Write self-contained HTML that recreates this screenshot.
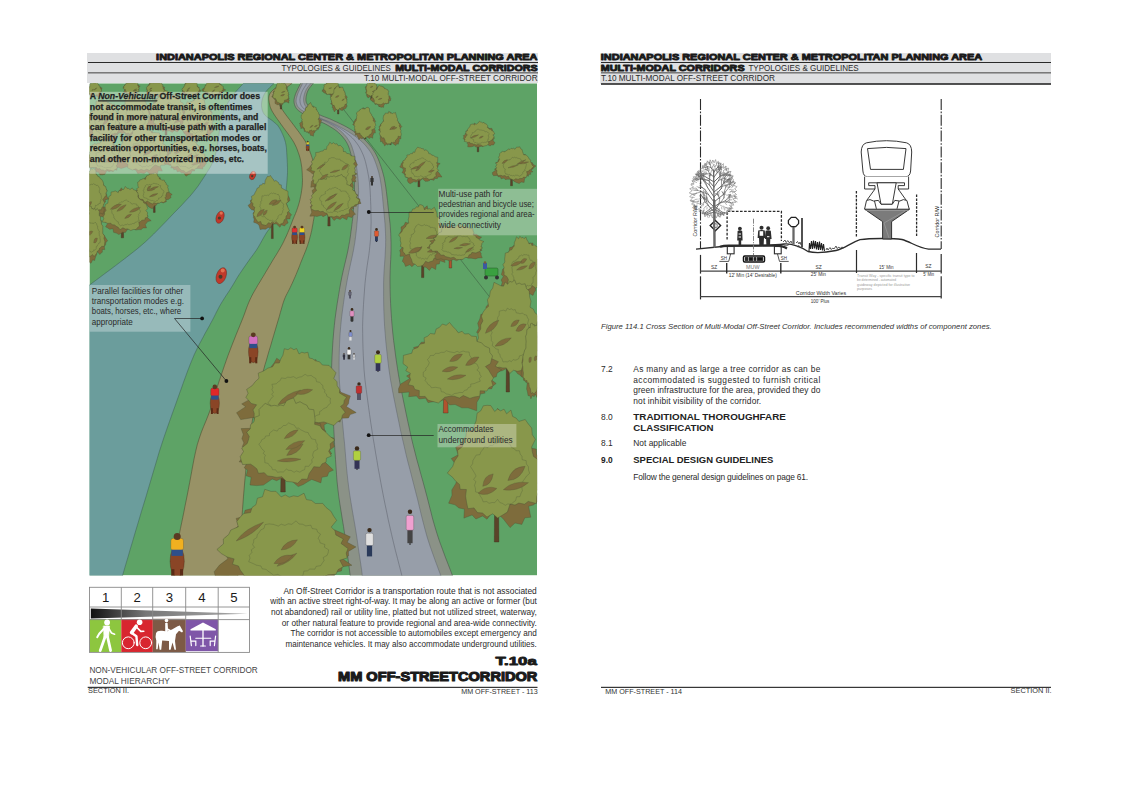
<!DOCTYPE html>
<html><head><meta charset="utf-8">
<style>
html,body{margin:0;padding:0;background:#fff;}
body{width:1123px;height:794px;overflow:hidden;}
svg{display:block;}
text{font-family:"Liberation Sans",sans-serif;}
.hv{font-weight:bold;fill:#1a1a1a;stroke:#1a1a1a;stroke-width:0.85;stroke-linejoin:round;}
.rg{fill:#2a2a2a;}
.bd{font-weight:bold;fill:#222;}
</style></head>
<body>
<svg width="1123" height="794" viewBox="0 0 1123 794">
<rect width="1123" height="794" fill="#fff"/>

<!-- LEFT PAGE HEADER -->
<rect x="87" y="53" width="451" height="30" fill="#dfe0e2"/>
<rect x="88" y="62" width="450" height="1" fill="#2a2a2a"/>
<rect x="88" y="72.1" width="450" height="1.4" fill="#6e6e6e"/>
<text class="hv" x="156.1" y="59.6" font-size="9.2" textLength="381.4" lengthAdjust="spacingAndGlyphs">INDIANAPOLIS REGIONAL CENTER &amp; METROPOLITAN PLANNING AREA</text>
<text class="rg" x="281.4" y="70.7" font-size="8.6" textLength="109.5" lengthAdjust="spacingAndGlyphs">TYPOLOGIES &amp; GUIDELINES</text>
<text class="hv" x="395.2" y="70.7" font-size="9.2" textLength="142.4" lengthAdjust="spacingAndGlyphs">MULTI-MODAL CORRIDORS</text>
<text class="rg" x="363.9" y="81.4" font-size="8.6" textLength="173.7" lengthAdjust="spacingAndGlyphs">T.10 MULTI-MODAL OFF-STREET CORRIDOR</text>

<!-- RIGHT PAGE HEADER -->
<rect x="600.3" y="53" width="450.7" height="31" fill="#dfe0e2"/>
<rect x="601" y="62" width="450" height="1" fill="#2a2a2a"/>
<rect x="601" y="72.1" width="450" height="1.4" fill="#6e6e6e"/>
<rect x="601" y="83.2" width="450" height="1.6" fill="#2a2a2a"/>
<text class="hv" x="600.8" y="59.6" font-size="9.2" textLength="381.4" lengthAdjust="spacingAndGlyphs">INDIANAPOLIS REGIONAL CENTER &amp; METROPOLITAN PLANNING AREA</text>
<text class="hv" x="600.8" y="70.7" font-size="9.2" textLength="143.8" lengthAdjust="spacingAndGlyphs">MULTI-MODAL CORRIDORS</text>
<text class="rg" x="748.4" y="70.7" font-size="8.6" textLength="110.3" lengthAdjust="spacingAndGlyphs">TYPOLOGIES &amp; GUIDELINES</text>
<text class="rg" x="601" y="81.4" font-size="8.6" textLength="174" lengthAdjust="spacingAndGlyphs">T.10 MULTI-MODAL OFF-STREET CORRIDOR</text>

<!-- ILLUSTRATION -->
<!--ILLUS_START-->
<g id="illus"><defs><clipPath id="ic"><rect x="89.5" y="83.3" width="447.6" height="492.1"/></clipPath></defs><g clip-path="url(#ic)">
<rect x="89.5" y="83.3" width="447.6" height="492.09999999999997" fill="#5ea366"/>
<path d="M243.5,83.3 L242.3,84.6 L240.6,86.4 L238.7,88.5 L236.6,90.8 L234.6,93.2 L232.8,95.4 L231.3,97.5 L229.8,99.7 L228.4,102.0 L227.1,104.2 L225.9,106.5 L224.8,108.7 L223.9,110.9 L223.1,113.1 L222.4,115.3 L221.8,117.6 L221.3,119.8 L220.8,122.0 L220.4,124.2 L220.0,126.5 L219.7,128.7 L219.4,130.9 L219.1,133.2 L218.8,135.4 L218.5,137.6 L218.2,139.9 L217.9,142.1 L217.6,144.3 L217.2,146.6 L216.8,148.8 L216.3,151.0 L215.7,153.3 L215.1,155.5 L214.4,157.7 L213.7,159.9 L212.8,162.0 L211.9,164.0 L211.0,165.8 L210.0,167.7 L208.8,169.5 L207.5,171.6 L206.0,174.0 L204.3,176.7 L202.4,179.6 L200.4,182.6 L198.2,185.9 L195.6,189.3 L192.8,192.8 L189.6,196.6 L185.9,200.5 L182.1,204.7 L178.0,208.9 L173.9,213.1 L169.9,217.3 L165.9,221.5 L161.8,225.7 L157.7,229.9 L153.6,234.1 L149.4,238.1 L145.3,241.9 L141.3,245.4 L137.4,248.7 L133.5,251.8 L129.5,254.9 L125.3,258.2 L120.8,261.6 L115.6,265.6 L109.7,270.0 L103.6,274.5 L97.9,278.8 L93.0,282.4 L89.5,285.0 L88.5,285.0 L88.5,576.4 L122.6,576.4 L122.6,575.4 L123.9,570.9 L125.7,564.7 L127.9,557.4 L130.2,549.4 L132.6,541.4 L134.8,533.8 L137.0,526.5 L139.2,519.2 L141.4,511.7 L143.7,504.2 L146.0,496.7 L148.2,489.2 L150.4,481.8 L152.6,474.3 L154.8,466.9 L157.0,459.5 L159.2,452.0 L161.6,444.6 L164.1,437.0 L166.8,429.2 L169.5,421.5 L172.2,413.9 L174.8,406.7 L177.2,400.0 L179.4,393.8 L181.5,388.0 L183.4,382.5 L185.3,377.4 L187.0,372.7 L188.6,368.5 L190.0,364.9 L191.2,361.9 L192.3,359.3 L193.3,356.9 L194.3,354.5 L195.5,352.0 L196.8,349.3 L198.1,346.7 L199.4,344.1 L200.8,341.5 L202.2,338.9 L203.6,336.3 L205.0,333.6 L206.5,330.9 L208.0,328.2 L209.6,325.4 L211.0,322.7 L212.5,320.0 L213.9,317.3 L215.2,314.7 L216.5,312.1 L217.8,309.5 L219.2,306.9 L220.7,304.2 L222.4,301.4 L224.2,298.6 L226.0,295.7 L227.9,292.9 L229.7,290.2 L231.3,287.6 L232.8,285.2 L234.1,283.0 L235.4,280.8 L236.6,278.7 L237.9,276.6 L239.3,274.4 L240.8,272.2 L242.3,270.0 L243.8,267.8 L245.4,265.5 L246.9,263.3 L248.5,261.1 L250.0,258.9 L251.6,256.8 L253.2,254.7 L254.7,252.5 L256.3,250.3 L257.8,247.9 L259.3,245.4 L260.8,242.7 L262.3,240.0 L263.8,237.3 L265.4,234.6 L267.0,232.0 L268.8,229.6 L270.7,227.3 L272.7,225.0 L274.6,222.7 L276.4,220.4 L278.0,218.0 L279.4,215.4 L280.7,212.7 L281.8,210.0 L282.8,207.3 L283.7,204.6 L284.5,202.0 L285.1,199.5 L285.5,197.2 L285.7,194.8 L285.9,192.5 L286.1,190.2 L286.3,187.8 L286.6,185.3 L286.8,182.8 L287.0,180.3 L287.2,177.8 L287.4,175.2 L287.5,172.7 L287.5,170.2 L287.5,167.7 L287.4,165.1 L287.3,162.6 L287.2,160.1 L287.0,157.6 L286.9,155.1 L286.7,152.5 L286.6,150.0 L286.4,147.5 L286.0,145.0 L285.5,142.5 L284.8,140.0 L283.9,137.3 L282.8,134.7 L281.7,132.3 L280.6,130.0 L279.5,128.0 L278.4,126.4 L277.4,125.1 L276.3,124.0 L275.1,123.1 L274.0,122.1 L272.7,121.0 L271.3,119.9 L269.7,118.8 L268.1,117.7 L266.5,116.6 L265.1,115.3 L264.0,114.0 L263.2,112.5 L262.5,110.9 L262.0,109.2 L261.7,107.5 L261.5,105.8 L261.5,104.0 L261.7,102.2 L262.0,100.4 L262.5,98.5 L263.2,96.6 L264.0,94.8 L265.0,93.0 L266.3,91.2 L267.9,89.3 L269.7,87.5 L271.5,85.8 L273.0,84.3 L274.0,83.3 Z" fill="#6b9d9c" stroke="#3f5f55" stroke-width="0.5"/>
<path d="M282.0,82.3 L282.0,83.3 L281.0,84.0 L279.5,85.1 L277.8,86.3 L276.0,87.6 L274.3,88.8 L273.0,90.0 L272.0,91.0 L271.1,92.0 L270.4,92.9 L269.8,93.9 L269.3,94.9 L269.0,96.0 L268.8,97.2 L268.7,98.5 L268.8,99.9 L269.0,101.2 L269.2,102.6 L269.5,104.0 L269.8,105.3 L270.1,106.5 L270.5,107.6 L271.0,108.9 L271.7,110.4 L272.7,112.2 L274.0,114.3 L275.7,116.8 L277.5,119.4 L279.5,122.1 L281.4,124.8 L283.3,127.4 L285.1,129.9 L287.0,132.4 L288.9,135.0 L290.7,137.5 L292.4,140.0 L293.9,142.5 L295.2,145.0 L296.4,147.5 L297.4,150.1 L298.3,152.6 L299.2,155.1 L299.9,157.6 L300.5,160.1 L301.0,162.6 L301.4,165.1 L301.8,167.7 L302.0,170.2 L302.2,172.7 L302.3,175.2 L302.4,177.7 L302.5,180.2 L302.4,182.8 L302.3,185.3 L302.0,188.0 L301.6,190.7 L301.2,193.6 L300.6,196.4 L300.0,199.3 L299.3,202.2 L298.5,205.0 L297.6,207.8 L296.6,210.7 L295.5,213.5 L294.3,216.3 L293.2,218.9 L292.2,221.5 L291.3,223.9 L290.4,226.1 L289.6,228.3 L288.7,230.4 L287.8,232.5 L286.9,234.7 L285.9,236.9 L284.8,239.1 L283.8,241.3 L282.7,243.5 L281.5,245.7 L280.3,247.9 L279.0,250.1 L277.7,252.3 L276.4,254.5 L275.0,256.7 L273.6,258.9 L272.3,261.1 L271.0,263.3 L269.7,265.5 L268.3,267.8 L267.0,270.0 L265.7,272.2 L264.4,274.4 L263.1,276.6 L261.7,278.8 L260.4,281.1 L259.0,283.3 L257.7,285.4 L256.5,287.6 L255.3,289.6 L254.2,291.5 L253.1,293.4 L252.1,295.3 L251.0,297.5 L249.8,300.0 L248.6,302.8 L247.4,305.8 L246.2,309.0 L245.0,312.4 L243.6,316.2 L242.0,320.2 L240.2,324.7 L238.2,329.6 L236.1,334.7 L234.0,340.0 L231.9,345.3 L229.9,350.5 L228.0,355.5 L226.2,360.6 L224.4,365.7 L222.7,370.7 L221.0,375.7 L219.3,380.7 L217.7,385.6 L216.3,390.3 L214.9,395.1 L213.5,399.9 L211.9,404.8 L210.2,410.0 L208.2,415.3 L206.0,420.8 L203.7,426.3 L201.4,432.1 L199.3,438.2 L197.3,444.6 L195.6,451.6 L194.0,459.1 L192.5,467.0 L191.1,474.8 L189.7,482.3 L188.4,489.2 L187.2,495.4 L186.0,501.2 L184.9,506.6 L183.9,511.9 L182.8,517.2 L181.7,522.6 L180.5,528.3 L179.3,534.3 L178.1,540.2 L177.0,545.9 L175.9,551.2 L175.0,556.0 L174.2,560.3 L173.5,564.2 L172.9,567.8 L172.4,570.9 L171.9,573.5 L171.6,575.4 L171.6,576.4 L238.0,576.4 L238.0,575.4 L238.3,570.4 L238.8,563.5 L239.3,555.2 L239.9,546.5 L240.5,537.8 L241.0,530.0 L241.5,523.0 L242.0,516.2 L242.5,509.5 L243.0,502.9 L243.5,496.2 L244.1,489.2 L244.7,482.0 L245.4,474.8 L246.0,467.5 L246.8,460.0 L247.6,452.4 L248.6,444.6 L249.8,436.3 L251.2,427.5 L252.7,418.5 L254.2,409.8 L255.7,401.8 L257.0,395.0 L258.1,389.6 L259.2,385.2 L260.2,381.5 L261.2,378.3 L262.1,375.1 L263.1,371.6 L264.1,368.1 L265.0,364.7 L266.0,361.5 L267.0,358.1 L268.0,354.5 L269.2,350.5 L270.6,345.9 L272.1,340.7 L273.7,335.3 L275.3,329.9 L276.8,324.8 L278.2,320.2 L279.4,316.2 L280.4,312.4 L281.4,309.0 L282.3,305.8 L283.2,302.8 L284.2,300.0 L285.2,297.5 L286.2,295.3 L287.2,293.4 L288.2,291.5 L289.2,289.6 L290.2,287.6 L291.2,285.4 L292.2,283.3 L293.2,281.1 L294.2,278.8 L295.2,276.6 L296.1,274.4 L297.0,272.2 L297.9,270.0 L298.8,267.8 L299.7,265.5 L300.5,263.3 L301.4,261.1 L302.3,258.9 L303.2,256.7 L304.1,254.5 L305.0,252.3 L305.9,250.1 L306.7,247.9 L307.5,245.7 L308.2,243.5 L308.9,241.3 L309.5,239.1 L310.1,236.9 L310.7,234.7 L311.2,232.5 L311.7,230.4 L312.1,228.3 L312.5,226.1 L312.9,223.9 L313.3,221.5 L313.8,218.9 L314.2,216.3 L314.7,213.5 L315.2,210.7 L315.6,207.8 L316.0,205.0 L316.4,202.2 L316.7,199.3 L317.0,196.4 L317.3,193.6 L317.4,190.7 L317.5,188.0 L317.5,185.3 L317.3,182.8 L317.1,180.2 L316.8,177.7 L316.4,175.2 L316.0,172.7 L315.5,170.2 L314.9,167.7 L314.3,165.1 L313.6,162.6 L312.8,160.1 L312.0,157.6 L311.2,155.1 L310.3,152.6 L309.4,150.1 L308.4,147.5 L307.3,145.0 L306.0,142.5 L304.5,140.0 L302.8,137.5 L301.0,135.0 L299.2,132.4 L297.3,129.9 L295.4,127.4 L293.5,124.8 L291.4,122.1 L289.4,119.4 L287.4,116.8 L285.5,114.3 L284.0,112.2 L282.8,110.4 L281.7,108.9 L280.9,107.6 L280.2,106.5 L279.6,105.3 L279.0,104.0 L278.5,102.6 L278.0,101.2 L277.6,99.8 L277.4,98.5 L277.3,97.2 L277.5,96.0 L278.0,95.0 L278.7,94.0 L279.6,93.2 L280.6,92.4 L281.8,91.5 L283.0,90.5 L284.4,89.3 L286.1,88.0 L287.8,86.6 L289.5,85.2 L291.0,84.1 L292.0,83.3 L292.0,82.3 Z" fill="#989266" stroke="#4d4a30" stroke-width="0.55"/>
<path d="M300.6,82.3 L300.6,83.3 L300.0,84.6 L299.1,86.4 L298.0,88.5 L297.0,90.7 L296.0,92.8 L295.3,94.7 L294.8,96.3 L294.4,97.8 L294.1,99.2 L294.0,100.6 L294.0,101.9 L294.2,103.2 L294.5,104.5 L294.9,105.7 L295.5,107.0 L296.2,108.2 L297.2,109.4 L298.5,110.6 L300.1,111.8 L302.0,113.1 L304.2,114.4 L306.5,115.6 L308.9,116.8 L311.2,118.0 L313.6,119.1 L316.1,120.1 L318.6,121.1 L321.1,122.1 L323.6,123.1 L326.0,124.3 L328.3,125.6 L330.5,126.9 L332.8,128.3 L334.9,129.7 L336.9,131.2 L338.7,132.8 L340.4,134.4 L342.0,136.1 L343.4,137.8 L344.8,139.6 L346.0,141.4 L347.1,143.3 L348.1,145.3 L348.9,147.3 L349.6,149.4 L350.2,151.5 L350.8,153.7 L351.3,156.0 L351.8,158.3 L352.2,160.7 L352.6,163.2 L352.9,165.7 L353.2,168.3 L353.5,170.9 L353.8,173.6 L354.0,176.2 L354.2,179.0 L354.4,181.8 L354.5,184.7 L354.5,187.8 L354.5,191.1 L354.4,194.6 L354.2,198.3 L354.0,201.9 L353.7,205.5 L353.5,209.0 L353.2,212.3 L353.0,215.4 L352.7,218.4 L352.3,221.5 L351.9,224.7 L351.5,228.0 L351.0,231.4 L350.6,234.7 L350.1,238.1 L349.5,241.7 L348.8,245.7 L348.0,250.0 L347.0,254.7 L345.8,259.8 L344.5,265.2 L343.2,270.8 L341.9,276.7 L340.7,282.9 L339.5,289.5 L338.4,296.4 L337.2,303.7 L336.1,311.1 L335.1,318.4 L334.3,325.7 L333.6,333.0 L333.0,340.4 L332.5,347.9 L332.1,355.1 L331.8,362.1 L331.6,368.6 L331.5,374.3 L331.6,379.4 L331.8,384.2 L332.0,389.0 L332.2,394.1 L332.5,400.0 L332.8,406.7 L333.1,413.9 L333.4,421.5 L333.8,429.2 L334.2,437.0 L334.6,444.6 L335.0,452.0 L335.5,459.5 L336.0,466.9 L336.5,474.3 L337.1,481.8 L337.9,489.2 L338.8,496.7 L339.9,504.1 L341.1,511.6 L342.3,519.1 L343.5,526.4 L344.6,533.7 L345.7,541.3 L346.8,549.4 L347.8,557.3 L348.8,564.7 L349.6,570.9 L350.2,575.4 L350.2,576.4 L452.4,576.4 L452.4,575.4 L450.7,570.9 L448.3,564.7 L445.4,557.3 L442.5,549.4 L439.5,541.3 L437.0,533.7 L434.8,526.4 L432.7,519.1 L430.8,511.6 L428.9,504.1 L427.0,496.7 L425.0,489.2 L423.0,481.8 L420.9,474.3 L418.9,466.9 L416.8,459.5 L414.9,452.0 L413.0,444.6 L411.2,437.0 L409.5,429.2 L407.8,421.5 L406.2,413.9 L404.7,406.7 L403.3,400.0 L402.1,394.1 L401.1,389.0 L400.1,384.2 L399.3,379.4 L398.4,374.3 L397.5,368.6 L396.5,362.1 L395.5,355.1 L394.6,347.9 L393.6,340.4 L392.8,333.0 L392.1,325.7 L391.5,318.4 L391.0,311.1 L390.6,303.7 L390.3,296.4 L390.1,289.5 L390.0,282.9 L390.0,276.7 L390.2,270.7 L390.4,265.0 L390.7,259.6 L390.9,254.6 L391.0,250.0 L391.0,245.9 L391.0,242.4 L390.9,239.3 L390.8,236.3 L390.7,233.3 L390.5,230.1 L390.3,226.7 L390.0,223.3 L389.6,219.9 L389.2,216.4 L388.8,212.8 L388.4,209.0 L387.9,204.9 L387.5,200.5 L386.9,196.0 L386.4,191.5 L385.8,187.3 L385.2,183.5 L384.6,180.2 L384.0,177.2 L383.3,174.4 L382.6,171.8 L381.8,169.2 L381.0,166.6 L380.1,164.0 L379.2,161.4 L378.2,158.9 L377.1,156.5 L375.9,154.1 L374.6,151.8 L373.1,149.5 L371.5,147.3 L369.8,145.2 L368.0,143.1 L366.1,141.1 L364.0,139.1 L361.8,137.2 L359.5,135.3 L357.0,133.5 L354.4,131.8 L351.8,130.1 L349.2,128.5 L346.5,126.9 L343.6,125.4 L340.8,124.0 L337.9,122.6 L335.0,121.3 L332.3,120.0 L329.7,118.8 L327.0,117.8 L324.4,116.8 L322.0,115.9 L319.6,114.8 L317.5,113.7 L315.5,112.4 L313.7,111.0 L312.0,109.5 L310.4,108.0 L309.1,106.6 L308.0,105.3 L307.2,104.2 L306.6,103.1 L306.2,102.2 L306.0,101.2 L305.9,100.2 L305.9,99.0 L306.0,97.7 L306.2,96.3 L306.5,94.8 L306.9,93.3 L307.4,91.9 L308.0,90.5 L308.8,89.1 L309.7,87.7 L310.8,86.4 L311.8,85.1 L312.7,84.1 L313.3,83.3 L313.3,82.3 Z" fill="#8b9287" stroke="#4a4f48" stroke-width="0.55"/>
<path d="M302.2,82.3 L302.2,84.1 L301.6,85.4 L300.7,87.2 L299.7,89.3 L298.7,91.5 L297.8,93.6 L297.2,95.4 L296.8,96.9 L296.4,98.2 L296.2,99.5 L296.1,100.7 L296.1,101.7 L296.3,102.8 L296.6,103.9 L297.0,104.9 L297.4,105.9 L298.0,106.9 L298.9,107.8 L300.0,108.9 L301.4,110.0 L303.2,111.1 L305.3,112.3 L307.6,113.5 L309.9,114.7 L312.2,115.8 L314.5,116.9 L317.0,117.8 L319.5,118.8 L322.1,119.8 L324.7,120.9 L327.2,122.1 L329.5,123.4 L331.9,124.7 L334.2,126.1 L336.4,127.6 L338.5,129.2 L340.5,130.8 L342.3,132.5 L344.0,134.2 L345.6,136.0 L347.1,137.9 L348.4,139.9 L349.7,141.9 L350.8,144.0 L351.7,146.2 L352.5,148.5 L353.2,150.7 L353.9,153.0 L354.5,155.3 L355.0,157.7 L355.5,160.2 L356.0,162.7 L356.4,165.3 L356.7,167.9 L357.1,170.5 L357.4,173.2 L357.7,175.9 L358.0,178.7 L358.2,181.6 L358.4,184.6 L358.5,187.8 L358.6,191.2 L358.5,194.8 L358.5,198.5 L358.3,202.2 L358.2,205.8 L358.0,209.3 L357.8,212.6 L357.6,215.8 L357.4,219.0 L357.1,222.1 L356.8,225.3 L356.5,228.7 L356.1,232.1 L355.7,235.4 L355.3,238.9 L354.8,242.6 L354.1,246.6 L353.3,251.1 L352.3,255.9 L351.2,261.1 L350.0,266.4 L348.8,272.1 L347.6,277.9 L346.5,284.0 L345.4,290.5 L344.3,297.4 L343.3,304.6 L342.3,311.9 L341.4,319.2 L340.7,326.4 L340.1,333.6 L339.7,340.9 L339.4,348.3 L339.2,355.5 L339.1,362.4 L339.1,368.8 L339.2,374.4 L339.3,379.3 L339.6,383.9 L340.0,388.6 L340.3,393.8 L340.7,399.7 L341.2,406.3 L341.7,413.5 L342.4,421.1 L343.1,428.8 L343.8,436.5 L344.6,444.0 L345.2,451.4 L345.8,458.8 L346.4,466.2 L347.1,473.5 L347.9,480.8 L348.8,488.0 L349.8,495.2 L351.0,502.5 L352.2,509.8 L353.5,517.3 L354.8,524.7 L356.0,532.0 L357.2,539.7 L358.3,547.8 L359.5,555.8 L360.6,563.1 L361.5,569.3 L362.1,573.8 L362.1,576.4 L442.1,576.4 L442.1,579.3 L440.5,574.8 L438.2,568.6 L435.4,561.1 L432.5,553.0 L429.6,544.7 L427.1,536.9 L425.0,529.3 L423.0,521.7 L421.1,514.1 L419.3,506.6 L417.5,499.1 L415.6,491.7 L413.7,484.3 L411.8,476.9 L409.9,469.4 L407.9,461.9 L406.0,454.3 L404.3,446.7 L402.5,439.0 L400.7,431.2 L399.1,423.3 L397.5,415.7 L396.0,408.4 L394.7,401.8 L393.5,395.9 L392.5,390.7 L391.6,385.8 L390.7,380.9 L389.9,375.7 L389.0,369.9 L388.2,363.3 L387.4,356.3 L386.6,348.9 L385.8,341.3 L385.2,333.8 L384.6,326.4 L384.2,319.0 L383.9,311.5 L383.7,304.0 L383.6,296.7 L383.6,289.6 L383.6,283.0 L383.8,276.6 L384.1,270.5 L384.5,264.7 L384.9,259.4 L385.2,254.4 L385.4,249.9 L385.6,245.9 L385.6,242.5 L385.7,239.5 L385.6,236.6 L385.5,233.6 L385.4,230.4 L385.2,227.1 L385.0,223.8 L384.7,220.4 L384.4,216.9 L384.1,213.3 L383.7,209.5 L383.3,205.4 L382.9,201.0 L382.5,196.5 L382.0,192.1 L381.6,187.9 L381.0,184.2 L380.5,181.0 L380.0,178.0 L379.4,175.4 L378.8,172.8 L378.1,170.4 L377.3,167.8 L376.5,165.3 L375.6,162.8 L374.7,160.4 L373.8,158.1 L372.7,155.9 L371.5,153.7 L370.2,151.6 L368.7,149.5 L367.1,147.4 L365.5,145.4 L363.6,143.5 L361.7,141.6 L359.7,139.8 L357.5,138.0 L355.1,136.2 L352.7,134.5 L350.1,132.8 L347.6,131.2 L345.0,129.7 L342.2,128.2 L339.4,126.7 L336.6,125.3 L333.8,123.9 L331.1,122.6 L328.6,121.5 L326.0,120.5 L323.4,119.5 L320.9,118.4 L318.4,117.3 L316.1,116.0 L314.0,114.6 L312.0,113.0 L310.2,111.4 L308.6,109.8 L307.2,108.3 L306.1,106.8 L305.1,105.5 L304.4,104.2 L304.0,102.8 L303.7,101.5 L303.6,100.3 L303.6,99.0 L303.7,97.5 L304.0,95.9 L304.4,94.3 L304.9,92.7 L305.5,91.1 L306.2,89.6 L307.1,88.1 L308.2,86.6 L309.3,85.2 L310.4,83.9 L311.3,82.9 L311.9,82.2 L311.9,82.3 Z" fill="#979ea9" stroke="#5a5f66" stroke-width="0.45"/>
<path d="M307.1,83.1 L306.4,84.1 L305.6,85.6 L304.5,87.2 L303.4,89.0 L302.4,90.8 L301.7,92.5 L301.1,94.0 L300.7,95.5 L300.3,96.9 L300.1,98.3 L299.9,99.6 L300.0,100.9 L300.1,102.1 L300.3,103.2 L300.7,104.4 L301.2,105.5 L302.0,106.7 L303.0,107.8 L304.3,109.1 L305.9,110.5 L307.8,111.9 L309.8,113.3 L312.0,114.6 L314.2,115.9 L316.5,117.1 L318.9,118.1 L321.5,119.1 L324.0,120.1 L326.6,121.2 L329.1,122.4 L331.7,123.7 L334.2,125.0 L336.8,126.4 L339.3,127.9 L341.7,129.4 L344.0,131.0 L346.2,132.7 L348.3,134.4 L350.4,136.1 L352.3,137.9 L354.1,139.8 L355.7,141.8 L357.2,143.8 L358.6,145.8 L359.8,147.9 L361.0,150.1 L362.0,152.3 L363.0,154.5 L363.9,156.8 L364.7,159.1 L365.4,161.5 L366.0,164.0 L366.6,166.6 L367.2,169.2 L367.7,171.8 L368.2,174.4 L368.7,177.0 L369.1,179.8 L369.5,182.8 L369.8,186.0 L370.1,189.6 L370.3,193.4 L370.5,197.5 L370.6,201.6 L370.8,205.6 L370.9,209.4 L371.0,213.0 L371.0,216.4 L371.1,219.7 L371.1,222.9 L371.0,226.2 L370.9,229.5 L370.8,232.8 L370.7,236.0 L370.5,239.2 L370.2,242.6 L369.8,246.3 L369.4,250.5 L368.8,255.2 L368.0,260.2 L367.2,265.6 L366.4,271.3 L365.7,277.2 L365.0,283.5 L364.5,290.0 L364.0,297.0 L363.5,304.3 L363.1,311.7 L362.8,319.1 L362.6,326.4 L362.7,333.7 L362.8,341.1 L363.0,348.6 L363.3,355.9 L363.7,362.9 L364.0,369.3 L364.5,375.0 L365.0,380.1 L365.6,384.8 L366.2,389.6 L366.9,394.8 L367.7,400.7 L368.6,407.4 L369.6,414.6 L370.7,422.2 L371.9,430.0 L373.1,437.8 L374.4,445.4 L375.6,452.9 L376.9,460.3 L378.1,467.8 L379.5,475.2 L380.8,482.5 L382.2,489.8 L383.6,497.1 L385.1,504.5 L386.7,512.0 L388.2,519.5 L389.9,527.0 L391.6,534.5 L393.4,542.2 L395.4,550.4 L397.5,558.5 L399.4,565.9 L401.0,572.1 L402.1,576.6" fill="none" stroke="#5a5f68" stroke-width="0.5"/>
<line x1="330" y1="92" x2="506" y2="318" stroke="#3c5a40" stroke-width="0.55"/>
<path d="M94.5,82.4 L95.0,83.0 L95.6,82.8 L95.8,84.2 L96.3,84.3 L96.7,84.7 L97.5,84.2 L97.5,85.4 L98.0,85.7 L98.1,86.3 L99.2,86.2 L99.2,87.0 L100.3,87.2 L101.4,87.7 L102.2,88.3 L101.2,89.2 L101.3,89.8 L100.5,90.4 L100.6,91.0 L100.1,91.4 L100.9,92.2 L100.8,92.8 L100.9,93.4 L99.7,93.4 L100.2,94.5 L99.7,94.9 L99.6,95.8 L98.6,95.9 L98.3,97.0 L97.0,96.3 L96.1,95.9 L95.2,94.9 L94.5,95.6 L93.8,95.4 L92.9,96.0 L92.1,96.0 L90.9,96.7 L90.6,95.5 L89.9,95.2 L89.5,94.8 L88.3,94.9 L88.2,94.1 L87.7,93.7 L87.8,92.9 L87.9,92.2 L89.0,91.3 L88.6,90.9 L88.7,90.4 L87.7,89.8 L87.9,89.2 L87.4,88.4 L87.9,87.7 L88.5,87.2 L89.9,87.1 L89.6,86.1 L90.1,85.6 L90.6,85.2 L91.6,85.5 L91.8,84.7 L92.4,84.9 L92.8,84.6 L93.3,84.7 L93.5,83.0 L94.0,82.9 Z" fill="#7e6c3c" stroke="#4a5235" stroke-width="0.35"/>
<path d="M94.5,82.5 L94.9,82.7 L95.4,82.4 L95.9,82.6 L96.6,82.0 L97.2,82.1 L97.7,82.6 L97.8,83.6 L98.3,84.0 L98.4,84.8 L99.0,85.1 L99.1,85.8 L99.9,86.1 L100.0,86.8 L100.1,87.5 L100.1,88.1 L101.1,88.7 L101.1,89.4 L101.4,90.1 L101.6,90.9 L101.6,91.6 L100.5,91.8 L100.1,92.3 L99.4,92.4 L99.4,93.2 L98.7,93.3 L98.5,94.1 L98.0,94.6 L97.5,95.1 L96.6,94.8 L96.0,95.3 L95.3,95.6 L94.5,96.3 L93.7,95.6 L92.9,95.8 L92.3,95.1 L91.8,94.5 L91.6,93.5 L90.6,93.9 L90.0,93.7 L89.2,93.5 L89.0,92.9 L88.0,92.8 L88.1,92.0 L88.1,91.3 L88.1,90.7 L87.4,90.2 L87.8,89.4 L88.1,88.7 L88.9,88.1 L88.9,87.5 L89.5,87.0 L89.7,86.4 L89.7,85.7 L89.5,84.7 L90.0,84.2 L90.4,83.6 L91.1,83.4 L91.5,82.9 L92.2,83.1 L92.6,82.7 L93.1,82.5 L93.5,82.0 L94.1,82.6 Z" fill="#88974b" stroke="#4a5235" stroke-width="0.4"/>
<path d="M93.5,89.3 Q95.0,88.4 97.3,88.7 Q95.6,89.7 93.5,89.3 Z" transform="rotate(-29 95.4 89.1)" fill="#7e6c3c" stroke="#4a5235" stroke-width="0.25"/>
<path d="M91.7,90.2 Q92.5,89.3 93.7,89.6 Q92.8,90.5 91.7,90.2 Z" transform="rotate(-17 92.7 89.9)" fill="#7e6c3c" stroke="#4a5235" stroke-width="0.25"/>
<path d="M130.4,90.0 L131.6,90.0 L131.7,95.0 L130.3,95.0 Z" fill="#5b4329" stroke="#3a2a1a" stroke-width="0.35"/>
<path d="M131.5,80.3 L132.0,81.6 L132.6,81.4 L133.1,82.0 L133.7,81.8 L134.0,82.7 L134.8,82.4 L135.1,83.2 L135.6,83.6 L135.4,84.6 L136.8,84.3 L137.4,84.8 L138.9,85.0 L138.8,85.8 L140.2,86.3 L139.0,87.2 L138.9,87.8 L138.0,88.4 L139.1,89.0 L138.7,89.6 L138.8,90.1 L138.4,90.6 L139.3,91.6 L137.8,91.6 L137.7,92.2 L137.7,93.1 L137.9,94.4 L136.3,93.9 L135.6,94.4 L134.2,93.8 L133.3,93.9 L132.2,92.8 L131.5,93.3 L130.6,93.8 L129.6,94.2 L128.9,93.6 L127.5,94.3 L127.0,93.6 L126.0,93.5 L125.7,92.7 L124.1,93.0 L123.9,92.3 L123.8,91.6 L124.6,90.6 L124.0,90.2 L124.9,89.4 L124.7,88.9 L124.7,88.4 L123.1,87.8 L123.4,87.2 L123.6,86.5 L124.8,86.0 L124.6,85.2 L125.8,84.9 L125.9,84.2 L126.5,83.7 L126.8,82.9 L128.2,83.6 L128.6,83.1 L129.3,83.2 L129.4,82.2 L130.0,82.3 L130.3,80.9 L130.9,80.6 Z" fill="#7e6c3c" stroke="#4a5235" stroke-width="0.35"/>
<path d="M131.5,80.1 L132.0,80.6 L132.6,80.5 L133.1,80.6 L133.7,80.6 L134.0,81.4 L134.6,81.5 L135.3,81.7 L136.2,81.7 L136.5,82.3 L137.5,82.5 L137.8,83.3 L137.9,84.1 L137.4,85.0 L137.8,85.5 L138.2,86.1 L138.6,86.7 L138.3,87.3 L139.3,88.1 L139.0,88.7 L138.7,89.2 L138.3,89.7 L139.1,90.8 L138.4,91.2 L137.9,91.8 L136.8,91.8 L136.3,92.3 L135.2,92.0 L134.5,92.3 L133.8,92.5 L133.3,93.4 L132.3,93.1 L131.5,93.6 L130.6,93.6 L129.6,93.8 L129.0,93.0 L128.0,93.1 L127.2,92.9 L126.3,92.8 L126.3,91.7 L125.8,91.2 L125.6,90.6 L125.2,90.2 L125.4,89.4 L124.2,89.3 L123.5,88.8 L123.3,88.2 L123.8,87.4 L123.7,86.7 L124.3,86.1 L124.5,85.4 L125.3,84.9 L125.1,84.1 L125.9,83.7 L126.4,83.2 L127.3,83.0 L127.4,82.3 L127.8,81.8 L128.1,81.1 L128.6,80.6 L128.9,79.6 L129.7,79.8 L130.4,80.0 L131.0,80.3 Z" fill="#88974b" stroke="#4a5235" stroke-width="0.4"/>
<path d="M133.3,90.9 Q134.9,89.9 137.3,90.3 Q135.5,91.3 133.3,90.9 Z" transform="rotate(-9 135.3 90.7)" fill="#7e6c3c" stroke="#4a5235" stroke-width="0.25"/>
<path d="M133.3,90.0 Q134.8,89.0 136.9,89.4 Q135.3,90.4 133.3,90.0 Z" transform="rotate(-17 135.1 89.7)" fill="#7e6c3c" stroke="#4a5235" stroke-width="0.25"/>
<path d="M155.5,80.8 L156.1,82.2 L156.8,81.5 L157.4,81.7 L158.3,81.4 L158.8,82.2 L159.6,82.2 L159.8,83.3 L159.9,84.3 L159.6,85.5 L161.0,85.3 L161.7,85.8 L162.9,86.1 L163.1,86.9 L164.8,87.3 L164.2,88.2 L164.7,89.0 L164.3,89.7 L165.6,90.6 L164.7,91.2 L164.6,91.9 L163.7,92.2 L163.6,92.9 L161.5,92.5 L161.9,93.5 L161.7,94.2 L162.3,96.0 L160.9,95.9 L160.3,96.8 L158.9,96.5 L157.8,96.7 L156.5,95.4 L155.5,96.0 L154.4,96.2 L153.3,96.4 L152.7,95.2 L151.6,95.4 L151.0,94.7 L149.9,94.8 L149.5,94.1 L147.0,95.0 L146.4,94.4 L145.9,93.7 L146.9,92.4 L146.2,91.9 L147.6,90.8 L147.5,90.2 L147.8,89.6 L146.6,89.0 L147.8,88.3 L147.8,87.6 L148.7,87.1 L148.1,86.1 L149.0,85.6 L148.7,84.5 L149.4,83.8 L149.5,82.6 L151.1,83.2 L152.0,83.3 L152.8,83.4 L153.2,82.6 L154.0,83.3 L154.3,82.0 L154.9,81.4 Z" fill="#7e6c3c" stroke="#4a5235" stroke-width="0.35"/>
<path d="M155.5,80.1 L156.1,80.5 L156.7,80.7 L157.1,81.5 L157.9,81.0 L158.7,80.8 L159.6,80.8 L160.0,81.6 L160.8,81.9 L161.3,82.6 L161.7,83.4 L161.8,84.2 L162.8,84.7 L162.9,85.5 L163.1,86.2 L162.6,87.0 L163.3,87.7 L163.2,88.4 L163.7,89.1 L164.0,89.9 L164.9,91.0 L164.3,91.6 L163.6,92.1 L162.6,92.4 L162.3,93.1 L161.2,93.1 L160.7,93.8 L160.0,94.1 L159.3,94.7 L158.1,94.3 L157.3,94.7 L156.4,94.8 L155.5,95.5 L154.5,95.5 L153.3,96.0 L152.3,95.7 L151.4,95.2 L151.2,93.9 L150.4,93.6 L149.9,93.0 L149.1,92.8 L148.7,92.2 L147.7,91.9 L147.6,91.2 L147.3,90.6 L147.4,89.8 L146.4,89.3 L146.6,88.5 L146.4,87.7 L147.2,86.9 L147.3,86.1 L148.6,85.6 L149.1,85.0 L149.8,84.6 L149.7,83.6 L150.2,83.0 L150.4,82.1 L151.1,81.7 L151.4,80.8 L152.4,81.1 L152.9,80.5 L153.6,80.2 L154.1,79.5 L154.9,80.2 Z" fill="#88974b" stroke="#4a5235" stroke-width="0.4"/>
<path d="M149.4,89.2 Q150.5,87.7 152.2,88.2 Q150.9,89.8 149.4,89.2 Z" transform="rotate(-9 150.8 88.8)" fill="#7e6c3c" stroke="#4a5235" stroke-width="0.25"/>
<path d="M148.9,91.4 Q150.1,90.1 152.0,90.6 Q150.6,91.9 148.9,91.4 Z" transform="rotate(-11 150.4 91.0)" fill="#7e6c3c" stroke="#4a5235" stroke-width="0.25"/>
<path d="M191.0,81.5 L191.5,82.9 L192.1,82.2 L192.8,81.8 L193.7,81.2 L194.1,82.0 L195.2,81.6 L195.4,82.8 L195.8,83.7 L195.1,85.3 L196.2,85.3 L196.7,85.8 L197.5,86.3 L197.5,87.0 L199.2,87.4 L198.8,88.3 L199.0,89.0 L199.1,89.7 L200.9,90.6 L200.2,91.3 L200.3,92.1 L198.9,92.3 L198.8,93.0 L196.7,92.6 L196.6,93.2 L196.5,94.0 L196.8,95.3 L195.8,95.5 L195.2,96.2 L194.1,96.3 L193.3,97.1 L192.0,96.1 L191.0,96.7 L189.9,96.8 L188.7,97.0 L188.3,95.2 L187.5,95.1 L186.9,94.5 L186.2,94.3 L185.9,93.6 L183.7,94.5 L183.0,94.0 L181.9,93.7 L182.7,92.5 L182.0,92.0 L182.5,91.1 L182.7,90.4 L183.3,89.6 L182.5,89.0 L183.5,88.3 L184.4,87.7 L185.2,87.2 L184.7,86.4 L185.2,85.8 L184.8,84.6 L185.2,83.8 L185.2,82.5 L186.7,83.0 L187.4,82.8 L188.3,82.9 L188.7,82.4 L189.5,82.8 L189.9,82.1 L190.4,81.9 Z" fill="#7e6c3c" stroke="#4a5235" stroke-width="0.35"/>
<path d="M191.0,80.8 L191.5,80.8 L192.2,80.3 L192.7,80.6 L193.5,80.2 L194.0,80.8 L194.7,81.1 L195.0,82.0 L196.1,81.8 L196.5,82.6 L197.1,83.2 L196.8,84.3 L197.5,84.8 L197.2,85.7 L197.4,86.4 L197.6,87.0 L198.9,87.7 L199.2,88.5 L199.7,89.3 L199.2,90.0 L199.4,90.8 L198.6,91.3 L198.3,91.9 L197.7,92.4 L197.7,93.3 L196.4,93.2 L195.7,93.5 L194.8,93.5 L194.5,94.5 L193.5,94.2 L192.9,95.3 L192.0,95.9 L191.0,96.6 L190.0,95.4 L189.1,95.5 L188.3,94.8 L187.4,94.7 L187.0,93.9 L185.8,94.1 L185.3,93.5 L184.8,92.9 L184.9,92.0 L184.0,91.8 L183.6,91.2 L182.6,90.8 L182.6,90.0 L181.7,89.4 L182.6,88.5 L183.0,87.7 L184.1,87.0 L184.0,86.3 L184.5,85.6 L184.7,84.9 L185.2,84.3 L185.2,83.3 L186.2,83.2 L186.5,82.5 L186.9,81.8 L187.1,80.7 L187.9,80.6 L188.4,80.0 L189.1,80.1 L189.8,80.1 L190.5,81.0 Z" fill="#88974b" stroke="#4a5235" stroke-width="0.4"/>
<path d="M187.0,88.9 Q188.3,87.9 190.4,88.3 Q188.8,89.2 187.0,88.9 Z" transform="rotate(-22 188.7 88.6)" fill="#7e6c3c" stroke="#4a5235" stroke-width="0.25"/>
<path d="M186.2,91.2 Q187.3,89.7 189.0,90.2 Q187.7,91.7 186.2,91.2 Z" transform="rotate(-22 187.6 90.8)" fill="#7e6c3c" stroke="#4a5235" stroke-width="0.25"/>
<path d="M212.8,90.0 L214.0,90.0 L214.1,97.0 L212.7,97.0 Z" fill="#5b4329" stroke="#3a2a1a" stroke-width="0.35"/>
<path d="M213.5,82.6 L214.1,82.9 L214.8,82.0 L215.7,81.5 L216.6,81.3 L217.1,82.2 L218.2,81.9 L218.4,83.0 L219.3,83.3 L219.7,84.0 L221.1,84.1 L220.8,85.2 L220.9,86.0 L220.5,86.8 L221.8,87.2 L221.6,87.8 L222.8,88.4 L224.1,89.1 L225.7,90.0 L224.1,90.5 L224.0,91.2 L223.0,91.6 L223.1,92.3 L221.6,92.5 L221.6,93.2 L220.7,93.6 L220.2,94.2 L218.1,93.3 L217.6,94.0 L216.8,94.6 L216.1,95.9 L214.8,95.6 L213.5,96.9 L212.2,96.0 L211.0,95.6 L210.4,94.1 L208.9,94.7 L208.3,94.0 L207.1,94.0 L207.0,93.1 L205.2,93.3 L205.2,92.5 L205.0,91.9 L204.9,91.3 L202.6,91.3 L202.4,90.6 L201.7,90.0 L202.9,89.1 L203.0,88.4 L205.3,87.8 L206.0,87.3 L206.1,86.7 L205.5,85.8 L206.7,85.4 L206.7,84.6 L207.2,84.0 L207.6,83.3 L208.8,83.2 L209.0,82.3 L209.6,81.7 L210.3,81.1 L211.4,81.7 L212.1,81.6 L212.9,82.5 Z" fill="#7e6c3c" stroke="#4a5235" stroke-width="0.35"/>
<path d="M213.5,79.7 L214.2,80.0 L214.9,80.1 L215.5,80.7 L216.5,80.3 L217.2,80.6 L218.1,80.7 L218.6,81.5 L219.5,81.7 L219.3,83.0 L219.7,83.6 L219.7,84.4 L220.9,84.6 L221.3,85.2 L222.4,85.8 L222.9,86.5 L223.7,87.2 L222.8,87.9 L223.3,88.6 L223.1,89.3 L223.3,90.1 L222.2,90.5 L222.3,91.2 L221.2,91.5 L220.4,91.8 L219.2,91.8 L219.3,92.9 L218.7,93.5 L218.1,94.3 L216.9,94.3 L216.0,95.1 L214.7,94.6 L213.5,94.5 L212.4,94.0 L211.3,94.4 L210.3,94.0 L209.4,93.6 L208.8,92.9 L207.6,92.9 L207.5,92.0 L206.4,92.0 L205.2,91.8 L203.7,91.7 L203.6,90.9 L203.4,90.2 L204.0,89.3 L204.0,88.6 L205.0,87.8 L204.6,87.2 L204.9,86.5 L204.9,85.8 L206.0,85.3 L205.8,84.5 L206.5,84.0 L206.7,83.2 L207.3,82.6 L207.3,81.5 L208.1,81.1 L208.9,80.6 L210.2,81.3 L210.8,80.9 L211.6,81.1 L212.2,80.6 L212.9,80.7 Z" fill="#88974b" stroke="#4a5235" stroke-width="0.4"/>
<path d="M211.3,91.5 Q212.9,90.0 215.3,90.6 Q213.5,92.0 211.3,91.5 Z" transform="rotate(-30 213.3 91.1)" fill="#7e6c3c" stroke="#4a5235" stroke-width="0.25"/>
<path d="M214.4,87.3 Q216.3,85.8 219.1,86.3 Q217.0,87.8 214.4,87.3 Z" transform="rotate(-7 216.7 86.9)" fill="#7e6c3c" stroke="#4a5235" stroke-width="0.25"/>
<path d="M103.3,135.0 L104.7,135.0 L104.9,145.0 L103.1,145.0 Z" fill="#5b4329" stroke="#3a2a1a" stroke-width="0.35"/>
<path d="M104.0,100.3 L105.3,102.0 L106.6,102.5 L107.4,105.5 L109.0,104.4 L109.3,107.8 L110.8,107.7 L111.7,109.1 L113.4,109.4 L113.0,112.4 L114.0,113.6 L115.4,114.6 L118.7,114.7 L118.6,117.0 L122.2,118.1 L122.5,120.3 L122.8,122.4 L118.7,124.0 L119.8,125.8 L119.2,127.2 L119.8,129.1 L117.9,129.8 L119.5,132.6 L117.9,133.4 L117.6,135.2 L115.0,134.9 L116.0,138.9 L114.6,140.5 L113.3,142.7 L110.3,140.9 L108.4,142.0 L105.9,139.7 L104.0,138.5 L102.4,137.2 L100.1,139.9 L98.5,138.6 L96.3,139.2 L94.7,138.2 L91.9,139.1 L92.2,135.8 L89.5,136.1 L88.0,135.0 L85.9,134.2 L87.1,131.4 L87.3,129.4 L88.7,127.2 L89.0,125.6 L91.0,123.8 L89.0,122.4 L88.0,120.6 L86.9,118.4 L89.8,117.1 L89.4,114.8 L91.1,113.5 L91.8,111.6 L94.1,111.3 L93.7,108.1 L95.5,107.7 L97.2,107.6 L99.3,109.5 L99.8,107.2 L100.9,107.0 L101.7,105.0 L102.8,104.1 Z" fill="#7e6c3c" stroke="#4a5235" stroke-width="0.35"/>
<path d="M104.0,101.1 L105.1,101.2 L106.4,100.5 L107.3,102.5 L108.6,102.2 L109.4,103.8 L111.2,103.2 L112.2,104.5 L114.4,104.1 L115.4,105.9 L116.7,107.4 L115.8,110.6 L116.8,112.1 L116.5,114.2 L117.7,115.7 L117.9,117.5 L119.6,119.2 L119.3,121.0 L119.6,122.9 L118.6,124.3 L120.4,126.9 L119.8,128.5 L119.8,130.7 L118.3,131.8 L117.9,133.9 L115.0,133.2 L113.5,133.9 L111.7,134.0 L110.8,136.0 L108.9,135.6 L107.7,137.8 L105.9,138.5 L104.0,139.5 L102.2,137.4 L100.2,138.3 L98.3,138.3 L96.2,138.3 L95.0,136.4 L93.2,135.9 L92.9,133.3 L92.3,131.6 L92.9,129.0 L90.3,129.2 L89.1,128.1 L87.3,127.0 L87.9,124.8 L86.4,123.3 L87.8,121.1 L88.2,119.2 L89.6,117.4 L88.8,115.3 L90.2,113.7 L90.7,111.8 L92.9,111.1 L93.1,109.1 L94.9,108.6 L95.4,106.7 L96.0,104.8 L96.0,101.4 L97.6,101.1 L98.9,100.3 L100.3,100.4 L101.5,99.6 L102.9,101.6 Z" fill="#88974b" stroke="#4a5235" stroke-width="0.4"/>
<path d="M104.8,111.5 L105.8,112.3 L106.9,111.7 L107.7,112.8 L108.7,113.2 L109.3,114.3 L110.6,114.0 L111.0,115.2 L111.7,115.9 L111.9,117.1 L112.9,117.6 L112.7,118.9 L113.8,119.5 L114.6,120.3 L115.8,121.2 L115.6,122.4 L115.3,123.6 L114.8,124.7 L114.6,125.8 L113.7,126.6 L113.8,127.7 L113.3,128.6 L113.2,129.9 L112.0,130.2 L111.7,131.3 L111.0,131.9 L110.6,133.2 L109.6,133.6 L109.1,135.2 L108.0,135.3 L106.9,135.3 L105.7,134.1 L104.8,134.3 L103.9,133.6 L102.9,133.9 L102.1,133.4 L100.8,134.3 L100.1,133.4 L99.2,133.0 L98.8,131.8 L97.4,131.8 L96.6,131.0 L95.8,130.3 L95.4,129.2 L94.8,128.2 L95.7,126.7 L96.0,125.5 L96.1,124.5 L95.0,123.6 L95.2,122.6 L94.8,121.4 L94.7,120.2 L94.9,119.1 L96.2,118.5 L96.2,117.3 L96.9,116.4 L97.3,115.3 L98.6,115.2 L99.3,114.4 L100.4,114.5 L101.2,114.0 L102.3,114.4 L102.9,112.9 L103.8,112.4 Z" fill="none" stroke="#4a5235" stroke-width="0.35" opacity="0.8"/>
<path d="M104.4,118.6 Q108.0,115.5 113.3,116.6 Q109.3,119.7 104.4,118.6 Z" transform="rotate(-26 108.9 117.7)" fill="#7e6c3c" stroke="#4a5235" stroke-width="0.25"/>
<path d="M97.6,119.7 Q100.9,116.7 105.9,117.8 Q102.2,120.8 97.6,119.7 Z" transform="rotate(-29 101.8 118.9)" fill="#7e6c3c" stroke="#4a5235" stroke-width="0.25"/>
<path d="M93.4,118.0 Q97.2,114.9 102.8,116.1 Q98.6,119.2 93.4,118.0 Z" transform="rotate(-3 98.1 117.2)" fill="#7e6c3c" stroke="#4a5235" stroke-width="0.25"/>
<path d="M101.6,123.1 Q105.0,119.7 110.0,120.9 Q106.2,124.4 101.6,123.1 Z" transform="rotate(-28 105.8 122.2)" fill="#7e6c3c" stroke="#4a5235" stroke-width="0.25"/>
<path d="M132.3,130.0 L133.7,130.0 L133.9,140.0 L132.1,140.0 Z" fill="#5b4329" stroke="#3a2a1a" stroke-width="0.35"/>
<path d="M134.0,97.9 L135.2,99.4 L136.5,98.1 L137.3,100.7 L138.5,101.0 L139.4,102.5 L141.0,102.1 L140.9,105.5 L142.0,106.3 L143.4,106.9 L146.4,106.5 L147.4,108.2 L150.3,108.9 L150.4,111.3 L151.4,113.3 L147.7,115.8 L149.7,117.4 L149.6,119.1 L150.1,120.8 L149.0,122.2 L150.7,124.4 L149.6,125.7 L148.7,127.0 L147.3,127.9 L149.6,132.1 L148.2,133.5 L146.9,135.2 L143.8,134.1 L142.8,136.4 L139.4,133.2 L137.6,133.3 L135.6,131.8 L134.0,136.0 L132.0,135.0 L129.8,136.0 L128.4,134.0 L125.6,135.6 L125.0,132.6 L122.1,133.8 L120.5,132.7 L117.2,133.3 L119.1,129.1 L118.4,127.6 L119.6,125.1 L119.5,123.5 L120.9,121.5 L117.6,120.9 L117.0,119.2 L115.8,117.4 L118.4,115.6 L117.2,113.4 L119.4,112.0 L119.5,109.9 L121.7,108.9 L121.2,106.0 L123.6,105.8 L125.0,104.8 L127.3,105.9 L127.8,103.9 L129.0,103.7 L129.3,100.5 L130.4,99.5 L131.2,95.8 L132.7,97.7 Z" fill="#7e6c3c" stroke="#4a5235" stroke-width="0.35"/>
<path d="M134.0,93.9 L135.2,95.4 L136.3,96.0 L137.2,98.0 L138.4,97.9 L139.3,99.2 L140.9,98.6 L142.3,99.3 L144.6,98.8 L145.0,101.3 L146.1,102.9 L146.5,105.1 L147.6,106.6 L146.8,109.1 L148.4,110.5 L148.7,112.4 L149.3,114.2 L147.8,115.8 L148.9,117.7 L148.8,119.4 L150.1,121.7 L149.4,123.3 L150.8,126.5 L149.4,127.7 L147.7,128.7 L144.6,127.7 L144.2,130.0 L141.9,129.3 L140.8,131.0 L139.2,131.4 L137.8,133.6 L135.8,132.3 L134.0,132.3 L132.3,132.0 L130.0,134.4 L128.3,133.1 L126.1,133.6 L124.7,132.0 L123.1,131.1 L123.5,127.5 L122.4,126.5 L121.9,124.9 L119.9,124.5 L119.9,122.6 L118.0,121.7 L117.8,119.9 L117.2,118.1 L118.5,116.0 L117.5,114.2 L118.1,112.2 L118.1,110.2 L120.3,108.8 L120.6,106.8 L122.8,106.0 L123.7,104.6 L125.3,104.0 L124.9,101.0 L125.6,99.2 L126.5,97.4 L127.9,96.9 L128.7,94.5 L130.4,95.7 L131.6,95.2 L132.8,95.7 Z" fill="#88974b" stroke="#4a5235" stroke-width="0.4"/>
<path d="M134.8,107.9 L135.7,108.5 L136.6,108.4 L137.5,108.7 L138.9,107.7 L139.9,108.0 L140.9,108.4 L141.4,109.7 L142.3,110.3 L142.2,111.8 L142.8,112.6 L143.2,113.6 L144.3,114.2 L143.7,115.6 L144.1,116.6 L144.2,117.6 L144.9,118.6 L144.5,119.7 L145.3,120.9 L145.2,122.1 L145.2,123.4 L143.7,123.9 L143.2,124.8 L141.9,125.1 L141.6,126.1 L140.6,126.4 L140.3,127.8 L139.6,128.5 L138.6,128.9 L137.6,128.7 L136.8,129.8 L135.8,129.7 L134.8,130.6 L133.8,130.2 L132.7,130.6 L131.8,129.5 L131.1,128.6 L130.6,127.2 L129.5,127.3 L129.0,126.4 L127.8,126.3 L127.2,125.5 L125.8,125.3 L126.0,123.8 L125.4,122.9 L125.2,121.8 L124.0,121.0 L124.4,119.7 L124.4,118.6 L125.2,117.5 L125.1,116.5 L126.6,115.8 L126.3,114.7 L126.4,113.6 L126.2,112.2 L126.9,111.4 L127.2,110.2 L128.1,109.6 L129.0,108.9 L130.3,109.2 L130.9,108.1 L131.8,107.8 L132.8,107.5 L133.9,108.5 Z" fill="none" stroke="#4a5235" stroke-width="0.35" opacity="0.8"/>
<path d="M126.1,121.9 Q128.6,119.3 132.3,120.3 Q129.5,122.9 126.1,121.9 Z" transform="rotate(-17 129.2 121.2)" fill="#7e6c3c" stroke="#4a5235" stroke-width="0.25"/>
<path d="M124.2,126.5 Q127.6,123.9 132.8,124.8 Q128.9,127.4 124.2,126.5 Z" transform="rotate(-20 128.5 125.8)" fill="#7e6c3c" stroke="#4a5235" stroke-width="0.25"/>
<path d="M129.4,119.8 Q132.1,116.5 136.1,117.7 Q133.1,121.1 129.4,119.8 Z" transform="rotate(-3 132.8 118.9)" fill="#7e6c3c" stroke="#4a5235" stroke-width="0.25"/>
<path d="M124.6,120.3 Q126.8,116.9 130.2,118.2 Q127.6,121.5 124.6,120.3 Z" transform="rotate(-19 127.4 119.4)" fill="#7e6c3c" stroke="#4a5235" stroke-width="0.25"/>
<path d="M165.2,125.0 L166.8,125.0 L166.9,135.0 L165.1,135.0 Z" fill="#5b4329" stroke="#3a2a1a" stroke-width="0.35"/>
<path d="M167.5,95.3 L168.7,96.4 L170.0,96.3 L171.2,97.3 L173.4,94.6 L174.6,96.3 L176.1,97.1 L176.6,99.6 L177.8,100.8 L177.0,104.1 L178.1,105.1 L179.3,106.2 L183.2,106.2 L182.7,108.4 L184.8,109.7 L185.5,111.5 L187.3,113.3 L184.9,114.9 L187.4,116.9 L187.7,118.8 L188.5,121.0 L183.7,120.8 L183.1,122.2 L180.5,122.2 L181.1,124.4 L178.4,124.0 L180.2,128.5 L178.9,130.1 L177.4,132.0 L174.2,130.4 L172.4,132.4 L169.8,130.9 L167.5,130.9 L165.5,129.2 L162.8,131.6 L161.1,129.6 L159.9,127.5 L159.1,125.7 L156.0,127.0 L155.3,125.3 L152.0,126.0 L149.7,125.5 L146.4,125.3 L148.5,122.1 L148.8,120.1 L150.8,117.9 L148.7,116.7 L151.3,114.8 L150.3,113.3 L151.4,111.7 L150.6,109.8 L154.0,108.9 L153.6,107.0 L154.3,105.4 L153.4,102.4 L155.4,101.6 L155.6,98.9 L157.6,98.3 L159.5,98.3 L162.3,100.9 L162.7,98.2 L164.0,98.3 L165.0,96.4 L166.3,97.2 Z" fill="#7e6c3c" stroke="#4a5235" stroke-width="0.35"/>
<path d="M167.5,91.1 L168.8,92.3 L170.1,92.3 L170.8,95.4 L172.2,95.2 L173.3,95.9 L175.5,94.7 L176.3,96.5 L178.2,96.8 L179.3,98.3 L180.6,99.7 L180.5,102.0 L182.8,102.9 L183.4,104.8 L184.3,106.5 L183.3,108.6 L183.7,110.2 L182.5,111.8 L183.5,113.5 L182.7,114.9 L185.2,117.4 L185.5,119.5 L185.1,121.4 L182.7,121.9 L182.4,123.9 L180.1,124.2 L178.7,125.2 L176.5,125.3 L175.8,127.9 L173.3,126.9 L171.2,126.6 L169.3,125.9 L167.5,127.9 L165.6,127.4 L163.3,128.8 L160.9,129.2 L158.3,129.9 L157.8,126.5 L156.4,125.2 L155.4,123.7 L153.5,123.2 L153.7,120.8 L152.1,120.0 L151.8,118.3 L150.3,117.2 L151.7,115.0 L150.3,113.7 L149.9,112.0 L148.5,110.2 L150.0,108.4 L149.2,106.2 L151.6,104.8 L153.5,103.5 L155.6,102.7 L155.7,100.7 L156.9,99.5 L157.7,97.9 L159.1,97.1 L159.4,94.4 L161.3,94.8 L162.3,93.6 L163.6,93.0 L164.5,90.1 L166.1,90.8 Z" fill="#88974b" stroke="#4a5235" stroke-width="0.4"/>
<path d="M168.4,102.4 L169.5,103.0 L170.6,103.5 L171.6,104.1 L172.7,104.4 L173.0,106.0 L174.2,106.1 L175.0,106.6 L176.2,106.9 L176.1,108.3 L177.1,108.8 L177.7,109.6 L178.7,110.3 L178.7,111.4 L180.4,112.1 L180.5,113.3 L180.1,114.4 L178.9,115.4 L178.9,116.4 L178.0,117.2 L177.8,118.2 L177.4,119.0 L177.9,120.5 L176.9,121.2 L176.3,122.0 L175.0,122.2 L174.9,123.9 L173.7,123.9 L172.9,124.9 L171.7,125.0 L170.7,125.6 L169.4,124.4 L168.4,124.2 L167.4,123.8 L166.3,124.6 L165.3,124.0 L164.1,124.4 L163.1,123.9 L161.8,124.0 L161.4,122.6 L160.5,122.0 L159.5,121.4 L158.7,120.6 L158.8,119.3 L158.0,118.6 L158.3,117.4 L158.3,116.3 L159.1,115.3 L157.9,114.4 L157.6,113.4 L156.8,112.2 L157.7,111.3 L157.4,110.0 L158.3,109.3 L159.2,108.5 L160.4,108.1 L160.3,106.7 L161.4,106.2 L162.4,105.8 L163.7,106.0 L164.4,105.1 L165.5,105.3 L166.3,104.5 L167.3,103.9 Z" fill="none" stroke="#4a5235" stroke-width="0.35" opacity="0.8"/>
<path d="M153.6,116.7 Q157.3,113.5 163.0,114.7 Q158.8,117.8 153.6,116.7 Z" transform="rotate(-9 158.3 115.8)" fill="#7e6c3c" stroke="#4a5235" stroke-width="0.25"/>
<path d="M159.8,122.4 Q162.5,118.4 166.5,119.9 Q163.5,123.9 159.8,122.4 Z" transform="rotate(-30 163.1 121.3)" fill="#7e6c3c" stroke="#4a5235" stroke-width="0.25"/>
<path d="M166.8,120.3 Q170.1,117.8 175.0,118.7 Q171.3,121.2 166.8,120.3 Z" transform="rotate(-24 170.9 119.6)" fill="#7e6c3c" stroke="#4a5235" stroke-width="0.25"/>
<path d="M174.5,122.2 Q177.1,119.2 181.0,120.3 Q178.1,123.2 174.5,122.2 Z" transform="rotate(-1 177.8 121.4)" fill="#7e6c3c" stroke="#4a5235" stroke-width="0.25"/>
<path d="M196.3,132.0 L197.7,132.0 L197.8,142.0 L196.2,142.0 Z" fill="#5b4329" stroke="#3a2a1a" stroke-width="0.35"/>
<path d="M197.0,100.1 L198.0,104.4 L199.0,104.1 L199.8,105.4 L201.3,103.7 L201.9,105.9 L203.4,105.6 L204.3,106.9 L205.9,107.2 L205.9,109.8 L208.7,109.4 L210.2,110.7 L212.2,112.0 L210.4,115.1 L211.1,116.9 L209.8,118.8 L210.3,120.4 L209.1,121.8 L212.7,124.0 L213.2,125.9 L213.5,127.8 L211.4,128.6 L213.2,131.7 L211.3,132.4 L210.6,134.1 L209.2,135.1 L209.0,138.0 L206.2,137.1 L204.0,136.6 L201.6,134.8 L200.5,137.1 L198.5,135.2 L197.0,138.1 L195.0,139.5 L192.4,142.1 L191.2,138.7 L189.4,138.1 L187.9,136.8 L186.0,136.5 L185.7,134.1 L184.1,133.4 L183.4,131.8 L182.8,130.3 L185.5,127.0 L183.4,126.5 L182.7,125.2 L180.5,124.1 L180.5,122.3 L178.3,120.4 L179.8,118.3 L181.8,116.6 L185.1,115.7 L184.4,113.4 L186.2,112.4 L186.3,110.3 L188.4,110.1 L188.4,107.7 L190.3,108.0 L191.1,106.7 L192.0,105.5 L192.0,101.3 L193.4,101.1 L194.4,99.2 L195.8,101.0 Z" fill="#7e6c3c" stroke="#4a5235" stroke-width="0.35"/>
<path d="M197.0,98.0 L198.0,99.7 L199.3,98.0 L200.5,98.4 L201.7,98.5 L202.8,99.8 L204.3,99.7 L204.6,102.5 L205.2,104.6 L205.1,107.1 L206.9,107.3 L207.4,109.1 L209.2,110.0 L210.3,111.6 L212.2,113.1 L211.1,115.3 L212.0,117.2 L211.9,119.1 L213.0,121.2 L212.0,122.8 L212.2,124.8 L211.1,126.1 L210.5,127.7 L207.8,127.4 L207.7,129.3 L207.4,131.3 L207.0,133.8 L205.4,134.4 L204.3,136.3 L202.5,136.8 L200.7,137.0 L198.6,134.9 L197.0,136.5 L195.2,136.3 L193.4,136.4 L192.4,133.6 L190.6,134.0 L189.6,132.3 L188.2,131.8 L186.8,131.1 L183.8,132.1 L182.7,130.6 L181.8,129.0 L182.3,126.5 L181.7,124.8 L183.0,122.4 L182.9,120.7 L183.2,118.9 L182.3,117.2 L183.4,115.4 L184.2,113.7 L184.9,112.1 L184.3,109.7 L185.8,108.5 L185.4,105.7 L186.4,104.0 L187.0,101.8 L189.3,102.5 L190.5,101.7 L191.9,101.8 L192.8,100.6 L194.0,100.9 L194.7,98.4 L195.9,98.6 Z" fill="#88974b" stroke="#4a5235" stroke-width="0.4"/>
<path d="M197.8,109.4 L198.7,110.5 L199.5,111.3 L200.1,112.3 L201.2,111.8 L201.8,112.7 L202.9,112.6 L203.7,113.0 L205.1,112.9 L205.0,114.6 L205.8,115.2 L206.0,116.4 L207.2,117.0 L206.9,118.3 L207.4,119.3 L207.0,120.5 L207.0,121.6 L205.8,122.5 L206.1,123.6 L206.4,124.7 L206.8,126.0 L206.1,126.9 L206.4,128.4 L205.5,129.1 L204.6,129.7 L203.4,129.7 L203.1,131.1 L202.2,131.5 L201.4,131.9 L200.3,131.4 L199.5,132.2 L198.6,131.6 L197.8,131.9 L196.9,132.0 L195.7,133.6 L194.8,133.1 L193.8,132.7 L193.2,131.7 L192.2,131.5 L192.2,129.6 L191.4,129.1 L190.9,128.3 L189.7,127.9 L189.9,126.6 L189.5,125.6 L189.4,124.6 L188.7,123.7 L188.9,122.6 L187.7,121.6 L187.5,120.4 L187.3,119.1 L188.8,118.4 L189.0,117.3 L190.1,116.8 L190.5,115.8 L191.3,115.3 L191.2,113.8 L191.8,113.0 L192.5,112.3 L193.6,112.4 L194.0,111.0 L195.0,110.9 L195.8,110.1 L196.8,110.0 Z" fill="none" stroke="#4a5235" stroke-width="0.35" opacity="0.8"/>
<path d="M186.3,126.0 Q188.9,123.6 192.8,124.5 Q189.9,126.8 186.3,126.0 Z" transform="rotate(-6 189.5 125.3)" fill="#7e6c3c" stroke="#4a5235" stroke-width="0.25"/>
<path d="M201.2,126.2 Q204.5,122.0 209.4,123.5 Q205.7,127.8 201.2,126.2 Z" transform="rotate(-20 205.3 125.1)" fill="#7e6c3c" stroke="#4a5235" stroke-width="0.25"/>
<path d="M193.6,126.3 Q196.1,122.0 199.9,123.5 Q197.1,127.9 193.6,126.3 Z" transform="rotate(-15 196.8 125.1)" fill="#7e6c3c" stroke="#4a5235" stroke-width="0.25"/>
<path d="M185.2,116.0 Q187.7,113.8 191.6,114.6 Q188.7,116.9 185.2,116.0 Z" transform="rotate(-9 188.4 115.4)" fill="#7e6c3c" stroke="#4a5235" stroke-width="0.25"/>
<path d="M102.9,160.0 L104.5,160.0 L104.6,170.0 L102.8,170.0 Z" fill="#5b4329" stroke="#3a2a1a" stroke-width="0.35"/>
<path d="M105.0,143.3 L106.0,146.7 L107.2,145.2 L108.3,145.3 L110.0,144.2 L111.3,144.8 L113.8,143.5 L114.7,145.3 L116.0,146.4 L115.3,149.3 L117.8,149.4 L118.1,151.1 L119.1,152.4 L118.9,154.0 L121.1,155.1 L119.6,156.7 L119.9,157.9 L120.7,159.2 L124.8,161.1 L124.4,162.5 L125.7,164.5 L124.0,165.6 L123.8,167.2 L118.7,166.0 L118.1,167.2 L116.8,168.0 L116.9,170.2 L113.8,169.2 L113.2,171.4 L110.8,170.9 L109.1,171.7 L106.9,170.6 L105.0,174.2 L102.5,174.8 L100.0,174.8 L98.5,172.3 L96.3,172.1 L95.7,169.8 L95.0,168.3 L94.7,166.7 L90.5,168.3 L89.8,167.0 L88.2,166.2 L88.8,164.4 L85.7,164.0 L87.3,162.1 L86.1,160.9 L86.4,159.4 L83.8,157.9 L87.5,156.4 L89.2,155.1 L91.6,154.2 L92.1,152.9 L94.6,152.5 L93.8,150.4 L93.6,148.4 L93.6,146.0 L96.2,146.5 L96.8,144.5 L98.5,144.3 L99.7,143.5 L101.3,143.9 L102.4,142.7 L103.7,142.9 Z" fill="#7e6c3c" stroke="#4a5235" stroke-width="0.35"/>
<path d="M105.0,139.6 L106.3,140.2 L107.7,139.6 L108.9,140.5 L110.3,140.7 L111.5,141.4 L113.0,141.8 L112.9,144.7 L114.0,145.5 L114.4,147.1 L116.4,147.4 L116.9,148.8 L119.7,149.2 L120.8,150.6 L122.0,152.1 L120.7,153.9 L121.9,155.4 L121.9,156.9 L122.3,158.4 L120.8,159.5 L122.0,161.3 L120.3,162.2 L119.0,163.1 L117.2,163.5 L117.9,165.7 L117.2,167.0 L116.7,169.0 L114.8,169.5 L113.6,171.2 L110.9,170.3 L108.9,170.1 L106.8,169.4 L105.0,171.1 L103.1,169.9 L101.2,169.9 L99.7,168.6 L97.6,169.1 L96.5,167.6 L94.5,167.6 L92.4,167.5 L89.4,167.8 L89.5,165.7 L88.3,164.5 L88.8,162.6 L88.4,161.2 L90.6,159.1 L89.3,158.1 L88.8,156.8 L88.3,155.4 L89.7,153.9 L89.5,152.4 L90.3,151.0 L90.7,149.4 L92.2,148.3 L91.4,145.8 L93.1,144.9 L94.2,143.6 L96.7,144.2 L97.8,143.1 L99.4,143.3 L100.4,142.6 L101.5,141.8 L102.3,139.5 L103.7,140.1 Z" fill="#88974b" stroke="#4a5235" stroke-width="0.4"/>
<path d="M105.8,149.9 L106.9,150.2 L108.1,149.5 L109.0,150.1 L110.3,149.9 L111.2,150.5 L112.0,151.2 L111.9,152.7 L112.7,153.1 L113.2,153.9 L114.4,154.1 L114.9,154.8 L116.2,155.3 L116.6,156.2 L116.7,157.1 L116.1,158.0 L117.3,158.9 L117.0,159.8 L116.7,160.7 L116.1,161.5 L115.9,162.3 L114.5,162.8 L113.7,163.3 L113.2,163.9 L113.4,165.2 L112.6,165.7 L112.1,166.7 L111.1,167.1 L110.3,167.8 L108.9,167.4 L107.9,167.5 L106.9,167.5 L105.8,168.1 L104.9,167.2 L103.8,167.5 L103.0,166.6 L102.0,166.7 L101.4,165.8 L100.0,166.2 L98.8,166.1 L97.4,165.9 L97.3,164.7 L96.3,164.2 L96.5,163.1 L96.2,162.2 L96.5,161.2 L95.5,160.6 L95.5,159.7 L95.3,158.9 L96.2,158.1 L95.4,157.1 L96.2,156.4 L95.9,155.4 L96.2,154.6 L95.8,153.3 L97.0,152.8 L98.0,152.3 L99.4,152.4 L100.1,151.7 L101.3,151.7 L101.9,151.0 L102.9,150.7 L103.7,149.8 L104.8,150.3 Z" fill="none" stroke="#4a5235" stroke-width="0.35" opacity="0.8"/>
<path d="M105.2,161.8 Q108.4,158.7 113.1,159.9 Q109.5,163.0 105.2,161.8 Z" transform="rotate(-4 109.1 161.0)" fill="#7e6c3c" stroke="#4a5235" stroke-width="0.25"/>
<path d="M104.5,159.7 Q107.3,157.6 111.5,158.4 Q108.3,160.5 104.5,159.7 Z" transform="rotate(-12 108.0 159.1)" fill="#7e6c3c" stroke="#4a5235" stroke-width="0.25"/>
<path d="M98.1,159.4 Q100.5,156.0 104.1,157.2 Q101.4,160.6 98.1,159.4 Z" transform="rotate(-25 101.1 158.5)" fill="#7e6c3c" stroke="#4a5235" stroke-width="0.25"/>
<path d="M107.9,160.5 Q111.8,157.2 117.6,158.4 Q113.2,161.7 107.9,160.5 Z" transform="rotate(-24 112.7 159.6)" fill="#7e6c3c" stroke="#4a5235" stroke-width="0.25"/>
<path d="M147.9,160.0 L150.1,160.0 L150.3,171.0 L147.7,171.0 Z" fill="#5b4329" stroke="#3a2a1a" stroke-width="0.35"/>
<path d="M144.0,131.8 L145.5,135.2 L147.5,132.7 L149.5,132.5 L152.1,131.1 L153.4,133.6 L156.2,133.3 L156.6,136.6 L157.6,138.8 L156.3,142.6 L158.9,143.0 L161.0,144.1 L163.6,145.2 L164.1,147.2 L168.5,148.4 L168.9,150.6 L169.5,152.6 L169.0,154.6 L173.3,157.2 L170.6,158.8 L170.7,160.9 L167.2,161.7 L166.4,163.4 L162.2,163.1 L160.8,164.3 L159.9,165.8 L162.3,171.1 L158.4,170.6 L157.3,173.8 L153.5,173.2 L150.7,174.7 L146.9,171.6 L144.0,173.5 L140.9,172.9 L137.7,173.4 L135.9,170.2 L133.5,169.4 L131.7,167.9 L129.3,167.5 L127.4,166.5 L121.1,168.5 L118.5,167.4 L116.0,166.1 L118.8,162.5 L116.6,161.1 L120.1,158.2 L119.7,156.4 L121.2,154.4 L119.0,152.6 L121.2,150.7 L122.7,148.9 L126.2,147.8 L124.2,145.1 L126.0,143.5 L125.3,140.5 L126.0,137.9 L126.7,135.0 L131.5,136.7 L133.8,136.4 L136.1,136.7 L137.1,134.2 L139.5,136.3 L140.7,133.8 L142.3,133.3 Z" fill="#7e6c3c" stroke="#4a5235" stroke-width="0.35"/>
<path d="M144.0,127.4 L145.7,129.2 L147.5,129.0 L149.0,130.3 L150.8,130.7 L151.8,133.0 L154.1,132.6 L156.4,132.8 L159.3,132.9 L160.2,135.3 L162.9,136.2 L163.6,138.6 L164.0,141.0 L162.6,143.7 L165.6,145.1 L165.9,147.1 L167.3,149.1 L166.4,151.1 L167.9,153.2 L166.8,155.0 L167.3,157.1 L166.7,159.0 L169.1,162.5 L166.4,163.6 L164.6,165.1 L161.1,165.1 L159.6,166.9 L155.3,165.0 L153.5,166.3 L151.7,167.9 L149.8,170.5 L146.7,169.2 L144.0,170.5 L141.3,169.4 L138.2,170.5 L136.0,168.8 L132.4,170.1 L129.9,168.9 L127.6,167.8 L127.9,164.2 L125.7,163.3 L125.4,161.1 L123.8,159.9 L123.7,157.9 L119.9,157.4 L118.7,155.6 L118.5,153.5 L120.4,151.2 L119.6,149.1 L121.1,147.1 L120.9,144.8 L122.8,143.0 L122.6,140.4 L126.4,139.7 L128.6,138.6 L130.7,137.8 L130.4,134.7 L132.5,133.9 L132.9,130.9 L134.6,129.6 L135.8,126.9 L138.7,129.1 L140.4,128.1 L142.2,128.3 Z" fill="#88974b" stroke="#4a5235" stroke-width="0.4"/>
<path d="M145.2,141.5 L146.5,142.9 L148.0,142.6 L149.4,142.8 L151.3,142.1 L152.5,142.8 L154.4,142.7 L155.5,143.8 L156.4,144.9 L155.9,146.8 L157.2,147.4 L157.3,148.7 L158.7,149.4 L158.7,150.6 L160.2,151.5 L159.9,152.8 L160.0,154.0 L159.5,155.1 L160.8,156.5 L160.2,157.6 L160.1,159.0 L159.0,159.9 L158.6,161.2 L156.0,161.2 L154.7,161.7 L153.7,162.4 L153.5,164.1 L152.0,164.4 L151.2,165.7 L149.6,165.7 L148.3,166.7 L146.6,165.7 L145.2,166.7 L143.7,166.5 L142.0,167.1 L140.9,165.5 L139.4,165.4 L138.6,164.0 L137.6,163.2 L137.0,162.0 L134.9,162.4 L133.2,162.0 L131.8,161.2 L131.6,159.9 L130.1,159.0 L130.3,157.6 L130.5,156.3 L130.7,155.1 L129.4,154.0 L130.2,152.8 L130.6,151.6 L132.3,150.8 L131.8,149.5 L133.1,148.7 L133.0,147.3 L133.5,146.1 L133.0,144.0 L134.9,143.7 L136.4,143.3 L138.2,143.3 L139.3,142.3 L141.2,143.3 L142.4,142.4 L143.8,142.3 Z" fill="none" stroke="#4a5235" stroke-width="0.35" opacity="0.8"/>
<path d="M147.8,159.2 Q152.0,155.3 158.3,156.7 Q153.6,160.6 147.8,159.2 Z" transform="rotate(-29 153.1 158.1)" fill="#7e6c3c" stroke="#4a5235" stroke-width="0.25"/>
<path d="M142.7,153.8 Q147.1,150.5 153.6,151.7 Q148.7,155.0 142.7,153.8 Z" transform="rotate(-16 148.2 152.9)" fill="#7e6c3c" stroke="#4a5235" stroke-width="0.25"/>
<path d="M130.9,147.2 Q135.1,144.2 141.3,145.3 Q136.6,148.3 130.9,147.2 Z" transform="rotate(-5 136.1 146.4)" fill="#7e6c3c" stroke="#4a5235" stroke-width="0.25"/>
<path d="M147.9,158.4 Q152.1,155.4 158.4,156.5 Q153.7,159.4 147.9,158.4 Z" transform="rotate(-17 153.1 157.5)" fill="#7e6c3c" stroke="#4a5235" stroke-width="0.25"/>
<path d="M185.5,160.0 L187.1,160.0 L187.3,171.0 L185.3,171.0 Z" fill="#5b4329" stroke="#3a2a1a" stroke-width="0.35"/>
<path d="M186.0,143.4 L187.1,143.7 L188.7,141.2 L189.9,142.5 L191.4,142.3 L192.8,142.9 L194.5,143.1 L195.3,144.9 L197.5,144.9 L199.1,146.0 L200.9,147.1 L198.9,150.3 L200.2,151.5 L199.5,153.3 L200.6,154.4 L201.4,155.7 L205.7,157.0 L206.2,158.7 L206.9,160.4 L205.2,161.6 L206.5,163.6 L205.0,164.7 L204.6,166.2 L202.7,167.0 L202.8,169.0 L199.2,168.4 L197.0,168.4 L194.2,167.6 L194.5,171.1 L192.2,170.8 L190.9,173.7 L188.6,174.6 L186.0,176.2 L183.7,172.8 L181.3,172.8 L179.6,171.3 L177.1,171.7 L176.5,169.2 L173.8,169.8 L173.3,167.9 L170.8,167.9 L172.6,165.0 L169.5,165.2 L167.6,164.4 L164.1,164.0 L164.9,162.1 L163.7,160.6 L166.1,158.7 L167.5,157.0 L171.6,155.8 L169.8,154.1 L171.0,152.9 L171.2,151.2 L173.2,150.4 L172.7,148.2 L175.3,148.0 L175.4,145.9 L177.0,145.2 L176.6,141.6 L178.6,141.5 L180.0,140.5 L182.0,142.0 L183.4,141.8 L184.9,144.6 Z" fill="#7e6c3c" stroke="#4a5235" stroke-width="0.35"/>
<path d="M186.0,139.5 L187.2,139.6 L188.7,138.4 L190.0,138.9 L191.9,137.7 L193.3,138.8 L194.7,139.6 L194.9,142.2 L196.5,142.8 L196.9,144.7 L198.5,145.5 L198.5,147.4 L200.9,148.1 L201.0,149.8 L201.8,151.3 L201.6,152.9 L204.8,154.3 L204.8,156.0 L205.9,157.8 L205.1,159.4 L205.6,161.3 L202.3,161.6 L201.0,162.6 L199.8,163.5 L200.2,165.7 L198.1,165.9 L197.6,167.8 L195.8,168.5 L194.4,169.9 L192.0,169.3 L190.2,170.5 L188.2,171.5 L186.0,172.7 L183.9,170.7 L181.8,170.5 L180.1,169.1 L178.6,168.0 L177.9,166.1 L175.2,167.0 L172.9,166.9 L171.1,166.3 L170.9,164.4 L168.7,163.9 L168.8,162.0 L167.6,160.8 L168.4,159.0 L166.4,157.8 L168.0,155.9 L168.7,154.3 L171.1,152.9 L170.7,151.4 L172.2,150.2 L171.8,148.4 L172.1,146.6 L171.8,144.4 L173.8,143.5 L174.8,142.0 L176.9,141.9 L177.7,140.3 L179.6,140.6 L180.6,139.3 L182.0,138.8 L183.3,138.1 L184.8,140.2 Z" fill="#88974b" stroke="#4a5235" stroke-width="0.4"/>
<path d="M186.9,148.6 L188.1,148.1 L189.3,147.9 L190.3,148.5 L191.6,148.6 L192.1,149.9 L193.0,150.4 L193.6,151.2 L194.9,151.3 L195.4,152.2 L195.8,153.1 L196.1,154.0 L197.0,154.6 L197.2,155.4 L198.3,156.2 L198.9,157.1 L199.7,158.1 L198.8,159.0 L198.1,159.9 L197.2,160.7 L197.2,161.6 L195.9,162.1 L195.7,163.0 L195.4,163.9 L195.1,164.9 L193.5,164.8 L193.2,165.9 L192.3,166.5 L191.5,167.4 L190.3,167.3 L189.4,168.5 L188.1,168.1 L186.9,167.6 L185.9,166.4 L184.9,166.6 L183.9,166.4 L182.7,166.5 L181.8,166.1 L180.2,166.5 L179.5,165.6 L178.9,164.8 L178.4,163.9 L176.7,163.8 L176.5,162.7 L175.9,161.9 L176.0,160.8 L175.7,159.9 L176.9,158.9 L177.0,158.1 L176.9,157.2 L175.8,156.2 L176.2,155.3 L175.7,154.2 L176.5,153.4 L176.7,152.4 L178.3,152.1 L178.8,151.2 L179.6,150.7 L180.3,149.7 L181.9,150.2 L182.6,149.4 L183.9,149.7 L184.8,149.3 L185.9,149.6 Z" fill="none" stroke="#4a5235" stroke-width="0.35" opacity="0.8"/>
<path d="M174.1,153.2 Q176.7,150.4 180.5,151.4 Q177.6,154.2 174.1,153.2 Z" transform="rotate(3 177.3 152.4)" fill="#7e6c3c" stroke="#4a5235" stroke-width="0.25"/>
<path d="M190.5,157.7 Q194.0,154.5 199.2,155.7 Q195.3,158.9 190.5,157.7 Z" transform="rotate(-18 194.8 156.9)" fill="#7e6c3c" stroke="#4a5235" stroke-width="0.25"/>
<path d="M191.5,164.6 Q195.2,161.0 200.8,162.3 Q196.6,165.9 191.5,164.6 Z" transform="rotate(-2 196.2 163.6)" fill="#7e6c3c" stroke="#4a5235" stroke-width="0.25"/>
<path d="M185.8,156.3 Q188.6,154.0 192.7,154.9 Q189.6,157.2 185.8,156.3 Z" transform="rotate(-28 189.3 155.7)" fill="#7e6c3c" stroke="#4a5235" stroke-width="0.25"/>
<path d="M153.6,200.0 L155.0,200.0 L155.2,212.4 L153.4,212.4 Z" fill="#5b4329" stroke="#3a2a1a" stroke-width="0.35"/>
<path d="M152.3,179.7 L153.2,180.3 L154.6,177.8 L155.7,178.1 L157.1,177.7 L158.2,178.5 L160.3,177.8 L160.3,180.5 L161.9,180.9 L162.7,182.3 L165.2,182.4 L164.9,184.6 L165.4,186.0 L164.8,187.7 L166.1,188.8 L164.4,190.2 L167.2,191.3 L169.8,192.8 L172.2,194.6 L170.3,195.7 L171.1,197.5 L169.6,198.5 L168.3,199.5 L165.9,199.7 L166.4,201.7 L164.7,202.3 L163.2,203.0 L160.0,201.5 L159.3,203.1 L157.6,203.3 L156.3,205.3 L154.4,205.8 L152.3,208.8 L150.0,207.7 L148.0,206.4 L146.7,204.0 L144.5,204.5 L143.7,202.6 L142.2,202.1 L141.1,201.2 L138.4,201.5 L139.5,199.1 L138.1,198.5 L137.2,197.6 L133.8,197.4 L134.9,195.6 L132.7,194.5 L133.5,192.9 L134.0,191.3 L138.1,190.1 L138.7,188.8 L140.2,187.8 L139.8,186.3 L141.1,185.3 L140.3,183.0 L141.6,182.0 L142.8,181.1 L144.7,181.1 L144.5,178.1 L145.8,177.4 L146.8,175.8 L148.7,177.5 L149.7,175.8 L151.3,178.9 Z" fill="#7e6c3c" stroke="#4a5235" stroke-width="0.35"/>
<path d="M152.3,173.5 L153.5,173.9 L155.0,172.4 L156.2,173.3 L157.3,174.4 L157.9,176.4 L159.2,176.9 L159.4,179.0 L160.8,179.2 L161.8,180.2 L164.3,180.1 L164.7,181.8 L166.1,182.9 L166.2,184.5 L168.2,185.7 L167.6,187.4 L168.3,188.8 L168.3,190.3 L169.2,191.9 L166.6,192.7 L166.5,194.0 L165.8,195.0 L166.0,196.6 L165.0,197.6 L166.1,200.2 L164.9,201.3 L163.7,202.5 L161.1,202.0 L159.8,203.1 L157.8,203.1 L156.1,203.6 L154.0,202.7 L152.3,204.0 L150.5,203.0 L148.9,202.4 L147.6,200.9 L145.3,202.3 L143.5,201.9 L141.1,202.3 L139.9,201.2 L137.7,200.8 L138.1,198.5 L138.4,196.7 L138.4,195.2 L136.9,194.4 L137.5,192.8 L136.6,191.7 L137.4,190.2 L136.4,188.8 L138.7,187.5 L137.9,186.0 L137.9,184.4 L137.5,182.4 L139.2,181.4 L139.9,179.9 L141.9,179.4 L143.1,178.5 L145.5,179.3 L145.8,177.4 L146.6,176.3 L147.6,175.2 L148.9,175.1 L149.9,174.0 L151.1,174.0 Z" fill="#88974b" stroke="#4a5235" stroke-width="0.4"/>
<path d="M153.1,183.3 L154.1,183.4 L155.1,183.5 L156.0,184.0 L157.2,183.7 L157.9,184.5 L158.9,184.7 L159.6,185.4 L160.7,185.7 L160.2,187.2 L160.8,187.8 L161.0,188.6 L162.0,189.1 L162.2,189.9 L163.5,190.5 L163.8,191.3 L164.1,192.2 L162.9,193.1 L163.1,194.0 L162.7,194.7 L162.8,195.7 L161.5,196.1 L161.5,197.1 L160.5,197.5 L159.8,198.0 L158.6,198.0 L158.6,199.3 L157.8,199.9 L157.2,200.8 L156.1,200.9 L155.3,201.7 L154.1,201.0 L153.1,200.9 L152.2,200.3 L151.2,200.7 L150.3,200.2 L149.4,199.9 L148.6,199.4 L147.6,199.4 L147.2,198.5 L146.2,198.2 L145.1,197.9 L143.8,197.6 L143.5,196.7 L143.1,195.8 L143.6,194.7 L143.2,193.9 L144.4,193.0 L143.7,192.2 L143.7,191.4 L143.0,190.5 L144.1,189.9 L143.7,188.9 L144.4,188.2 L144.5,187.3 L145.4,186.8 L145.4,185.6 L146.1,184.9 L147.2,184.6 L148.7,185.1 L149.3,184.4 L150.5,184.7 L151.3,184.5 L152.2,184.4 Z" fill="none" stroke="#4a5235" stroke-width="0.35" opacity="0.8"/>
<path d="M150.3,188.6 Q153.6,186.1 158.6,187.0 Q154.8,189.6 150.3,188.6 Z" transform="rotate(-5 154.4 188.0)" fill="#7e6c3c" stroke="#4a5235" stroke-width="0.25"/>
<path d="M149.3,196.1 Q152.8,193.3 158.0,194.3 Q154.1,197.1 149.3,196.1 Z" transform="rotate(-9 153.6 195.3)" fill="#7e6c3c" stroke="#4a5235" stroke-width="0.25"/>
<path d="M146.4,188.8 Q148.5,185.6 151.6,186.7 Q149.2,189.9 146.4,188.8 Z" transform="rotate(-23 149.0 187.9)" fill="#7e6c3c" stroke="#4a5235" stroke-width="0.25"/>
<path d="M147.0,190.7 Q150.1,188.1 154.8,189.1 Q151.3,191.7 147.0,190.7 Z" transform="rotate(0 150.9 190.0)" fill="#7e6c3c" stroke="#4a5235" stroke-width="0.25"/>
<path d="M121.4,226.0 L123.4,226.0 L123.6,237.8 L121.2,237.8 Z" fill="#5b4329" stroke="#3a2a1a" stroke-width="0.35"/>
<path d="M125.3,191.5 L126.7,194.6 L128.3,193.9 L129.1,196.9 L131.7,193.7 L132.9,195.2 L135.1,195.1 L135.4,198.1 L138.6,197.3 L139.8,199.1 L143.1,199.5 L144.1,201.7 L146.8,203.1 L145.5,206.0 L145.2,208.3 L142.6,210.4 L145.3,212.0 L144.5,213.6 L147.9,215.8 L147.3,217.5 L151.2,220.7 L147.7,221.5 L146.6,223.1 L145.3,224.6 L146.5,227.9 L142.9,227.9 L141.3,229.6 L138.3,229.6 L135.8,230.1 L131.4,226.2 L130.0,228.9 L127.7,229.2 L125.3,232.6 L122.5,232.2 L118.9,234.6 L116.3,233.1 L113.5,232.3 L113.0,228.7 L109.6,229.2 L107.7,227.9 L105.6,226.8 L108.1,222.8 L105.2,222.5 L107.2,219.7 L106.1,218.5 L105.2,217.0 L99.3,216.4 L99.3,214.2 L100.1,212.0 L102.7,209.9 L102.0,207.6 L106.9,206.6 L108.1,204.9 L110.0,203.6 L108.9,200.4 L112.7,200.8 L113.5,199.0 L115.4,198.4 L115.9,195.7 L117.8,195.4 L118.3,191.9 L119.8,190.1 L121.4,187.8 L123.7,192.3 Z" fill="#7e6c3c" stroke="#4a5235" stroke-width="0.35"/>
<path d="M125.3,186.4 L126.9,188.3 L128.5,188.4 L130.0,189.5 L132.3,187.9 L133.6,189.8 L135.6,190.2 L136.9,192.0 L138.1,193.7 L137.9,196.8 L139.0,198.4 L140.3,199.8 L143.1,200.7 L143.6,202.7 L146.3,204.3 L147.0,206.4 L147.8,208.5 L145.9,210.5 L147.6,212.7 L147.3,214.7 L148.0,217.0 L145.2,217.9 L145.0,219.9 L141.9,220.2 L140.7,221.5 L138.8,222.3 L139.5,226.1 L137.7,227.4 L136.0,229.5 L133.2,229.5 L130.8,230.6 L127.8,228.9 L125.3,229.0 L122.9,227.8 L120.1,229.7 L118.2,227.3 L116.2,226.3 L114.6,224.9 L112.1,224.8 L110.8,223.2 L107.7,223.4 L105.5,222.4 L102.1,222.0 L103.8,218.7 L103.1,216.8 L104.6,214.3 L104.5,212.4 L106.1,210.3 L105.3,208.5 L105.0,206.5 L105.3,204.5 L107.9,203.1 L108.0,200.9 L108.6,198.8 L108.9,196.4 L111.0,195.3 L111.0,192.1 L113.4,191.6 L115.4,190.9 L118.2,192.6 L119.1,190.4 L121.0,190.9 L122.2,189.4 L123.8,189.4 Z" fill="#88974b" stroke="#4a5235" stroke-width="0.4"/>
<path d="M126.4,200.0 L127.7,201.2 L129.0,201.5 L130.1,202.6 L131.2,203.1 L131.9,204.2 L133.7,203.6 L135.1,203.9 L136.8,204.1 L136.8,205.7 L138.5,206.1 L138.5,207.6 L139.4,208.5 L139.2,209.9 L140.6,210.8 L140.1,212.1 L139.5,213.3 L138.5,214.3 L138.8,215.5 L138.2,216.4 L138.6,217.8 L138.5,219.0 L139.3,220.9 L137.4,221.3 L136.4,222.1 L134.9,222.4 L134.3,223.7 L132.6,223.5 L131.5,224.2 L130.2,224.3 L129.0,224.9 L127.6,224.0 L126.4,224.6 L125.1,224.6 L123.6,225.5 L122.3,225.0 L120.5,225.7 L119.4,224.8 L118.5,223.7 L118.4,221.9 L117.1,221.5 L116.2,220.7 L115.3,219.8 L115.0,218.7 L113.8,217.9 L113.9,216.6 L113.5,215.6 L113.3,214.4 L111.8,213.3 L112.0,212.0 L111.6,210.7 L112.7,209.6 L113.2,208.4 L115.3,208.1 L116.2,207.3 L116.9,206.4 L116.6,204.6 L118.1,204.4 L118.8,203.3 L120.0,202.8 L121.0,201.8 L122.6,202.2 L123.6,201.0 L124.9,200.4 Z" fill="none" stroke="#4a5235" stroke-width="0.35" opacity="0.8"/>
<path d="M129.2,211.2 Q133.8,206.8 140.8,208.4 Q135.6,212.7 129.2,211.2 Z" transform="rotate(-10 135.0 210.0)" fill="#7e6c3c" stroke="#4a5235" stroke-width="0.25"/>
<path d="M116.1,209.3 Q120.5,205.3 127.2,206.8 Q122.2,210.8 116.1,209.3 Z" transform="rotate(-23 121.6 208.3)" fill="#7e6c3c" stroke="#4a5235" stroke-width="0.25"/>
<path d="M110.0,208.1 Q114.8,203.7 121.9,205.3 Q116.6,209.8 110.0,208.1 Z" transform="rotate(-12 116.0 206.9)" fill="#7e6c3c" stroke="#4a5235" stroke-width="0.25"/>
<path d="M124.4,217.5 Q127.4,213.9 132.0,215.2 Q128.6,218.8 124.4,217.5 Z" transform="rotate(-14 128.2 216.5)" fill="#7e6c3c" stroke="#4a5235" stroke-width="0.25"/>
<path d="M91.0,174.3 L92.1,174.9 L93.5,171.8 L94.6,173.8 L96.0,173.4 L96.3,177.5 L97.5,178.0 L97.2,182.0 L98.2,182.9 L99.0,184.2 L102.5,182.7 L103.2,184.8 L104.8,186.2 L105.4,188.4 L107.0,190.2 L105.7,192.7 L106.6,194.6 L107.1,196.7 L108.5,199.0 L105.1,199.9 L105.7,201.9 L103.8,202.7 L103.7,204.4 L102.6,205.4 L104.4,209.5 L103.9,211.8 L103.1,214.2 L100.2,213.0 L98.8,214.5 L96.6,213.9 L94.8,214.3 L92.7,212.4 L91.0,216.2 L89.2,213.2 L87.6,212.5 L86.4,210.6 L84.1,212.2 L82.7,211.3 L79.9,212.6 L78.2,211.7 L74.9,212.4 L76.0,208.5 L76.2,206.0 L77.7,203.0 L75.4,202.3 L77.6,199.6 L76.5,198.3 L76.3,196.5 L75.0,194.6 L78.0,192.9 L77.4,190.9 L77.5,188.8 L76.6,185.9 L78.2,184.3 L78.4,181.6 L80.6,181.1 L82.3,180.4 L85.0,182.5 L85.1,179.6 L86.0,178.6 L86.7,176.2 L88.0,177.1 L88.7,173.8 L89.9,173.8 Z" fill="#7e6c3c" stroke="#4a5235" stroke-width="0.35"/>
<path d="M91.0,168.5 L92.2,169.4 L93.5,168.2 L94.6,169.5 L95.8,170.3 L96.0,174.3 L97.2,174.9 L97.9,176.5 L99.4,176.8 L100.2,178.6 L101.7,179.4 L102.7,181.1 L103.5,183.0 L103.6,185.3 L105.7,186.7 L106.3,188.9 L107.1,191.1 L105.9,193.2 L106.2,195.3 L104.8,196.8 L103.9,198.2 L102.8,199.4 L104.6,202.8 L103.7,204.3 L103.2,206.3 L102.0,207.6 L101.3,209.8 L99.3,209.8 L97.8,210.8 L96.3,211.9 L94.8,213.8 L92.7,211.4 L91.0,211.4 L89.4,210.3 L87.8,210.4 L86.7,208.0 L84.5,209.8 L82.6,210.0 L80.4,210.4 L79.7,208.0 L78.1,207.1 L78.1,204.5 L77.0,203.1 L77.4,200.5 L75.8,199.5 L76.5,197.1 L76.7,195.0 L77.9,192.9 L77.3,191.1 L78.0,189.2 L77.1,187.0 L77.8,185.0 L76.6,181.8 L78.3,180.3 L79.9,178.9 L81.7,178.4 L82.3,176.4 L83.8,175.9 L84.7,174.6 L85.8,173.8 L86.4,171.1 L87.9,172.8 L88.9,171.7 L89.9,171.2 Z" fill="#88974b" stroke="#4a5235" stroke-width="0.4"/>
<path d="M91.8,183.9 L92.6,184.7 L93.6,183.6 L94.4,184.4 L95.4,184.5 L96.0,185.6 L97.3,185.1 L98.0,186.0 L98.9,186.7 L99.2,188.0 L100.0,188.8 L99.4,190.6 L99.4,191.8 L99.5,192.9 L100.8,193.6 L100.8,194.8 L101.5,196.0 L101.3,197.2 L101.6,198.5 L100.8,199.5 L100.7,200.8 L100.3,201.9 L100.3,203.4 L98.8,203.5 L98.4,204.6 L97.3,204.8 L96.7,205.6 L95.5,205.2 L95.3,207.2 L94.6,208.2 L93.7,209.0 L92.7,208.7 L91.8,209.2 L90.8,208.1 L89.9,208.2 L89.1,207.1 L88.0,207.7 L87.4,206.5 L86.6,206.0 L86.5,204.2 L85.5,204.1 L84.8,203.3 L83.9,202.7 L83.4,201.8 L81.9,201.3 L82.0,199.8 L82.2,198.4 L82.6,197.1 L82.3,196.0 L83.1,194.9 L82.9,193.7 L83.2,192.6 L82.7,191.1 L84.1,190.6 L84.1,189.3 L84.7,188.4 L84.7,186.8 L85.7,186.3 L86.0,184.7 L87.0,184.5 L87.9,184.0 L89.2,185.2 L90.0,184.5 L90.9,184.9 Z" fill="none" stroke="#4a5235" stroke-width="0.35" opacity="0.8"/>
<path d="M82.7,201.4 Q84.8,198.5 87.8,199.5 Q85.5,202.4 82.7,201.4 Z" transform="rotate(-13 85.3 200.6)" fill="#7e6c3c" stroke="#4a5235" stroke-width="0.25"/>
<path d="M87.3,205.2 Q89.2,200.7 92.1,202.3 Q89.9,206.9 87.3,205.2 Z" transform="rotate(-14 89.7 204.0)" fill="#7e6c3c" stroke="#4a5235" stroke-width="0.25"/>
<path d="M80.2,192.3 Q83.6,189.5 88.8,190.5 Q84.9,193.3 80.2,192.3 Z" transform="rotate(-15 84.5 191.5)" fill="#7e6c3c" stroke="#4a5235" stroke-width="0.25"/>
<path d="M78.9,196.8 Q81.9,192.6 86.5,194.1 Q83.1,198.3 78.9,196.8 Z" transform="rotate(-18 82.7 195.6)" fill="#7e6c3c" stroke="#4a5235" stroke-width="0.25"/>
<path d="M91.0,214.4 L91.8,215.7 L92.9,211.8 L94.0,210.7 L95.1,211.2 L95.8,213.7 L97.2,213.5 L97.7,216.5 L99.0,217.3 L99.6,219.9 L101.3,220.6 L101.0,224.1 L100.7,227.1 L99.8,229.9 L101.9,231.0 L102.0,233.1 L104.1,235.1 L105.5,237.6 L107.6,240.8 L105.9,242.6 L105.5,244.9 L104.2,246.4 L104.8,249.6 L102.3,249.4 L102.3,252.2 L100.9,253.1 L99.8,254.5 L97.0,251.3 L96.6,254.7 L95.6,256.7 L94.6,260.5 L92.7,259.8 L91.0,263.3 L89.1,262.0 L87.5,260.5 L86.7,255.2 L84.9,256.3 L84.0,254.1 L82.5,253.8 L81.9,251.6 L79.8,252.1 L80.1,248.9 L79.3,247.3 L79.0,245.3 L75.6,245.5 L75.8,242.8 L75.0,240.5 L77.0,237.5 L76.8,235.1 L80.1,233.1 L80.5,231.1 L80.9,229.1 L79.6,225.7 L81.7,224.8 L81.3,221.5 L82.5,220.0 L82.8,216.8 L84.6,217.4 L84.6,212.9 L85.6,211.1 L86.6,209.5 L88.2,212.7 L89.1,212.1 L90.2,214.6 Z" fill="#7e6c3c" stroke="#4a5235" stroke-width="0.35"/>
<path d="M91.0,206.0 L91.9,208.7 L92.8,208.7 L93.7,209.3 L94.8,208.4 L95.6,210.2 L97.3,208.5 L98.3,210.0 L99.4,211.5 L99.2,215.6 L100.5,216.8 L100.5,219.8 L101.3,221.9 L101.5,224.3 L102.9,226.1 L102.7,228.7 L102.8,231.0 L102.7,233.2 L104.5,236.0 L103.9,238.2 L104.9,241.4 L104.6,243.9 L104.3,246.5 L101.9,246.3 L100.7,247.4 L99.5,248.3 L98.9,250.5 L97.5,251.0 L96.7,253.3 L95.5,254.7 L94.2,256.5 L92.4,254.5 L91.0,255.9 L89.4,256.7 L87.7,257.9 L86.3,255.9 L84.8,255.4 L84.1,252.2 L83.2,250.2 L83.4,246.5 L81.5,247.1 L80.3,246.1 L79.0,244.9 L78.9,242.4 L77.0,241.4 L78.0,238.2 L77.6,236.0 L78.2,233.4 L77.1,231.0 L78.2,228.4 L78.9,226.0 L80.3,224.2 L80.7,221.8 L82.5,221.1 L82.6,218.4 L83.0,215.9 L82.6,211.4 L84.1,211.2 L84.8,208.7 L85.9,207.9 L87.0,207.1 L88.2,208.2 L89.0,206.1 L90.0,206.2 Z" fill="#88974b" stroke="#4a5235" stroke-width="0.4"/>
<path d="M91.7,222.8 L92.4,223.3 L93.2,223.2 L93.9,223.6 L95.0,222.2 L95.8,222.8 L96.6,223.7 L96.9,225.4 L97.7,226.0 L97.5,228.2 L98.1,229.0 L98.4,230.3 L99.4,231.0 L99.1,232.7 L99.3,234.0 L99.3,235.3 L100.0,236.7 L99.9,238.1 L100.3,239.7 L100.2,241.3 L100.0,242.8 L98.6,243.3 L98.2,244.4 L97.4,245.1 L97.1,246.4 L96.3,246.7 L96.2,248.7 L95.5,249.6 L94.8,250.3 L93.9,249.7 L93.3,251.3 L92.5,251.5 L91.7,252.2 L90.8,251.7 L89.9,251.9 L89.3,250.2 L88.7,249.3 L88.4,247.5 L87.4,248.1 L86.7,247.4 L85.9,246.9 L85.3,245.9 L84.2,245.6 L84.3,243.6 L83.9,242.4 L83.8,240.9 L82.9,239.8 L83.4,238.1 L83.5,236.7 L83.8,235.3 L84.0,234.0 L84.9,233.1 L84.7,231.6 L84.7,230.1 L84.3,227.9 L85.1,227.1 L85.3,225.4 L86.2,224.9 L86.9,224.0 L88.0,224.7 L88.5,223.2 L89.3,222.9 L90.0,222.2 L90.9,223.6 Z" fill="none" stroke="#4a5235" stroke-width="0.35" opacity="0.8"/>
<path d="M93.3,242.2 Q95.1,236.7 97.9,238.7 Q95.8,244.2 93.3,242.2 Z" transform="rotate(-13 95.6 240.7)" fill="#7e6c3c" stroke="#4a5235" stroke-width="0.25"/>
<path d="M87.4,234.8 Q89.5,229.6 92.8,231.5 Q90.4,236.7 87.4,234.8 Z" transform="rotate(2 90.1 233.4)" fill="#7e6c3c" stroke="#4a5235" stroke-width="0.25"/>
<path d="M280.4,100.0 L281.6,100.0 L281.7,109.0 L280.3,109.0 Z" fill="#5b4329" stroke="#3a2a1a" stroke-width="0.35"/>
<path d="M281.0,84.1 L281.5,84.7 L282.1,84.1 L282.4,85.9 L283.0,85.9 L283.4,86.5 L284.1,86.5 L284.6,87.1 L286.2,85.8 L286.8,86.7 L287.3,87.8 L287.1,89.4 L287.8,90.2 L287.3,91.6 L287.2,92.6 L287.7,93.4 L288.8,94.3 L288.1,95.2 L288.5,96.2 L288.2,97.0 L289.3,98.5 L288.5,99.0 L289.3,100.7 L288.7,101.4 L289.0,103.1 L286.7,101.9 L285.9,102.2 L284.7,101.7 L284.3,102.6 L283.2,102.1 L282.9,104.2 L282.0,104.5 L281.0,105.2 L280.1,103.8 L279.0,104.6 L278.0,104.7 L276.9,104.7 L276.2,103.8 L275.2,103.7 L275.0,102.3 L275.2,100.7 L275.8,99.1 L274.4,99.4 L274.3,98.5 L273.3,98.1 L273.0,97.3 L271.7,96.6 L273.1,95.3 L273.1,94.3 L273.8,93.4 L272.9,92.1 L273.9,91.2 L274.7,90.5 L275.5,89.9 L276.0,89.1 L277.1,89.3 L277.1,88.0 L277.4,86.9 L277.3,84.8 L278.2,85.1 L278.5,83.8 L279.2,84.0 L279.8,83.9 L280.5,85.4 Z" fill="#7e6c3c" stroke="#4a5235" stroke-width="0.35"/>
<path d="M281.0,82.4 L281.5,82.7 L282.2,81.8 L282.6,83.0 L283.1,83.3 L283.7,83.7 L284.6,83.0 L285.0,84.1 L285.7,84.5 L286.1,85.5 L286.6,86.4 L286.2,88.1 L286.6,88.9 L286.9,89.8 L287.8,90.5 L287.8,91.6 L288.6,92.6 L288.4,93.6 L288.7,94.7 L288.1,95.5 L288.7,96.8 L288.6,97.8 L288.4,98.9 L287.2,99.0 L286.9,99.9 L285.9,99.9 L285.2,100.2 L284.4,100.3 L284.4,102.4 L283.6,102.8 L282.8,103.4 L281.9,103.4 L281.0,103.9 L280.1,103.2 L279.2,103.1 L278.4,102.5 L277.4,103.0 L277.1,101.4 L276.4,101.0 L276.3,99.7 L275.4,99.5 L275.4,98.4 L274.2,98.4 L273.4,97.8 L272.6,97.1 L273.1,95.8 L273.1,94.7 L273.6,93.6 L273.5,92.6 L274.4,91.6 L274.0,90.5 L274.7,89.6 L275.0,88.7 L276.0,88.3 L276.0,87.1 L276.4,86.2 L276.5,84.8 L277.1,84.3 L277.2,82.5 L278.0,82.7 L278.7,82.3 L279.4,83.3 L279.9,82.7 L280.5,83.0 Z" fill="#88974b" stroke="#4a5235" stroke-width="0.4"/>
<path d="M281.4,92.3 Q282.9,91.1 285.3,91.5 Q283.5,92.8 281.4,92.3 Z" transform="rotate(-8 283.3 92.0)" fill="#7e6c3c" stroke="#4a5235" stroke-width="0.25"/>
<path d="M280.6,95.9 Q282.2,93.6 284.6,94.4 Q282.8,96.8 280.6,95.9 Z" transform="rotate(4 282.6 95.3)" fill="#7e6c3c" stroke="#4a5235" stroke-width="0.25"/>
<path d="M271.5,222.0 L273.1,222.0 L273.3,238.6 L271.3,238.6 Z" fill="#5b4329" stroke="#3a2a1a" stroke-width="0.35"/>
<path d="M270.5,181.6 L271.7,185.3 L273.2,183.7 L273.8,187.9 L275.3,187.0 L276.9,186.8 L279.0,185.9 L279.6,188.8 L281.1,189.9 L282.0,191.9 L285.6,191.3 L285.6,194.5 L288.1,195.7 L289.4,198.0 L289.9,200.6 L286.2,203.5 L287.1,205.4 L287.1,207.3 L288.0,209.4 L288.4,211.5 L291.5,214.8 L290.2,216.6 L290.0,218.9 L286.6,218.9 L288.1,223.0 L286.0,224.1 L284.6,226.0 L281.2,224.7 L280.0,227.3 L276.5,224.0 L274.4,224.1 L272.4,223.5 L270.5,228.0 L268.2,227.6 L265.5,229.2 L262.9,229.1 L260.1,229.5 L259.2,225.7 L257.8,223.9 L255.9,223.0 L253.7,222.3 L254.2,219.1 L253.3,217.3 L253.9,214.8 L253.0,213.3 L255.2,210.6 L251.6,209.7 L249.6,207.8 L248.1,205.4 L250.9,203.1 L250.3,200.4 L253.8,198.9 L255.2,197.0 L258.1,196.4 L257.2,193.0 L259.1,192.0 L259.8,189.7 L262.4,190.6 L262.8,187.7 L264.3,187.4 L265.2,185.0 L266.3,183.3 L267.2,178.6 L269.0,180.4 Z" fill="#7e6c3c" stroke="#4a5235" stroke-width="0.35"/>
<path d="M270.5,175.5 L271.9,177.8 L273.2,179.0 L274.3,181.2 L275.9,180.4 L277.1,181.5 L278.5,182.5 L279.4,184.6 L281.3,184.9 L281.5,187.9 L283.3,188.9 L285.2,190.1 L288.0,191.3 L288.0,194.2 L288.2,196.8 L287.6,199.3 L288.1,201.5 L286.3,203.5 L287.1,205.6 L288.2,208.1 L289.5,210.9 L287.4,212.2 L287.5,214.6 L286.1,216.1 L285.8,218.7 L284.1,219.9 L283.5,222.8 L281.4,223.7 L279.4,224.7 L276.2,221.7 L274.5,223.2 L272.4,221.7 L270.5,223.5 L268.5,222.7 L266.0,225.6 L263.9,224.9 L261.7,224.5 L260.7,221.4 L257.8,222.3 L256.7,220.2 L255.4,218.5 L254.6,216.4 L253.0,215.1 L254.4,211.6 L254.2,209.6 L254.8,207.3 L252.6,206.0 L253.0,203.7 L251.1,201.5 L251.9,199.1 L251.4,196.4 L254.2,194.7 L255.1,192.5 L256.3,190.5 L257.1,188.2 L259.1,187.4 L259.8,185.1 L261.8,184.9 L262.8,183.3 L264.7,184.0 L265.2,180.6 L266.2,178.5 L267.5,176.3 L269.0,176.5 Z" fill="#88974b" stroke="#4a5235" stroke-width="0.4"/>
<path d="M271.4,193.0 L272.5,193.6 L273.8,193.0 L274.8,193.7 L276.1,193.7 L277.0,194.6 L278.5,194.4 L279.1,195.9 L279.8,197.0 L279.4,199.2 L280.5,199.8 L280.6,201.1 L281.7,201.9 L282.1,203.1 L283.8,204.0 L283.3,205.5 L283.6,206.9 L282.8,208.2 L283.5,209.7 L282.6,210.9 L282.6,212.3 L281.8,213.4 L281.4,214.8 L279.5,214.7 L278.7,215.5 L278.1,216.5 L277.9,218.3 L276.9,218.9 L276.2,220.4 L275.1,221.2 L273.9,221.3 L272.5,220.2 L271.4,220.8 L270.3,220.3 L269.1,220.4 L268.2,219.3 L267.1,219.3 L266.3,218.3 L265.3,217.7 L264.7,216.5 L262.9,216.9 L261.9,216.1 L260.6,215.4 L260.7,213.7 L259.8,212.6 L260.3,210.9 L260.8,209.4 L261.0,208.1 L259.7,206.9 L260.2,205.6 L260.2,204.3 L261.0,203.2 L260.5,201.6 L261.8,200.9 L261.6,199.2 L261.9,197.8 L262.0,195.8 L263.8,196.0 L264.8,195.2 L266.2,195.5 L267.2,195.0 L268.5,195.7 L269.3,194.2 L270.3,193.7 Z" fill="none" stroke="#4a5235" stroke-width="0.35" opacity="0.8"/>
<path d="M262.1,214.0 Q264.6,210.0 268.3,211.5 Q265.5,215.4 262.1,214.0 Z" transform="rotate(-29 265.2 212.9)" fill="#7e6c3c" stroke="#4a5235" stroke-width="0.25"/>
<path d="M255.7,214.6 Q259.7,209.4 265.6,211.3 Q261.2,216.5 255.7,214.6 Z" transform="rotate(-26 260.7 213.2)" fill="#7e6c3c" stroke="#4a5235" stroke-width="0.25"/>
<path d="M271.7,204.2 Q275.7,200.0 281.6,201.5 Q277.1,205.8 271.7,204.2 Z" transform="rotate(-15 276.7 203.1)" fill="#7e6c3c" stroke="#4a5235" stroke-width="0.25"/>
<path d="M268.9,203.7 Q272.3,198.7 277.4,200.5 Q273.6,205.5 268.9,203.7 Z" transform="rotate(-7 273.2 202.4)" fill="#7e6c3c" stroke="#4a5235" stroke-width="0.25"/>
<path d="M331.8,82.1 L332.3,82.4 L333.0,81.1 L333.7,81.1 L334.4,81.0 L334.6,82.4 L335.5,82.3 L335.7,83.2 L336.5,83.4 L336.4,84.5 L337.5,84.6 L337.4,85.5 L338.0,86.0 L337.2,86.9 L339.2,87.1 L339.5,87.7 L341.1,88.4 L340.8,89.1 L341.9,90.0 L340.6,90.5 L339.7,90.9 L338.7,91.2 L339.7,92.3 L338.4,92.3 L338.1,92.9 L337.4,93.3 L337.3,94.1 L335.8,93.6 L335.5,94.5 L334.9,95.3 L334.2,96.5 L332.8,95.9 L331.8,96.1 L330.7,95.2 L329.8,95.0 L329.5,93.5 L328.2,94.2 L327.3,94.1 L326.1,94.2 L326.1,93.2 L324.9,93.3 L324.3,92.8 L323.5,92.5 L323.7,91.6 L322.2,91.4 L322.4,90.6 L322.4,89.9 L324.4,89.0 L324.1,88.4 L325.3,87.9 L325.5,87.3 L325.7,86.7 L324.3,85.5 L325.3,85.1 L325.6,84.3 L326.5,84.0 L326.6,83.0 L327.6,83.0 L327.9,82.1 L328.7,82.0 L329.2,81.4 L330.2,82.5 L330.8,82.7 L331.3,82.9 Z" fill="#7e6c3c" stroke="#4a5235" stroke-width="0.35"/>
<path d="M331.8,79.9 L332.3,80.3 L333.0,79.7 L333.4,80.8 L333.9,81.2 L334.3,81.8 L335.1,81.5 L335.7,81.9 L336.6,81.9 L337.3,82.4 L338.1,82.7 L338.1,83.7 L338.3,84.5 L338.4,85.2 L339.1,85.8 L338.8,86.5 L339.3,87.2 L339.1,87.9 L339.5,88.6 L338.5,89.0 L339.2,89.8 L339.4,90.6 L339.6,91.5 L339.0,92.1 L338.8,92.8 L337.8,93.0 L336.9,93.2 L335.6,92.8 L335.2,93.5 L334.3,93.7 L333.6,94.2 L332.6,93.9 L331.8,94.5 L330.9,94.0 L329.9,94.1 L329.0,94.0 L327.7,94.6 L326.9,94.1 L326.3,93.6 L326.1,92.7 L325.4,92.2 L325.8,91.2 L325.2,90.8 L324.7,90.3 L323.6,90.1 L324.0,89.2 L323.7,88.6 L323.9,87.9 L323.6,87.2 L324.2,86.5 L323.9,85.7 L324.4,85.0 L324.7,84.3 L326.1,84.1 L326.5,83.5 L327.1,83.1 L327.5,82.5 L328.2,82.4 L328.1,80.9 L328.6,80.5 L329.2,80.1 L330.0,80.6 L330.5,79.9 L331.2,80.1 Z" fill="#88974b" stroke="#4a5235" stroke-width="0.4"/>
<path d="M334.1,88.7 Q335.1,87.2 336.6,87.8 Q335.5,89.3 334.1,88.7 Z" transform="rotate(-13 335.3 88.3)" fill="#7e6c3c" stroke="#4a5235" stroke-width="0.25"/>
<path d="M328.8,88.4 Q330.0,87.6 331.7,87.9 Q330.4,88.8 328.8,88.4 Z" transform="rotate(-2 330.2 88.2)" fill="#7e6c3c" stroke="#4a5235" stroke-width="0.25"/>
<path d="M337.6,106.0 L338.8,106.0 L338.9,114.0 L337.5,114.0 Z" fill="#5b4329" stroke="#3a2a1a" stroke-width="0.35"/>
<path d="M338.9,86.9 L339.5,87.7 L340.2,87.2 L340.5,89.4 L340.9,90.3 L341.0,92.2 L342.0,90.9 L342.4,91.8 L343.4,91.6 L344.0,92.2 L345.0,92.6 L344.8,94.3 L345.5,95.1 L346.1,96.1 L347.3,96.9 L346.5,98.4 L346.8,99.4 L346.1,100.4 L346.3,101.4 L344.9,101.9 L345.8,103.1 L346.5,104.6 L347.2,106.3 L346.2,106.7 L346.2,108.1 L345.2,108.4 L344.6,109.3 L343.1,108.5 L342.9,110.4 L341.8,110.3 L340.8,110.3 L339.7,108.7 L338.9,109.5 L338.1,108.8 L337.1,109.6 L336.2,109.3 L334.4,111.9 L333.8,110.5 L333.1,109.6 L333.1,107.8 L332.1,107.6 L332.7,105.6 L332.0,105.2 L331.8,104.2 L330.6,103.9 L331.9,102.2 L331.5,101.4 L331.8,100.4 L330.9,99.4 L331.2,98.3 L330.5,96.9 L330.8,95.6 L331.3,94.4 L333.1,94.4 L333.8,93.8 L334.6,93.4 L334.6,91.9 L335.7,92.4 L335.4,90.0 L336.1,89.6 L336.7,89.5 L337.4,90.2 L337.7,87.7 L338.3,87.3 Z" fill="#7e6c3c" stroke="#4a5235" stroke-width="0.35"/>
<path d="M338.9,86.4 L339.4,88.1 L339.9,87.2 L340.5,87.4 L341.2,86.9 L341.7,87.5 L342.6,87.1 L343.0,88.2 L343.5,89.1 L343.6,90.6 L344.5,90.9 L344.7,92.2 L345.2,93.1 L345.1,94.4 L345.7,95.3 L345.1,96.5 L345.4,97.5 L345.9,98.6 L347.0,99.9 L346.7,100.9 L347.1,102.4 L346.8,103.4 L346.3,104.3 L345.0,104.3 L344.8,105.5 L344.2,106.1 L343.8,107.2 L342.8,106.9 L342.2,107.8 L341.3,107.7 L340.6,108.4 L339.7,108.1 L338.9,109.5 L337.9,109.9 L336.9,110.1 L336.2,109.0 L335.3,108.6 L334.9,107.1 L334.4,106.3 L334.1,105.2 L332.9,105.6 L332.5,104.7 L332.0,103.8 L332.1,102.6 L331.4,102.0 L331.5,100.8 L331.0,99.9 L330.9,98.7 L330.3,97.5 L331.6,96.4 L332.0,95.3 L332.8,94.5 L333.1,93.4 L333.9,92.9 L333.8,91.5 L333.9,90.1 L334.2,88.9 L335.1,88.8 L335.4,87.7 L336.1,87.4 L336.5,86.4 L337.2,86.5 L337.7,85.6 L338.3,85.9 Z" fill="#88974b" stroke="#4a5235" stroke-width="0.4"/>
<path d="M341.7,100.2 Q342.9,98.7 344.7,99.2 Q343.3,100.7 341.7,100.2 Z" transform="rotate(-19 343.2 99.8)" fill="#7e6c3c" stroke="#4a5235" stroke-width="0.25"/>
<path d="M335.3,97.2 Q336.9,95.1 339.2,95.9 Q337.5,98.0 335.3,97.2 Z" transform="rotate(-5 337.3 96.7)" fill="#7e6c3c" stroke="#4a5235" stroke-width="0.25"/>
<path d="M370.8,93.0 L372.0,93.0 L372.1,99.0 L370.7,99.0 Z" fill="#5b4329" stroke="#3a2a1a" stroke-width="0.35"/>
<path d="M371.5,80.8 L371.9,81.0 L372.4,80.7 L372.6,82.5 L373.0,83.0 L373.2,83.7 L373.7,83.6 L374.0,84.2 L374.9,83.8 L375.2,84.4 L375.8,84.8 L375.6,86.0 L376.5,86.3 L376.7,87.1 L377.4,87.8 L377.1,88.7 L377.6,89.5 L377.0,90.3 L376.5,90.8 L375.7,91.1 L376.8,92.3 L376.8,93.0 L377.3,94.2 L376.9,94.8 L377.2,96.2 L376.1,96.0 L375.5,96.3 L374.5,95.9 L374.4,97.3 L373.5,96.7 L372.9,97.2 L372.1,96.7 L371.5,96.8 L371.0,95.6 L370.3,96.3 L369.5,96.7 L368.3,98.1 L367.9,97.0 L367.0,97.1 L367.0,95.9 L366.5,95.3 L367.2,93.7 L366.4,93.7 L366.2,93.0 L365.6,92.6 L366.3,91.5 L365.9,91.0 L366.4,90.2 L365.8,89.5 L366.1,88.8 L365.4,87.7 L365.7,86.9 L366.0,86.0 L367.4,86.0 L367.6,85.2 L368.4,85.2 L368.7,84.7 L369.1,84.3 L368.9,82.6 L369.6,82.9 L369.9,82.4 L370.4,82.6 L370.6,81.4 L371.1,81.7 Z" fill="#7e6c3c" stroke="#4a5235" stroke-width="0.35"/>
<path d="M371.5,79.2 L371.9,80.2 L372.3,80.0 L372.7,80.4 L373.2,80.2 L373.5,81.3 L373.9,81.4 L374.1,82.3 L374.5,82.9 L374.6,83.8 L375.4,83.7 L375.8,84.2 L376.5,84.8 L376.6,85.7 L377.0,86.4 L376.8,87.4 L376.7,88.2 L376.5,88.9 L377.0,89.7 L376.7,90.4 L376.8,91.2 L376.3,91.7 L376.3,92.5 L375.8,92.9 L375.7,93.7 L375.6,94.7 L375.6,95.9 L374.8,96.0 L374.1,96.1 L373.4,95.9 L372.7,95.9 L372.1,95.3 L371.5,95.7 L370.9,95.7 L370.2,96.4 L369.7,95.5 L369.1,95.5 L368.5,95.2 L367.8,95.2 L367.6,94.4 L366.6,94.6 L366.3,93.9 L366.2,92.9 L366.7,91.7 L366.4,91.1 L366.6,90.3 L366.4,89.6 L366.4,88.9 L365.9,88.2 L366.2,87.3 L366.3,86.5 L366.9,85.9 L366.6,84.8 L367.1,84.2 L367.3,83.4 L367.9,83.0 L368.1,82.1 L368.9,82.4 L369.4,82.3 L369.8,82.1 L369.9,80.8 L370.3,80.9 L370.6,79.9 L371.1,79.7 Z" fill="#88974b" stroke="#4a5235" stroke-width="0.4"/>
<path d="M370.2,87.3 Q371.3,85.9 373.0,86.4 Q371.8,87.9 370.2,87.3 Z" transform="rotate(-3 371.6 86.9)" fill="#7e6c3c" stroke="#4a5235" stroke-width="0.25"/>
<path d="M372.1,91.7 Q373.1,90.5 374.6,91.0 Q373.4,92.2 372.1,91.7 Z" transform="rotate(-9 373.3 91.4)" fill="#7e6c3c" stroke="#4a5235" stroke-width="0.25"/>
<path d="M379.4,101.0 L380.6,101.0 L380.7,106.3 L379.3,106.3 Z" fill="#5b4329" stroke="#3a2a1a" stroke-width="0.35"/>
<path d="M380.9,88.7 L381.5,89.2 L382.2,88.3 L382.8,88.4 L383.8,87.3 L384.1,89.0 L384.8,89.2 L385.3,89.9 L386.5,89.9 L386.6,91.1 L387.2,91.8 L387.1,93.0 L387.9,93.6 L386.6,95.0 L387.6,95.5 L388.9,96.1 L390.5,96.9 L390.0,97.8 L391.1,98.9 L390.5,99.7 L390.6,100.7 L388.6,100.7 L389.2,101.9 L388.8,102.6 L388.4,103.4 L386.8,103.1 L386.6,104.0 L385.2,103.6 L384.6,104.3 L383.9,104.9 L383.5,107.4 L382.2,106.9 L380.9,107.4 L379.8,106.2 L378.7,106.4 L378.2,104.5 L377.1,104.6 L376.4,104.1 L375.0,104.5 L374.8,103.3 L374.3,102.7 L374.2,101.8 L372.5,102.0 L372.7,101.0 L371.2,100.7 L370.6,99.9 L370.0,99.1 L372.1,97.8 L372.5,96.9 L373.5,96.1 L373.5,95.3 L374.7,94.8 L374.0,93.6 L374.3,92.7 L374.6,91.7 L375.8,91.7 L375.9,90.4 L376.5,89.8 L376.7,88.3 L377.7,88.5 L378.1,87.3 L379.1,88.6 L379.8,89.0 L380.5,89.9 Z" fill="#7e6c3c" stroke="#4a5235" stroke-width="0.35"/>
<path d="M380.9,86.0 L381.6,86.2 L382.2,86.2 L382.7,87.0 L383.5,86.8 L383.9,87.7 L384.4,88.2 L384.8,88.9 L385.8,88.8 L386.6,89.3 L387.6,89.7 L387.9,90.6 L388.9,91.3 L388.3,92.7 L388.3,93.6 L388.2,94.5 L389.0,95.4 L388.8,96.2 L389.2,97.1 L388.9,97.9 L389.2,98.9 L388.3,99.4 L388.5,100.5 L388.5,101.5 L388.7,103.0 L387.5,103.1 L386.7,103.6 L385.4,103.3 L384.6,103.7 L383.4,103.0 L382.7,103.7 L381.9,104.1 L380.9,104.9 L380.0,104.2 L379.0,104.7 L378.1,104.2 L377.1,104.2 L376.3,103.6 L375.1,103.8 L374.4,103.1 L374.1,102.1 L374.5,100.6 L373.7,100.3 L374.0,99.2 L373.5,98.6 L373.1,97.9 L371.7,97.3 L372.2,96.3 L372.2,95.4 L373.0,94.5 L372.7,93.4 L373.6,92.7 L373.8,91.7 L374.4,90.9 L374.7,90.0 L376.1,90.1 L376.6,89.6 L377.1,89.0 L377.2,87.7 L377.9,87.3 L378.2,86.0 L378.9,85.6 L379.6,85.3 L380.3,86.2 Z" fill="#88974b" stroke="#4a5235" stroke-width="0.4"/>
<path d="M375.6,97.3 Q376.8,95.8 378.5,96.4 Q377.2,97.8 375.6,97.3 Z" transform="rotate(-19 377.1 96.9)" fill="#7e6c3c" stroke="#4a5235" stroke-width="0.25"/>
<path d="M378.2,99.4 Q379.8,98.0 382.1,98.5 Q380.4,99.8 378.2,99.4 Z" transform="rotate(-3 380.2 99.0)" fill="#7e6c3c" stroke="#4a5235" stroke-width="0.25"/>
<path d="M310.6,128.0 L311.8,128.0 L311.9,133.8 L310.5,133.8 Z" fill="#5b4329" stroke="#3a2a1a" stroke-width="0.35"/>
<path d="M310.6,107.6 L311.2,107.5 L312.0,106.3 L312.5,107.8 L313.6,106.5 L314.1,108.1 L314.7,108.9 L315.3,110.0 L316.7,109.5 L316.6,111.8 L316.8,113.4 L316.7,114.9 L317.4,115.8 L316.8,117.4 L318.5,117.9 L319.6,119.0 L321.7,120.3 L321.0,121.8 L320.9,123.1 L320.1,124.2 L320.3,125.6 L319.2,126.2 L319.2,127.5 L318.6,128.4 L318.2,129.5 L316.2,128.5 L316.0,129.8 L315.3,130.6 L314.9,132.4 L313.9,132.7 L313.4,136.2 L311.9,135.4 L310.6,135.5 L309.5,132.8 L308.3,133.3 L307.6,131.8 L306.4,132.0 L305.8,130.7 L304.3,131.5 L304.2,129.7 L303.5,128.9 L303.2,127.8 L300.8,128.5 L300.9,126.9 L300.0,126.0 L300.1,124.6 L299.5,123.4 L302.0,121.5 L302.4,120.3 L303.4,119.3 L302.6,117.9 L303.3,116.9 L303.2,115.4 L303.6,114.2 L303.7,112.6 L305.2,112.7 L305.2,110.7 L305.7,109.5 L305.9,107.1 L307.2,108.2 L307.7,107.0 L308.8,108.7 L309.4,108.7 L310.1,110.2 Z" fill="#7e6c3c" stroke="#4a5235" stroke-width="0.35"/>
<path d="M310.6,102.4 L311.3,104.2 L311.9,104.9 L312.4,106.5 L313.2,105.9 L313.5,107.4 L314.5,106.9 L315.3,107.3 L316.2,107.6 L316.2,109.7 L317.1,110.3 L317.5,111.5 L318.5,112.4 L318.7,113.9 L319.5,115.1 L319.4,116.6 L319.2,118.0 L318.0,119.1 L319.0,120.5 L319.0,121.8 L319.4,123.3 L319.0,124.4 L319.6,126.4 L318.6,127.0 L318.0,128.0 L316.8,128.2 L316.8,130.3 L315.7,130.5 L314.7,130.8 L313.6,130.6 L312.6,131.3 L311.5,129.9 L310.6,130.5 L309.6,130.6 L308.3,132.7 L307.4,131.6 L306.1,132.2 L305.4,130.7 L304.5,130.0 L304.4,128.2 L303.5,127.6 L303.0,126.6 L302.2,125.9 L302.8,123.9 L302.3,123.0 L302.4,121.7 L301.8,120.6 L302.2,119.3 L301.2,118.0 L301.2,116.5 L301.3,115.0 L302.5,113.9 L303.0,112.7 L304.0,111.8 L304.7,111.0 L305.4,110.2 L305.4,108.4 L306.2,107.9 L306.7,106.7 L307.5,106.8 L307.8,104.8 L308.6,104.8 L309.2,103.6 L309.9,103.6 Z" fill="#88974b" stroke="#4a5235" stroke-width="0.4"/>
<path d="M309.5,126.9 Q311.2,125.2 313.6,125.8 Q311.8,127.5 309.5,126.9 Z" transform="rotate(-24 311.6 126.4)" fill="#7e6c3c" stroke="#4a5235" stroke-width="0.25"/>
<path d="M314.2,126.8 Q315.5,124.8 317.6,125.5 Q316.0,127.6 314.2,126.8 Z" transform="rotate(-5 315.9 126.3)" fill="#7e6c3c" stroke="#4a5235" stroke-width="0.25"/>
<path d="M364.5,133.0 L365.7,133.0 L365.8,139.1 L364.4,139.1 Z" fill="#5b4329" stroke="#3a2a1a" stroke-width="0.35"/>
<path d="M364.6,108.4 L365.3,110.8 L366.1,110.3 L366.6,112.3 L367.1,113.1 L367.8,113.7 L369.2,112.4 L369.4,114.2 L370.3,114.8 L370.5,116.5 L372.3,116.2 L372.8,117.6 L374.2,118.4 L374.6,120.0 L375.7,121.3 L374.0,123.2 L373.5,124.5 L373.2,125.7 L374.5,127.1 L373.5,128.0 L375.2,130.0 L375.2,131.5 L375.3,133.1 L373.4,133.0 L373.4,134.7 L372.7,135.7 L372.7,138.2 L370.6,137.1 L369.8,138.5 L368.2,137.8 L366.8,137.0 L365.5,134.6 L364.6,137.1 L363.4,137.5 L361.9,138.9 L360.8,138.0 L358.8,139.7 L358.3,137.4 L357.4,136.5 L357.1,134.8 L355.2,135.3 L355.4,133.3 L354.5,132.5 L355.3,130.5 L354.7,129.6 L356.4,127.7 L355.4,126.9 L354.7,125.8 L352.7,124.5 L354.0,123.1 L353.8,121.4 L355.1,120.3 L355.6,118.9 L357.5,118.6 L357.5,116.9 L358.2,115.9 L358.6,114.5 L360.1,115.2 L360.4,113.5 L361.3,113.7 L361.8,112.2 L362.4,111.7 L362.8,108.4 L363.7,107.9 Z" fill="#7e6c3c" stroke="#4a5235" stroke-width="0.35"/>
<path d="M364.6,108.8 L365.2,109.0 L366.1,107.5 L366.9,107.7 L367.9,107.1 L368.6,108.1 L369.5,108.6 L369.5,111.2 L370.1,112.3 L370.5,113.6 L371.6,114.1 L371.7,115.7 L372.7,116.6 L373.0,118.0 L373.5,119.3 L373.1,120.8 L374.8,122.1 L375.3,123.6 L375.8,125.3 L374.8,126.4 L375.2,128.1 L373.9,128.8 L372.9,129.5 L371.8,129.8 L372.2,132.0 L371.6,133.0 L371.0,134.3 L369.8,134.4 L369.3,136.3 L368.0,135.9 L367.0,137.0 L365.8,137.3 L364.6,138.6 L363.3,137.3 L362.2,136.8 L361.3,135.2 L360.3,134.9 L359.9,133.0 L358.6,133.3 L357.3,133.3 L355.9,133.3 L355.8,131.5 L355.0,130.6 L354.9,129.0 L354.3,127.9 L354.8,126.2 L353.9,125.1 L354.4,123.5 L354.8,122.1 L356.1,120.8 L356.3,119.5 L356.6,118.2 L356.5,116.7 L357.0,115.4 L356.4,112.9 L357.4,112.0 L358.4,111.2 L359.4,110.8 L359.9,109.5 L360.9,109.4 L361.6,108.6 L362.4,108.9 L363.0,107.7 L363.9,109.2 Z" fill="#88974b" stroke="#4a5235" stroke-width="0.4"/>
<path d="M366.1,129.2 Q367.6,127.4 369.8,128.0 Q368.1,129.9 366.1,129.2 Z" transform="rotate(-17 367.9 128.7)" fill="#7e6c3c" stroke="#4a5235" stroke-width="0.25"/>
<path d="M365.3,129.0 Q367.6,125.7 371.0,126.9 Q368.4,130.2 365.3,129.0 Z" transform="rotate(-4 368.2 128.1)" fill="#7e6c3c" stroke="#4a5235" stroke-width="0.25"/>
<path d="M389.9,140.0 L391.1,140.0 L391.2,144.6 L389.8,144.6 Z" fill="#5b4329" stroke="#3a2a1a" stroke-width="0.35"/>
<path d="M390.2,111.9 L391.0,114.4 L391.8,114.5 L392.3,116.6 L392.9,117.5 L393.4,118.7 L394.8,117.4 L395.2,119.0 L395.8,120.1 L396.2,121.5 L398.0,121.2 L398.3,122.9 L400.0,123.5 L400.5,125.1 L401.8,126.5 L400.2,128.5 L400.2,130.0 L399.5,131.2 L400.3,132.7 L399.4,133.7 L400.7,135.6 L400.8,137.2 L400.9,138.9 L399.0,138.8 L399.3,140.9 L398.7,142.2 L398.3,144.2 L396.6,143.8 L395.9,145.6 L394.1,144.4 L392.6,143.3 L391.3,141.5 L390.2,143.5 L389.1,143.6 L387.6,145.1 L386.4,144.3 L384.5,145.9 L383.9,143.8 L382.7,143.3 L382.3,141.5 L380.5,141.8 L380.5,139.8 L380.1,138.5 L380.4,136.7 L380.3,135.4 L381.7,133.5 L380.7,132.6 L380.5,131.3 L378.5,130.0 L379.7,128.4 L379.2,126.6 L380.3,125.3 L380.9,123.8 L383.2,123.7 L383.0,121.8 L383.9,120.9 L384.1,119.1 L385.7,119.9 L386.1,118.4 L386.9,118.0 L387.5,117.1 L388.2,116.8 L388.5,112.7 L389.4,112.4 Z" fill="#7e6c3c" stroke="#4a5235" stroke-width="0.35"/>
<path d="M390.2,112.4 L390.9,113.4 L391.7,112.8 L392.3,113.8 L393.3,112.9 L394.2,113.1 L395.5,112.4 L395.9,114.3 L396.5,115.7 L396.8,117.5 L397.6,118.6 L397.3,120.7 L398.3,121.6 L398.6,123.1 L399.7,124.3 L399.2,125.9 L400.0,127.3 L400.2,128.8 L401.1,130.6 L400.7,132.0 L401.4,134.0 L401.0,135.5 L400.4,136.8 L398.1,136.2 L398.0,137.9 L397.1,138.5 L396.4,139.6 L395.5,140.2 L395.1,142.6 L393.7,142.2 L392.6,142.8 L391.4,142.3 L390.2,144.3 L389.0,143.6 L387.7,144.2 L386.6,142.8 L385.3,142.8 L385.0,140.1 L384.4,139.0 L383.9,137.7 L382.2,138.2 L381.8,136.9 L380.6,136.3 L380.2,135.0 L379.3,133.9 L380.3,131.8 L380.0,130.4 L379.9,128.9 L379.2,127.3 L380.8,125.9 L380.8,124.3 L381.9,123.1 L382.5,121.8 L383.7,121.2 L383.1,118.8 L383.3,117.0 L383.7,115.2 L384.8,114.7 L385.3,113.0 L386.4,113.2 L387.2,113.0 L388.1,113.5 L388.7,111.4 L389.5,111.9 Z" fill="#88974b" stroke="#4a5235" stroke-width="0.4"/>
<path d="M389.5,129.0 Q391.8,125.8 395.3,127.0 Q392.6,130.2 389.5,129.0 Z" transform="rotate(-13 392.4 128.2)" fill="#7e6c3c" stroke="#4a5235" stroke-width="0.25"/>
<path d="M392.3,129.2 Q394.1,126.4 397.0,127.4 Q394.9,130.2 392.3,129.2 Z" transform="rotate(4 394.6 128.4)" fill="#7e6c3c" stroke="#4a5235" stroke-width="0.25"/>
<path d="M328.0,182.0 L330.0,182.0 L330.2,190.0 L327.8,190.0 Z" fill="#5b4329" stroke="#3a2a1a" stroke-width="0.35"/>
<path d="M333.5,145.3 L335.0,150.4 L336.9,148.5 L338.2,150.7 L340.0,150.4 L341.0,152.9 L343.7,151.6 L343.8,155.1 L345.3,156.4 L346.3,158.1 L351.1,157.0 L352.9,158.8 L355.5,160.4 L356.4,162.8 L357.5,165.1 L354.6,167.8 L353.8,169.8 L352.5,171.4 L357.1,173.9 L354.3,175.1 L356.0,177.5 L355.1,179.2 L355.9,181.7 L352.2,181.8 L353.3,185.0 L353.2,188.1 L352.0,190.5 L347.2,188.9 L344.8,189.8 L341.4,188.9 L338.6,188.3 L335.7,186.1 L333.5,190.0 L330.7,190.3 L327.5,191.7 L325.4,189.3 L321.7,190.7 L319.7,188.9 L316.6,188.8 L315.8,186.2 L310.8,187.3 L311.1,184.2 L311.4,181.6 L314.4,178.1 L312.4,177.1 L314.9,174.6 L312.0,173.5 L310.1,171.8 L306.6,169.8 L309.4,167.5 L310.8,165.4 L313.0,163.5 L313.1,161.1 L316.3,160.1 L316.6,157.5 L319.3,156.8 L320.0,154.4 L324.4,156.9 L324.8,154.2 L326.5,154.0 L327.0,150.4 L328.5,149.2 L329.6,145.3 L331.6,146.1 Z" fill="#7e6c3c" stroke="#4a5235" stroke-width="0.35"/>
<path d="M333.5,142.7 L335.2,144.1 L337.0,143.7 L338.3,145.9 L340.3,145.3 L341.8,146.8 L343.2,148.2 L343.4,151.5 L345.6,151.7 L346.7,153.4 L349.6,153.8 L350.9,155.7 L355.0,156.4 L354.5,159.3 L355.4,161.5 L353.5,164.1 L355.9,166.1 L354.6,168.1 L355.3,170.2 L354.7,172.1 L355.9,174.6 L352.4,175.2 L352.7,177.5 L351.7,179.2 L352.4,182.5 L350.7,184.0 L349.7,186.6 L346.8,186.9 L344.5,188.2 L340.5,185.1 L338.3,186.1 L335.9,185.9 L333.5,188.0 L331.1,186.1 L328.4,187.3 L325.8,187.0 L323.4,186.3 L321.9,184.2 L318.0,185.7 L316.0,184.3 L313.2,183.6 L313.7,180.3 L312.3,178.7 L313.5,175.8 L313.4,173.8 L314.8,171.4 L310.9,170.4 L311.6,168.2 L310.8,166.1 L312.3,163.9 L311.2,161.4 L313.7,159.7 L314.5,157.5 L315.8,155.5 L315.7,152.5 L319.0,152.2 L321.0,151.2 L323.2,150.9 L324.3,149.2 L326.4,149.5 L327.0,146.4 L328.4,145.0 L329.8,142.2 L331.8,143.9 Z" fill="#88974b" stroke="#4a5235" stroke-width="0.4"/>
<path d="M334.6,157.8 L335.9,159.1 L337.3,159.0 L338.6,159.3 L340.1,159.1 L340.7,160.8 L342.3,160.8 L343.0,161.9 L344.3,162.3 L345.0,163.4 L347.0,163.6 L348.2,164.6 L349.4,165.6 L348.1,167.4 L348.8,168.6 L348.0,169.9 L347.8,171.1 L347.3,172.3 L348.7,173.7 L348.0,174.8 L347.5,176.0 L346.3,176.8 L346.5,178.4 L345.6,179.3 L345.0,180.6 L344.1,181.6 L343.3,183.0 L341.4,182.6 L339.8,182.5 L338.2,182.0 L337.2,183.1 L335.8,182.4 L334.6,183.6 L333.2,183.9 L331.7,184.7 L330.6,183.2 L329.2,183.1 L327.9,182.6 L326.2,182.6 L325.5,181.3 L324.1,180.7 L323.6,179.3 L323.5,177.9 L324.2,176.2 L322.4,175.7 L322.0,174.6 L320.8,173.6 L320.6,172.4 L319.1,171.1 L320.1,169.8 L320.4,168.6 L321.3,167.5 L321.1,166.1 L322.2,165.1 L322.9,164.0 L324.4,163.5 L324.7,162.1 L326.7,162.4 L327.5,161.5 L328.4,160.5 L328.9,158.6 L330.3,158.3 L331.6,157.6 L333.2,157.7 Z" fill="none" stroke="#4a5235" stroke-width="0.35" opacity="0.8"/>
<path d="M318.8,178.5 Q322.9,174.3 329.0,175.9 Q324.4,180.0 318.8,178.5 Z" transform="rotate(-22 323.9 177.4)" fill="#7e6c3c" stroke="#4a5235" stroke-width="0.25"/>
<path d="M316.1,167.3 Q320.2,164.7 326.2,165.7 Q321.7,168.2 316.1,167.3 Z" transform="rotate(-24 321.2 166.6)" fill="#7e6c3c" stroke="#4a5235" stroke-width="0.25"/>
<path d="M341.1,168.7 Q344.3,164.1 349.1,165.8 Q345.5,170.4 341.1,168.7 Z" transform="rotate(-20 345.1 167.5)" fill="#7e6c3c" stroke="#4a5235" stroke-width="0.25"/>
<path d="M329.9,172.2 Q334.0,169.5 340.0,170.5 Q335.5,173.1 329.9,172.2 Z" transform="rotate(-6 335.0 171.4)" fill="#7e6c3c" stroke="#4a5235" stroke-width="0.25"/>
<path d="M328.0,214.0 L330.0,214.0 L330.2,226.0 L327.8,226.0 Z" fill="#5b4329" stroke="#3a2a1a" stroke-width="0.35"/>
<path d="M334.0,179.4 L335.7,179.3 L338.1,175.7 L339.5,178.6 L341.6,178.4 L342.4,181.7 L344.3,182.3 L343.3,187.0 L345.3,187.3 L347.2,188.1 L351.3,187.7 L351.6,190.0 L355.0,190.9 L355.0,193.3 L357.9,194.9 L356.5,197.2 L359.9,199.1 L360.0,201.2 L361.0,203.4 L356.5,204.4 L356.4,206.2 L352.9,206.6 L353.5,208.6 L351.4,209.3 L355.5,214.3 L353.1,215.3 L351.9,217.5 L347.8,216.6 L346.8,219.8 L342.4,217.6 L340.1,219.4 L336.8,218.2 L334.0,220.5 L331.3,216.9 L328.9,216.1 L326.9,214.7 L323.1,216.7 L321.3,215.2 L317.0,216.5 L314.2,215.9 L309.8,216.2 L311.8,212.2 L311.2,210.2 L311.0,208.3 L310.3,206.6 L312.9,204.1 L310.5,202.8 L311.7,200.9 L312.1,199.1 L316.0,197.5 L313.4,195.4 L312.8,193.2 L312.0,190.5 L314.3,188.9 L314.1,185.9 L318.0,185.8 L320.5,185.1 L324.0,186.2 L324.7,183.9 L326.3,183.3 L327.7,181.9 L329.3,181.6 L330.5,179.1 L332.5,181.2 Z" fill="#7e6c3c" stroke="#4a5235" stroke-width="0.35"/>
<path d="M334.0,175.7 L335.6,176.9 L337.3,176.2 L339.2,175.7 L341.7,174.4 L343.0,176.5 L345.1,177.0 L346.1,179.4 L347.1,181.4 L346.8,184.4 L349.0,185.2 L351.0,186.4 L353.0,187.8 L352.7,190.1 L355.1,191.6 L355.8,193.6 L357.3,195.6 L356.3,197.6 L359.7,200.1 L358.5,202.0 L358.1,204.1 L354.8,204.9 L353.8,206.4 L351.4,207.1 L350.4,208.6 L349.2,210.1 L349.6,213.7 L346.8,213.9 L344.7,215.3 L341.8,215.0 L339.7,217.2 L336.7,216.0 L334.0,217.1 L331.3,216.5 L328.4,217.0 L326.9,213.3 L324.6,212.8 L323.1,211.3 L320.0,211.8 L318.3,210.6 L314.9,210.7 L312.7,209.7 L310.8,208.3 L312.3,205.2 L310.6,203.8 L311.3,201.6 L310.0,199.8 L312.1,197.6 L311.5,195.6 L313.3,193.7 L314.6,192.0 L316.6,190.5 L315.3,187.9 L316.1,185.9 L316.2,183.2 L318.0,181.7 L318.8,179.2 L321.9,179.4 L324.0,178.8 L326.3,179.3 L327.1,176.5 L329.2,177.2 L330.7,176.2 L332.4,176.5 Z" fill="#88974b" stroke="#4a5235" stroke-width="0.4"/>
<path d="M335.1,187.2 L336.6,188.1 L338.0,188.6 L339.1,189.7 L340.4,189.9 L340.9,191.5 L342.7,191.0 L344.3,191.1 L346.1,191.3 L346.4,192.7 L347.9,193.3 L348.2,194.6 L349.0,195.6 L348.7,197.0 L350.0,197.9 L349.8,199.2 L349.5,200.4 L348.1,201.4 L348.2,202.5 L347.8,203.5 L348.0,204.8 L348.0,206.1 L348.8,207.9 L347.2,208.6 L345.8,209.2 L344.3,209.6 L343.4,210.6 L341.7,210.5 L340.5,211.1 L339.1,211.3 L338.0,212.4 L336.5,211.4 L335.1,211.4 L333.8,211.4 L332.2,212.5 L330.8,212.2 L329.1,212.5 L327.7,212.0 L326.5,211.1 L326.4,209.2 L325.4,208.4 L324.5,207.6 L323.4,206.9 L323.6,205.5 L321.8,205.0 L321.7,203.7 L321.4,202.6 L321.9,201.5 L319.9,200.4 L319.8,199.1 L319.5,197.8 L320.9,196.8 L321.1,195.5 L323.1,195.0 L324.1,194.2 L325.5,193.8 L325.0,191.9 L326.2,191.3 L327.1,190.4 L328.5,190.0 L329.3,188.7 L331.1,189.2 L332.2,188.2 L333.7,188.0 Z" fill="none" stroke="#4a5235" stroke-width="0.35" opacity="0.8"/>
<path d="M325.5,207.1 Q330.4,203.0 337.8,204.5 Q332.3,208.6 325.5,207.1 Z" transform="rotate(-27 331.6 206.0)" fill="#7e6c3c" stroke="#4a5235" stroke-width="0.25"/>
<path d="M324.1,198.5 Q329.3,195.6 337.0,196.6 Q331.2,199.6 324.1,198.5 Z" transform="rotate(-26 330.6 197.7)" fill="#7e6c3c" stroke="#4a5235" stroke-width="0.25"/>
<path d="M326.8,198.0 Q331.4,194.8 338.3,196.0 Q333.1,199.2 326.8,198.0 Z" transform="rotate(-26 332.5 197.1)" fill="#7e6c3c" stroke="#4a5235" stroke-width="0.25"/>
<path d="M332.8,208.3 Q337.5,204.6 344.5,205.9 Q339.2,209.6 332.8,208.3 Z" transform="rotate(-27 338.6 207.3)" fill="#7e6c3c" stroke="#4a5235" stroke-width="0.25"/>
<path d="M477.4,143.0 L478.6,143.0 L478.8,151.8 L477.2,151.8 Z" fill="#5b4329" stroke="#3a2a1a" stroke-width="0.35"/>
<path d="M479.4,123.9 L480.4,125.5 L481.5,124.8 L482.5,125.4 L483.5,125.7 L483.6,127.9 L484.9,127.7 L486.2,127.8 L488.3,127.4 L489.0,128.5 L491.8,128.3 L492.4,129.7 L492.5,131.2 L491.2,132.8 L493.0,133.6 L492.5,134.8 L492.9,135.8 L492.3,136.8 L494.7,138.0 L493.1,138.8 L493.5,139.8 L493.0,140.8 L495.2,142.8 L494.0,143.7 L493.7,145.0 L491.2,144.9 L490.3,146.0 L486.6,144.2 L485.3,144.5 L483.7,144.5 L483.0,146.7 L481.1,146.2 L479.4,146.9 L477.6,147.0 L475.7,147.1 L474.4,145.8 L472.0,146.7 L469.8,146.9 L467.7,146.8 L468.0,144.6 L467.2,143.6 L467.7,142.1 L467.3,141.2 L468.2,139.9 L464.4,140.1 L463.9,139.1 L463.1,138.2 L464.2,136.9 L463.1,135.8 L465.2,134.7 L465.2,133.5 L466.9,132.7 L465.8,131.0 L468.2,130.6 L470.1,130.2 L471.7,130.0 L472.0,128.9 L473.3,128.6 L473.4,126.9 L474.1,125.8 L474.2,123.0 L476.1,124.6 L477.2,124.3 L478.4,124.7 Z" fill="#7e6c3c" stroke="#4a5235" stroke-width="0.35"/>
<path d="M479.4,121.2 L480.5,122.0 L481.6,122.2 L482.6,122.9 L484.0,122.3 L484.7,123.6 L486.0,123.8 L486.9,124.6 L487.7,125.7 L487.4,127.5 L488.5,128.1 L489.0,129.1 L491.3,129.4 L491.6,130.6 L493.6,131.4 L494.0,132.6 L494.8,133.9 L492.8,134.9 L494.1,136.2 L493.6,137.2 L493.8,138.4 L492.2,139.0 L492.3,140.2 L490.7,140.6 L490.0,141.5 L488.3,141.6 L489.0,144.0 L487.7,144.7 L486.4,145.6 L484.7,145.9 L483.0,146.4 L481.0,144.9 L479.4,144.8 L477.9,144.4 L476.1,145.1 L474.8,144.3 L473.2,144.2 L472.1,143.4 L470.2,143.6 L469.8,142.2 L467.6,142.4 L466.1,141.8 L464.2,141.4 L465.0,139.7 L464.6,138.6 L465.8,137.1 L466.2,136.0 L467.4,134.8 L466.0,133.9 L465.9,132.7 L465.9,131.5 L467.5,130.7 L467.5,129.4 L468.3,128.4 L469.0,127.3 L470.1,126.5 L470.2,124.8 L471.6,124.3 L472.9,124.0 L474.7,124.8 L475.5,124.0 L476.6,124.1 L477.4,123.4 L478.4,122.7 Z" fill="#88974b" stroke="#4a5235" stroke-width="0.4"/>
<path d="M480.1,129.9 L481.0,130.1 L481.8,130.1 L482.6,130.4 L483.5,130.3 L484.1,130.9 L484.9,131.1 L485.2,131.9 L486.6,131.6 L487.2,132.1 L488.1,132.5 L488.5,133.1 L489.3,133.7 L488.8,134.5 L488.6,135.3 L487.9,136.0 L488.8,136.5 L488.7,137.2 L488.7,137.8 L488.3,138.4 L488.8,139.2 L487.6,139.6 L487.7,140.4 L487.3,141.0 L487.3,142.0 L486.2,142.1 L485.4,142.4 L484.2,142.3 L483.4,142.6 L482.4,142.1 L481.8,142.7 L480.9,142.9 L480.1,143.6 L479.2,143.2 L478.3,143.4 L477.5,143.1 L476.5,143.1 L475.9,142.4 L474.8,142.6 L474.2,142.0 L473.6,141.5 L473.8,140.4 L473.2,140.0 L473.2,139.3 L472.4,139.0 L471.9,138.4 L470.6,138.0 L470.5,137.2 L470.7,136.5 L471.1,135.9 L470.9,135.2 L471.7,134.6 L471.9,134.0 L472.4,133.4 L472.3,132.6 L473.7,132.6 L474.3,132.2 L475.0,131.8 L475.2,131.0 L476.0,130.7 L476.4,129.9 L477.2,129.4 L478.2,129.1 L479.2,129.8 Z" fill="none" stroke="#4a5235" stroke-width="0.35" opacity="0.8"/>
<path d="M479.0,137.9 Q480.8,135.5 483.5,136.4 Q481.5,138.8 479.0,137.9 Z" transform="rotate(-9 481.3 137.3)" fill="#7e6c3c" stroke="#4a5235" stroke-width="0.25"/>
<path d="M470.5,137.1 Q473.8,134.8 478.8,135.6 Q475.1,137.9 470.5,137.1 Z" transform="rotate(-11 474.7 136.4)" fill="#7e6c3c" stroke="#4a5235" stroke-width="0.25"/>
<path d="M418.1,176.0 L419.7,176.0 L419.9,186.7 L417.9,186.7 Z" fill="#5b4329" stroke="#3a2a1a" stroke-width="0.35"/>
<path d="M420.7,149.7 L422.0,151.8 L423.4,152.0 L424.2,154.2 L425.1,155.4 L425.7,156.9 L428.3,154.9 L429.9,155.3 L432.2,155.3 L432.5,157.4 L435.6,157.4 L435.2,159.7 L436.3,161.1 L437.0,162.6 L440.2,163.6 L438.0,165.5 L438.0,167.0 L435.6,168.1 L437.7,169.6 L436.3,170.6 L438.8,172.5 L440.2,174.6 L442.0,177.1 L438.0,176.9 L437.4,178.5 L434.7,178.5 L434.0,180.3 L430.7,179.4 L429.4,180.7 L427.4,181.3 L425.1,181.3 L422.5,178.7 L420.7,180.4 L418.6,180.6 L416.0,182.2 L413.9,181.6 L410.1,183.8 L408.3,182.4 L407.3,180.4 L408.1,177.4 L405.8,177.3 L405.4,175.7 L404.3,174.8 L404.1,173.4 L402.0,172.7 L403.0,171.0 L403.2,169.7 L403.0,168.4 L399.7,167.0 L400.9,165.3 L401.3,163.6 L402.7,162.1 L403.8,160.6 L408.1,160.6 L409.5,159.7 L410.9,159.0 L410.1,156.2 L412.1,156.1 L412.8,154.5 L414.2,154.0 L415.1,152.3 L417.0,153.3 L417.9,151.3 L419.2,150.2 Z" fill="#7e6c3c" stroke="#4a5235" stroke-width="0.35"/>
<path d="M420.7,148.0 L422.0,148.8 L423.4,148.6 L424.4,150.5 L426.1,149.7 L427.2,151.0 L428.4,151.8 L428.8,153.7 L430.7,153.8 L431.6,155.1 L433.7,155.5 L435.1,156.7 L437.9,157.4 L437.7,159.4 L437.7,161.2 L436.5,162.9 L437.5,164.3 L436.9,165.7 L437.6,167.2 L437.1,168.5 L438.8,170.5 L437.1,171.4 L436.2,172.6 L435.7,174.0 L436.4,176.4 L434.3,177.0 L433.5,178.8 L431.3,179.1 L429.2,179.5 L426.2,177.7 L424.5,178.2 L422.6,178.2 L420.7,179.5 L418.7,178.9 L416.4,180.2 L414.4,179.6 L412.3,179.3 L411.3,177.5 L408.6,178.0 L406.7,177.3 L404.9,176.6 L405.6,174.1 L404.1,173.2 L405.5,170.9 L405.3,169.6 L405.5,168.2 L402.9,167.4 L402.7,165.9 L402.4,164.3 L403.3,162.8 L402.8,161.0 L405.1,159.8 L405.6,158.2 L407.1,157.1 L406.9,155.0 L409.5,154.8 L410.6,153.6 L412.5,153.6 L413.1,151.9 L414.9,152.3 L415.4,150.0 L416.5,148.6 L417.7,147.1 L419.3,147.8 Z" fill="#88974b" stroke="#4a5235" stroke-width="0.4"/>
<path d="M421.6,157.8 L422.8,158.0 L423.9,158.4 L424.8,159.5 L425.8,159.7 L426.4,160.7 L427.4,161.0 L428.2,161.5 L429.9,161.2 L430.4,162.1 L431.1,162.8 L431.6,163.6 L432.8,164.2 L432.4,165.3 L433.5,166.0 L433.4,167.0 L433.6,168.0 L432.0,168.8 L431.7,169.6 L431.1,170.3 L431.4,171.2 L430.8,171.9 L431.4,173.2 L430.9,174.1 L430.2,174.9 L428.7,174.9 L428.0,175.7 L426.9,176.0 L426.1,176.7 L424.8,176.4 L423.9,177.4 L422.7,176.7 L421.6,176.2 L420.7,175.7 L419.4,176.8 L418.3,176.7 L417.0,176.9 L416.1,176.3 L414.5,176.6 L414.2,175.2 L413.5,174.5 L413.2,173.5 L411.9,173.2 L411.9,172.1 L411.4,171.4 L411.5,170.4 L410.9,169.7 L411.6,168.7 L410.6,168.0 L410.0,167.0 L409.3,166.0 L410.3,165.2 L410.3,164.2 L411.4,163.6 L412.1,162.8 L414.0,162.9 L413.9,161.7 L414.6,161.1 L415.3,160.4 L416.6,160.4 L417.3,159.6 L418.4,159.5 L419.4,158.9 L420.5,159.0 Z" fill="none" stroke="#4a5235" stroke-width="0.35" opacity="0.8"/>
<path d="M411.0,168.6 Q415.0,165.7 420.9,166.7 Q416.4,169.6 411.0,168.6 Z" transform="rotate(-8 415.9 167.8)" fill="#7e6c3c" stroke="#4a5235" stroke-width="0.25"/>
<path d="M416.0,165.9 Q420.2,162.7 426.6,163.9 Q421.8,167.0 416.0,165.9 Z" transform="rotate(-28 421.3 165.0)" fill="#7e6c3c" stroke="#4a5235" stroke-width="0.25"/>
<path d="M428.4,172.1 Q430.8,169.0 434.3,170.1 Q431.6,173.3 428.4,172.1 Z" transform="rotate(4 431.3 171.3)" fill="#7e6c3c" stroke="#4a5235" stroke-width="0.25"/>
<path d="M415.1,169.9 Q417.5,167.5 421.2,168.4 Q418.4,170.7 415.1,169.9 Z" transform="rotate(-23 418.1 169.2)" fill="#7e6c3c" stroke="#4a5235" stroke-width="0.25"/>
<path d="M510.7,176.0 L512.3,176.0 L512.5,185.7 L510.5,185.7 Z" fill="#5b4329" stroke="#3a2a1a" stroke-width="0.35"/>
<path d="M513.8,150.3 L515.2,149.6 L516.8,148.9 L517.6,151.9 L519.3,151.2 L520.4,152.6 L522.3,152.5 L522.5,154.9 L525.2,154.4 L524.5,157.2 L524.8,158.8 L524.5,160.6 L527.9,160.6 L529.3,161.8 L532.4,162.7 L533.1,164.4 L535.9,166.0 L533.8,167.5 L532.8,168.9 L531.0,169.9 L532.9,171.9 L530.1,172.3 L530.9,174.2 L528.5,174.5 L528.5,176.2 L525.4,175.6 L525.4,177.6 L524.5,179.3 L524.1,182.4 L521.2,182.0 L519.1,183.6 L516.2,182.4 L513.8,181.2 L511.9,178.2 L509.7,179.3 L507.6,179.2 L505.2,179.5 L504.0,178.1 L501.0,178.8 L500.6,176.9 L498.2,176.7 L497.5,175.4 L493.5,175.7 L492.5,174.2 L492.4,172.6 L495.6,170.2 L494.5,169.0 L498.8,167.2 L498.8,166.0 L498.3,164.7 L495.6,162.8 L498.3,161.8 L498.0,160.0 L499.8,158.9 L499.6,156.8 L502.3,156.7 L502.1,154.1 L503.5,153.0 L504.7,151.6 L507.8,154.1 L509.1,153.6 L510.5,154.1 L511.4,152.7 L512.6,153.0 Z" fill="#7e6c3c" stroke="#4a5235" stroke-width="0.35"/>
<path d="M513.8,148.2 L515.0,149.3 L516.6,147.1 L518.1,147.2 L519.9,146.8 L520.7,148.8 L522.1,149.6 L522.6,151.7 L523.2,153.3 L523.7,154.8 L526.1,154.9 L527.3,156.1 L528.4,157.4 L529.1,158.9 L530.9,160.2 L530.4,161.8 L531.5,163.3 L532.0,164.9 L533.8,166.8 L531.9,168.0 L531.5,169.4 L529.3,170.1 L528.7,171.3 L526.6,171.6 L527.2,173.8 L526.9,175.6 L526.3,177.5 L523.6,177.1 L522.2,178.6 L519.9,178.4 L518.1,179.4 L515.8,178.7 L513.8,180.1 L511.6,179.2 L509.7,178.4 L508.5,176.2 L506.3,176.7 L505.0,175.6 L502.6,175.9 L500.9,175.3 L497.8,175.7 L497.3,174.0 L496.6,172.5 L497.0,170.6 L495.8,169.5 L496.5,167.7 L495.7,166.4 L496.9,164.8 L495.8,163.3 L498.2,161.9 L498.9,160.6 L499.5,159.2 L498.5,157.2 L499.5,155.8 L499.6,153.7 L500.9,152.4 L502.5,151.4 L504.9,151.8 L506.1,150.7 L507.4,150.2 L508.4,148.9 L510.0,149.5 L511.1,148.3 L512.5,148.7 Z" fill="#88974b" stroke="#4a5235" stroke-width="0.4"/>
<path d="M514.6,157.3 L515.8,157.8 L516.9,157.6 L517.9,158.4 L519.0,158.4 L520.1,158.8 L521.0,159.3 L521.0,160.7 L522.1,160.9 L522.6,161.7 L523.8,162.0 L524.4,162.7 L526.1,163.1 L526.3,164.1 L526.5,165.0 L525.8,166.1 L526.1,167.0 L525.4,167.8 L525.4,168.7 L524.7,169.4 L525.2,170.5 L523.9,170.9 L523.5,171.7 L522.7,172.3 L522.7,173.5 L522.0,174.2 L521.4,175.1 L520.4,175.7 L519.4,176.3 L517.8,175.3 L516.7,175.3 L515.6,175.2 L514.6,175.9 L513.6,175.5 L512.5,175.8 L511.5,175.4 L510.3,175.4 L509.6,174.6 L508.2,174.8 L507.2,174.3 L505.8,174.1 L505.6,173.0 L504.7,172.3 L505.1,171.1 L504.8,170.3 L505.4,169.2 L504.3,168.6 L504.0,167.8 L503.1,167.0 L503.7,166.1 L503.0,165.1 L503.7,164.3 L504.2,163.4 L504.5,162.5 L504.2,161.3 L505.6,160.9 L506.6,160.4 L508.1,160.5 L508.7,159.7 L510.0,159.9 L510.7,159.2 L511.5,158.4 L512.3,157.4 L513.5,157.7 Z" fill="none" stroke="#4a5235" stroke-width="0.35" opacity="0.8"/>
<path d="M518.1,163.7 Q522.4,161.3 528.8,162.2 Q524.0,164.6 518.1,163.7 Z" transform="rotate(-3 523.5 163.1)" fill="#7e6c3c" stroke="#4a5235" stroke-width="0.25"/>
<path d="M516.1,162.8 Q520.3,160.7 526.5,161.4 Q521.8,163.5 516.1,162.8 Z" transform="rotate(-20 521.3 162.2)" fill="#7e6c3c" stroke="#4a5235" stroke-width="0.25"/>
<path d="M507.9,167.0 Q512.1,165.0 518.4,165.7 Q513.7,167.8 507.9,167.0 Z" transform="rotate(-9 513.2 166.5)" fill="#7e6c3c" stroke="#4a5235" stroke-width="0.25"/>
<path d="M501.6,162.5 Q504.2,159.6 508.0,160.6 Q505.2,163.6 501.6,162.5 Z" transform="rotate(-18 504.8 161.7)" fill="#7e6c3c" stroke="#4a5235" stroke-width="0.25"/>
<path d="M421.7,258.0 L423.7,258.0 L423.9,277.6 L421.5,277.6 Z" fill="#5b4329" stroke="#3a2a1a" stroke-width="0.35"/>
<path d="M423.2,208.7 L425.1,207.6 L427.2,205.8 L428.3,211.8 L430.0,212.8 L430.8,216.6 L432.1,218.5 L432.5,221.9 L436.0,220.0 L437.6,222.0 L439.2,224.1 L438.6,228.0 L442.3,228.7 L443.5,231.4 L445.6,233.8 L446.9,236.7 L450.8,239.7 L446.9,242.5 L446.1,245.0 L441.7,246.1 L444.6,249.6 L442.2,250.8 L443.2,254.0 L443.7,257.4 L445.1,262.4 L440.1,260.8 L439.3,263.9 L436.3,264.2 L435.7,269.5 L431.7,267.2 L429.4,270.4 L426.0,267.2 L423.2,266.9 L421.0,261.3 L418.4,263.1 L416.1,262.7 L411.9,266.7 L409.8,264.7 L405.5,266.4 L404.3,263.2 L402.3,261.3 L404.1,256.2 L400.0,256.3 L400.5,253.0 L399.7,250.6 L402.6,246.8 L400.8,244.9 L403.8,242.0 L403.5,239.7 L404.4,237.3 L399.7,233.6 L401.3,230.7 L401.0,227.0 L404.1,225.2 L405.3,222.3 L410.0,223.6 L411.4,221.7 L413.1,220.4 L412.9,215.1 L415.7,216.9 L417.0,215.0 L418.9,216.3 L420.0,212.6 L421.8,215.2 Z" fill="#7e6c3c" stroke="#4a5235" stroke-width="0.35"/>
<path d="M423.2,205.8 L424.6,210.0 L426.3,208.3 L427.8,209.1 L429.6,208.7 L431.3,209.5 L434.4,207.3 L435.7,210.2 L436.9,213.0 L437.1,216.9 L439.8,217.8 L439.6,221.6 L441.1,223.9 L441.7,226.7 L443.5,229.1 L442.5,232.2 L442.7,234.8 L443.6,237.4 L446.3,240.7 L446.3,243.6 L447.4,247.2 L446.3,249.8 L445.2,252.4 L440.9,252.0 L439.6,253.9 L437.9,255.4 L437.4,258.9 L434.2,257.9 L432.9,261.0 L430.5,261.6 L428.2,262.5 L425.6,261.3 L423.2,265.0 L420.4,266.2 L417.5,266.5 L415.2,264.2 L412.6,263.4 L411.5,259.4 L410.2,256.9 L409.5,254.0 L405.6,255.3 L404.4,253.0 L402.6,251.3 L403.2,247.8 L400.3,246.5 L401.0,243.3 L400.3,240.7 L400.4,237.7 L398.6,234.8 L401.8,231.9 L402.9,229.1 L405.4,227.0 L406.4,224.6 L408.7,223.1 L408.3,219.5 L409.0,216.5 L409.0,212.1 L411.5,211.7 L412.7,209.0 L414.9,208.8 L416.3,206.8 L418.3,207.1 L419.7,204.5 L421.5,204.9 Z" fill="#88974b" stroke="#4a5235" stroke-width="0.4"/>
<path d="M424.3,224.5 L425.6,225.5 L427.0,225.1 L428.1,226.1 L429.6,226.0 L430.3,227.7 L432.1,227.3 L433.5,227.8 L435.3,228.0 L435.4,230.4 L436.7,231.4 L436.6,233.5 L436.7,235.2 L435.7,237.3 L437.7,238.3 L437.8,239.9 L438.4,241.5 L437.3,243.1 L438.5,244.9 L437.3,246.3 L437.6,248.2 L436.8,249.6 L437.3,252.0 L435.5,252.7 L434.5,253.9 L432.5,253.6 L431.8,255.2 L430.1,254.6 L429.2,255.9 L428.2,257.3 L427.2,259.3 L425.7,258.2 L424.3,259.2 L422.9,258.4 L421.5,258.9 L420.3,257.8 L418.7,258.1 L417.6,256.9 L416.4,255.8 L416.4,253.2 L415.2,252.5 L414.5,251.3 L413.1,250.6 L412.5,249.2 L410.2,248.6 L410.1,246.7 L409.8,245.0 L410.7,243.1 L409.7,241.5 L410.4,239.8 L410.4,238.1 L411.5,236.8 L411.1,234.8 L413.1,234.2 L413.8,232.9 L414.9,232.0 L414.2,229.1 L415.2,227.9 L415.9,226.1 L417.2,225.3 L418.4,224.1 L420.3,225.3 L421.7,225.6 L423.0,225.6 Z" fill="none" stroke="#4a5235" stroke-width="0.35" opacity="0.8"/>
<path d="M415.3,250.7 Q418.4,246.8 423.1,248.2 Q419.6,252.1 415.3,250.7 Z" transform="rotate(-27 419.2 249.7)" fill="#7e6c3c" stroke="#4a5235" stroke-width="0.25"/>
<path d="M426.0,238.3 Q431.1,233.9 438.7,235.5 Q433.0,239.9 426.0,238.3 Z" transform="rotate(-1 432.3 237.1)" fill="#7e6c3c" stroke="#4a5235" stroke-width="0.25"/>
<path d="M408.5,252.3 Q413.8,246.0 421.6,248.3 Q415.7,254.6 408.5,252.3 Z" transform="rotate(-6 415.1 250.5)" fill="#7e6c3c" stroke="#4a5235" stroke-width="0.25"/>
<path d="M427.2,252.0 Q432.5,247.7 440.3,249.3 Q434.4,253.5 427.2,252.0 Z" transform="rotate(-0 433.8 250.8)" fill="#7e6c3c" stroke="#4a5235" stroke-width="0.25"/>
<path d="M449.3,252.0 L451.5,252.0 L451.7,268.0 L449.1,268.0 Z" fill="#b1522e" stroke="#3a2a1a" stroke-width="0.35"/>
<path d="M456.6,228.2 L458.4,228.6 L460.3,228.4 L461.7,230.2 L463.8,229.9 L464.7,231.9 L465.8,233.2 L466.8,234.5 L471.6,232.8 L473.3,234.0 L477.0,234.4 L478.5,236.0 L481.6,237.2 L478.2,239.9 L478.7,241.5 L478.5,243.0 L481.4,244.4 L480.5,245.8 L482.1,247.4 L480.5,248.6 L482.0,250.3 L479.5,251.2 L481.1,253.3 L481.1,255.1 L482.2,257.8 L478.0,257.9 L475.6,258.9 L471.2,258.2 L468.0,258.2 L463.7,256.1 L462.5,259.2 L459.5,259.3 L456.6,260.8 L453.5,259.4 L449.9,260.9 L447.0,259.9 L443.7,259.9 L441.2,258.8 L436.4,259.8 L435.5,257.6 L434.7,255.8 L437.3,252.8 L434.7,252.3 L436.9,250.2 L434.0,249.7 L431.8,248.7 L427.0,247.9 L429.7,246.0 L429.9,244.4 L432.0,242.8 L429.8,240.9 L434.1,239.8 L433.9,237.9 L436.7,236.8 L437.4,235.0 L443.4,236.3 L444.3,234.9 L445.5,233.8 L445.8,231.5 L447.9,231.1 L448.1,227.5 L450.2,226.7 L452.3,226.3 L454.8,229.4 Z" fill="#7e6c3c" stroke="#4a5235" stroke-width="0.35"/>
<path d="M456.6,225.7 L458.4,225.1 L460.4,224.8 L461.8,226.6 L464.3,225.7 L465.8,227.0 L468.3,227.0 L469.7,228.5 L472.8,228.6 L473.1,230.9 L473.9,232.6 L473.2,234.9 L475.8,235.7 L476.0,237.3 L478.2,238.6 L479.8,240.0 L483.9,241.6 L481.8,243.3 L481.8,244.9 L481.0,246.3 L482.3,248.3 L480.2,249.4 L480.4,251.2 L477.9,252.1 L476.0,253.0 L471.9,252.4 L471.2,254.2 L469.1,254.9 L468.1,257.4 L465.2,257.6 L462.9,259.3 L459.7,259.6 L456.6,259.4 L453.8,257.3 L450.7,257.9 L448.1,257.2 L445.5,256.6 L443.8,255.1 L440.7,255.2 L439.8,253.5 L438.1,252.5 L437.3,251.0 L432.4,251.4 L431.6,249.8 L429.1,248.7 L429.9,246.8 L429.7,245.1 L433.0,243.1 L433.7,241.6 L435.2,240.1 L433.3,238.3 L436.1,237.1 L436.4,235.4 L438.3,234.2 L439.1,232.6 L441.5,231.9 L441.7,229.6 L442.4,227.5 L443.7,225.7 L447.0,226.5 L449.0,226.1 L451.4,227.1 L453.0,226.4 L454.9,227.3 Z" fill="#88974b" stroke="#4a5235" stroke-width="0.4"/>
<path d="M457.8,235.8 L459.3,235.9 L460.9,235.8 L462.1,236.7 L463.9,236.4 L465.4,236.7 L467.6,236.4 L468.1,237.7 L469.4,238.3 L469.7,239.4 L470.3,240.3 L469.4,241.6 L471.3,242.0 L472.5,242.7 L473.6,243.5 L473.2,244.5 L474.5,245.4 L473.5,246.4 L473.4,247.3 L472.5,248.2 L473.6,249.4 L472.0,250.1 L470.9,250.8 L468.8,251.0 L468.4,251.9 L466.4,251.9 L465.9,252.9 L465.0,253.7 L464.2,255.0 L462.5,255.0 L461.1,255.5 L459.3,255.1 L457.8,255.4 L456.3,254.8 L454.7,255.0 L453.3,254.6 L451.6,254.6 L451.0,253.2 L449.8,252.8 L448.9,252.1 L447.0,252.1 L446.1,251.3 L443.6,251.2 L442.5,250.4 L441.8,249.5 L442.8,248.2 L442.5,247.3 L442.9,246.3 L442.6,245.4 L443.1,244.5 L442.4,243.5 L443.6,242.8 L444.1,241.9 L445.2,241.3 L444.6,240.0 L445.5,239.2 L445.6,237.9 L447.2,237.5 L448.0,236.4 L450.5,237.0 L452.2,237.1 L453.6,236.9 L454.8,236.1 L456.3,236.4 Z" fill="none" stroke="#4a5235" stroke-width="0.35" opacity="0.8"/>
<path d="M465.0,250.6 Q468.4,247.8 473.7,248.8 Q469.8,251.7 465.0,250.6 Z" transform="rotate(-23 469.3 249.9)" fill="#7e6c3c" stroke="#4a5235" stroke-width="0.25"/>
<path d="M448.4,240.6 Q452.6,236.9 458.7,238.2 Q454.1,242.0 448.4,240.6 Z" transform="rotate(-21 453.6 239.6)" fill="#7e6c3c" stroke="#4a5235" stroke-width="0.25"/>
<path d="M459.7,245.8 Q464.0,242.0 470.4,243.4 Q465.6,247.1 459.7,245.8 Z" transform="rotate(5 465.1 244.7)" fill="#7e6c3c" stroke="#4a5235" stroke-width="0.25"/>
<path d="M453.9,248.8 Q457.4,246.4 462.5,247.3 Q458.7,249.7 453.9,248.8 Z" transform="rotate(4 458.2 248.2)" fill="#7e6c3c" stroke="#4a5235" stroke-width="0.25"/>
<path d="M522.9,245.1 L524.1,246.2 L525.5,244.6 L526.5,247.3 L529.0,243.0 L530.7,243.4 L533.0,243.0 L532.9,248.5 L535.0,249.2 L534.6,253.7 L535.7,255.7 L535.3,259.0 L538.7,259.4 L539.8,261.8 L540.8,264.2 L539.3,267.0 L542.4,269.2 L542.6,271.7 L544.7,274.7 L545.2,277.6 L547.4,281.5 L543.3,282.1 L541.1,283.3 L537.6,283.0 L537.5,285.7 L534.8,285.3 L535.7,290.2 L534.3,292.2 L533.0,295.4 L529.8,293.7 L527.8,295.3 L525.3,295.1 L522.9,299.4 L520.3,296.3 L517.3,298.5 L515.4,295.2 L513.9,292.2 L514.1,286.9 L511.3,288.1 L509.4,287.4 L506.5,287.5 L505.5,285.4 L501.2,286.0 L502.2,282.3 L501.2,280.0 L503.3,276.5 L501.3,274.6 L502.1,271.9 L502.6,269.2 L505.7,266.9 L504.9,264.2 L508.3,262.8 L509.2,260.8 L510.2,258.9 L507.7,253.3 L509.2,251.2 L509.7,247.6 L512.1,247.0 L513.6,245.4 L516.1,247.1 L517.4,245.8 L518.9,246.0 L520.0,243.0 L521.6,246.7 Z" fill="#7e6c3c" stroke="#4a5235" stroke-width="0.35"/>
<path d="M522.9,237.4 L524.2,238.7 L525.8,236.9 L526.9,239.8 L528.1,241.6 L529.0,243.9 L531.0,242.9 L531.9,245.4 L534.3,244.9 L536.1,246.3 L538.8,247.0 L538.7,251.0 L538.9,254.1 L538.9,257.1 L540.5,259.3 L540.1,262.1 L541.2,264.7 L541.2,267.2 L542.2,270.0 L539.7,271.6 L540.7,274.5 L540.3,276.9 L541.6,280.9 L540.4,283.0 L539.9,286.1 L537.8,287.2 L535.6,288.0 L532.1,285.6 L530.9,288.2 L529.0,289.1 L527.1,290.5 L524.9,289.6 L522.9,292.0 L520.7,290.7 L518.4,291.4 L516.5,289.8 L513.2,292.7 L511.4,290.7 L509.2,289.7 L509.1,285.4 L507.5,284.0 L508.4,279.8 L507.6,277.9 L506.5,276.2 L504.0,275.1 L504.2,272.4 L503.5,270.0 L504.1,267.3 L502.9,264.7 L504.9,262.0 L504.6,259.2 L505.0,256.3 L505.3,253.1 L508.4,252.2 L509.8,250.3 L511.9,249.6 L512.8,247.4 L514.2,246.3 L514.4,242.3 L515.5,240.0 L516.5,236.8 L518.6,238.8 L519.8,236.3 L521.4,237.8 Z" fill="#88974b" stroke="#4a5235" stroke-width="0.4"/>
<path d="M523.8,254.4 L525.0,254.9 L526.3,254.6 L527.4,255.2 L528.8,255.0 L529.2,257.6 L529.8,259.0 L530.4,260.4 L532.0,260.1 L532.4,261.6 L534.0,262.0 L534.6,263.3 L536.0,264.3 L535.1,266.4 L535.7,267.8 L536.0,269.3 L536.6,270.9 L535.7,272.5 L535.7,274.0 L534.9,275.3 L534.2,276.6 L532.8,277.3 L533.2,279.2 L533.1,281.0 L533.0,283.0 L531.7,283.6 L531.3,285.6 L529.7,285.5 L528.5,285.9 L527.1,285.2 L526.2,286.8 L525.0,286.3 L523.8,286.8 L522.7,285.5 L521.5,286.2 L520.6,284.8 L519.5,284.6 L518.3,284.4 L516.3,285.8 L515.5,284.2 L514.5,283.1 L514.3,281.2 L513.7,279.8 L513.9,277.9 L513.3,276.6 L512.8,275.3 L511.8,274.1 L512.7,272.4 L512.2,270.9 L512.3,269.4 L511.8,267.8 L512.5,266.4 L511.7,264.3 L512.3,262.8 L513.0,261.4 L514.8,261.2 L515.6,260.1 L516.9,259.8 L517.5,258.5 L518.6,258.2 L519.1,256.0 L520.3,255.8 L521.4,255.0 L522.7,255.9 Z" fill="none" stroke="#4a5235" stroke-width="0.35" opacity="0.8"/>
<path d="M516.3,269.2 Q520.9,265.3 527.7,266.7 Q522.6,270.6 516.3,269.2 Z" transform="rotate(-9 522.0 268.1)" fill="#7e6c3c" stroke="#4a5235" stroke-width="0.25"/>
<path d="M520.1,262.8 Q522.8,256.9 526.9,259.0 Q523.8,264.9 520.1,262.8 Z" transform="rotate(-2 523.5 261.2)" fill="#7e6c3c" stroke="#4a5235" stroke-width="0.25"/>
<path d="M510.7,265.3 Q515.2,260.3 521.8,262.1 Q516.8,267.1 510.7,265.3 Z" transform="rotate(-5 516.3 263.9)" fill="#7e6c3c" stroke="#4a5235" stroke-width="0.25"/>
<path d="M527.9,267.3 Q531.3,261.3 536.5,263.5 Q532.6,269.5 527.9,267.3 Z" transform="rotate(-23 532.2 265.7)" fill="#7e6c3c" stroke="#4a5235" stroke-width="0.25"/>
<path d="M506.4,362.0 L509.2,362.0 L509.5,392.0 L506.1,392.0 Z" fill="#5b4329" stroke="#3a2a1a" stroke-width="0.35"/>
<path d="M509.8,283.2 L512.2,287.7 L514.8,285.9 L516.3,293.2 L518.3,295.4 L519.9,298.8 L524.2,294.9 L525.2,300.5 L526.8,304.0 L527.0,309.4 L531.4,309.4 L532.1,313.9 L537.1,315.4 L540.4,318.8 L547.2,321.8 L542.9,327.8 L542.2,332.4 L539.2,336.2 L540.4,340.1 L537.7,343.0 L540.0,347.6 L540.6,352.0 L541.6,357.3 L534.2,355.5 L536.2,362.2 L534.2,365.5 L534.2,372.6 L529.1,371.8 L527.9,379.5 L522.4,376.7 L517.5,373.6 L513.1,367.6 L509.8,371.9 L506.4,368.5 L502.7,370.6 L498.8,371.4 L492.7,376.8 L490.9,370.8 L488.0,368.3 L485.4,365.6 L479.0,367.3 L479.0,361.4 L476.3,358.6 L478.2,352.5 L476.7,349.1 L483.0,342.5 L482.5,339.3 L482.6,335.9 L476.6,332.4 L478.9,328.1 L477.7,323.3 L479.8,319.0 L480.9,314.3 L487.3,313.7 L485.9,307.0 L488.5,303.9 L490.2,299.6 L494.7,301.1 L496.7,298.3 L500.2,300.7 L502.1,299.0 L504.3,299.1 L504.9,286.9 L507.3,285.1 Z" fill="#7e6c3c" stroke="#4a5235" stroke-width="0.35"/>
<path d="M509.8,281.3 L512.0,282.2 L514.6,279.9 L516.4,284.3 L519.2,283.1 L521.7,284.4 L525.1,283.8 L526.6,288.7 L529.3,291.1 L529.7,297.0 L531.0,301.2 L530.0,307.2 L533.4,309.2 L535.0,312.9 L539.2,315.9 L539.2,320.5 L542.2,324.9 L542.1,329.5 L541.6,333.8 L539.5,337.3 L543.0,343.5 L541.2,347.2 L539.2,350.6 L534.9,351.4 L533.7,355.2 L529.1,354.4 L527.5,357.8 L525.5,361.1 L524.9,369.4 L521.2,370.4 L517.5,371.3 L513.5,370.3 L509.8,373.4 L506.3,367.9 L502.7,367.9 L499.2,367.2 L495.2,368.0 L493.9,361.4 L491.6,358.6 L489.2,356.3 L485.7,355.5 L485.0,351.1 L479.2,351.6 L476.7,348.4 L475.7,344.0 L478.5,338.0 L477.8,333.8 L480.7,329.0 L480.7,324.9 L482.9,320.9 L481.4,316.2 L483.1,312.2 L485.5,308.8 L488.6,306.3 L487.4,299.8 L489.5,296.4 L490.4,291.1 L492.7,288.1 L494.0,282.3 L497.9,284.3 L501.0,285.9 L503.5,286.2 L505.2,282.0 L507.7,284.3 Z" fill="#88974b" stroke="#4a5235" stroke-width="0.4"/>
<path d="M511.4,308.8 L513.2,310.0 L515.2,309.6 L516.4,313.0 L518.2,313.1 L520.0,313.8 L522.5,313.0 L524.0,314.6 L526.5,315.0 L527.5,317.6 L528.7,319.7 L527.6,323.6 L528.6,325.7 L529.1,328.0 L530.6,330.1 L529.5,332.8 L530.7,335.2 L529.7,337.6 L529.7,340.0 L529.0,342.3 L530.4,345.7 L530.1,348.5 L529.6,351.4 L526.9,352.1 L526.0,354.7 L523.2,354.3 L521.5,355.4 L519.6,355.8 L518.7,358.7 L516.9,359.6 L515.1,360.2 L513.2,359.6 L511.4,361.6 L509.5,360.7 L507.4,361.9 L505.3,361.7 L503.0,362.0 L501.9,358.6 L500.4,357.0 L499.8,354.0 L498.2,352.7 L498.3,349.4 L495.9,348.9 L494.4,347.2 L492.2,345.7 L492.9,342.6 L491.3,340.5 L491.4,337.8 L490.9,335.2 L492.1,332.6 L490.9,329.7 L491.9,327.3 L493.5,325.3 L496.1,324.4 L496.2,321.7 L497.3,319.9 L497.8,317.1 L499.1,315.3 L499.3,311.2 L501.5,310.6 L503.6,310.2 L505.9,311.1 L507.3,308.2 L509.5,309.5 Z" fill="none" stroke="#4a5235" stroke-width="0.35" opacity="0.8"/>
<path d="M510.2,325.2 Q514.1,318.9 520.0,321.2 Q515.6,327.5 510.2,325.2 Z" transform="rotate(-15 515.1 323.5)" fill="#7e6c3c" stroke="#4a5235" stroke-width="0.25"/>
<path d="M483.2,329.0 Q490.5,321.6 501.4,324.3 Q493.2,331.7 483.2,329.0 Z" transform="rotate(-30 492.3 327.0)" fill="#7e6c3c" stroke="#4a5235" stroke-width="0.25"/>
<path d="M515.6,330.3 Q520.0,321.9 526.6,324.9 Q521.7,333.3 515.6,330.3 Z" transform="rotate(-7 521.1 328.0)" fill="#7e6c3c" stroke="#4a5235" stroke-width="0.25"/>
<path d="M494.4,344.2 Q501.5,337.3 512.0,339.8 Q504.1,346.7 494.4,344.2 Z" transform="rotate(-13 503.2 342.3)" fill="#7e6c3c" stroke="#4a5235" stroke-width="0.25"/>
<path d="M443.7,395.0 L447.7,395.0 L448.1,413.0 L443.3,413.0 Z" fill="#b1522e" stroke="#3a2a1a" stroke-width="0.35"/>
<path d="M449.6,332.0 L453.0,332.4 L456.8,331.0 L458.9,337.4 L462.6,336.9 L465.9,338.4 L471.0,337.3 L470.2,344.8 L475.2,344.9 L474.6,350.3 L478.1,352.2 L476.8,356.7 L485.4,356.8 L492.0,358.8 L498.4,361.7 L495.3,366.1 L501.6,369.8 L497.1,373.3 L496.3,376.7 L489.8,378.6 L496.2,383.5 L492.9,385.9 L491.6,388.9 L483.5,388.4 L485.1,393.1 L480.3,394.0 L479.3,398.2 L476.9,402.2 L476.7,410.8 L468.1,407.8 L461.8,407.8 L455.1,404.5 L449.6,404.9 L444.9,399.2 L439.4,401.6 L434.1,401.6 L428.0,402.6 L425.6,398.2 L419.1,399.0 L416.5,395.9 L408.7,396.7 L409.2,392.0 L398.7,392.9 L398.5,388.8 L400.4,384.2 L409.8,378.5 L406.6,376.1 L412.2,372.6 L409.2,369.8 L412.0,366.8 L404.7,362.4 L408.0,359.0 L411.0,355.8 L417.4,354.3 L413.6,347.5 L419.0,346.0 L421.2,342.2 L426.5,341.9 L428.9,338.4 L436.0,343.5 L438.8,342.6 L442.1,343.8 L443.2,335.2 L446.6,337.5 Z" fill="#7e6c3c" stroke="#4a5235" stroke-width="0.35"/>
<path d="M449.6,322.5 L452.9,326.6 L455.8,329.5 L458.3,332.8 L462.1,331.3 L464.6,334.0 L468.7,333.7 L471.6,336.1 L476.4,336.5 L476.9,341.4 L481.6,342.8 L484.4,345.9 L489.5,348.2 L489.8,352.5 L492.6,356.0 L491.3,360.0 L490.5,363.6 L485.4,366.6 L488.7,370.0 L490.7,373.6 L493.6,378.0 L491.5,380.9 L493.0,385.7 L488.9,387.7 L486.8,391.1 L480.2,390.8 L479.8,396.2 L474.5,396.9 L469.9,398.4 L463.3,395.5 L459.4,398.1 L454.2,396.2 L449.6,396.3 L444.9,397.2 L438.4,403.0 L433.3,401.6 L428.2,400.2 L425.1,396.4 L419.2,396.5 L419.3,390.6 L414.7,389.4 L413.4,385.9 L408.1,384.7 L410.6,379.7 L409.6,376.7 L410.3,373.2 L405.8,370.8 L407.7,367.1 L403.0,363.6 L403.3,359.6 L403.4,355.4 L411.8,353.2 L412.8,349.4 L418.0,347.5 L419.7,344.2 L424.5,343.2 L424.1,337.8 L427.7,336.2 L430.4,333.5 L434.7,334.1 L436.2,328.9 L439.4,327.4 L442.4,324.0 L446.1,325.3 Z" fill="#88974b" stroke="#4a5235" stroke-width="0.4"/>
<path d="M451.8,352.2 L454.3,352.7 L457.1,351.3 L459.5,352.4 L463.1,351.0 L465.7,351.9 L469.1,352.0 L469.6,355.3 L471.0,357.2 L472.1,359.2 L474.3,360.4 L473.9,362.9 L476.9,364.0 L477.8,366.0 L478.8,367.9 L476.9,370.1 L479.6,372.1 L479.8,374.2 L481.3,376.6 L479.2,378.5 L480.3,381.2 L476.9,382.4 L474.2,383.6 L470.7,384.1 L470.8,386.7 L468.3,387.6 L467.1,389.8 L464.5,390.4 L462.8,392.6 L459.8,392.4 L457.2,393.2 L454.5,393.5 L451.8,395.4 L449.0,394.4 L446.2,393.9 L443.9,392.1 L441.3,391.7 L440.6,388.2 L438.2,387.8 L435.6,387.3 L431.4,387.8 L430.2,385.7 L427.9,384.4 L426.8,382.4 L425.1,380.6 L426.1,378.1 L423.3,376.4 L423.3,374.2 L423.3,372.1 L426.0,370.1 L425.8,368.1 L427.7,366.4 L428.5,364.6 L429.3,362.7 L427.5,359.5 L429.2,357.7 L430.3,355.5 L434.0,355.3 L435.6,353.3 L438.9,353.4 L441.2,352.3 L444.1,352.4 L446.3,350.7 L449.2,351.7 Z" fill="none" stroke="#4a5235" stroke-width="0.35" opacity="0.8"/>
<path d="M442.1,371.3 Q448.4,364.8 457.8,367.2 Q450.8,373.6 442.1,371.3 Z" transform="rotate(0 450.0 369.5)" fill="#7e6c3c" stroke="#4a5235" stroke-width="0.25"/>
<path d="M465.0,363.8 Q470.9,355.4 479.8,358.5 Q473.1,366.9 465.0,363.8 Z" transform="rotate(-12 472.4 361.5)" fill="#7e6c3c" stroke="#4a5235" stroke-width="0.25"/>
<path d="M447.4,379.1 Q454.8,373.2 466.0,375.3 Q457.6,381.2 447.4,379.1 Z" transform="rotate(0 456.7 377.5)" fill="#7e6c3c" stroke="#4a5235" stroke-width="0.25"/>
<path d="M449.3,360.3 Q454.8,352.5 463.0,355.3 Q456.8,363.1 449.3,360.3 Z" transform="rotate(-9 456.1 358.1)" fill="#7e6c3c" stroke="#4a5235" stroke-width="0.25"/>
<path d="M534.0,327.1 L534.7,333.4 L535.5,332.1 L536.1,334.3 L537.2,332.3 L537.5,337.4 L539.1,333.4 L540.4,333.3 L541.9,333.4 L541.6,340.1 L542.2,343.3 L542.3,347.4 L542.5,350.7 L542.4,354.2 L544.6,355.8 L544.2,359.3 L545.4,362.3 L544.1,365.2 L545.7,368.8 L545.5,371.8 L546.1,375.7 L546.2,379.4 L547.2,384.8 L544.5,384.0 L543.0,384.7 L541.2,383.6 L541.1,387.9 L539.3,386.0 L538.9,390.2 L538.0,392.9 L537.0,397.5 L535.3,394.0 L534.0,396.8 L532.6,395.2 L530.9,398.8 L529.7,395.5 L528.1,395.7 L527.4,391.7 L526.6,389.0 L527.3,382.1 L525.9,382.4 L525.0,380.8 L523.5,380.3 L523.2,377.4 L521.1,376.6 L521.3,372.8 L521.6,369.2 L523.0,365.4 L521.8,362.3 L522.8,359.0 L523.4,355.7 L524.9,353.5 L525.1,350.2 L527.0,349.7 L527.2,346.5 L528.0,344.8 L527.2,337.5 L527.8,334.4 L528.5,331.2 L529.7,330.9 L530.3,327.6 L531.7,331.9 L532.5,332.3 L533.2,331.1 Z" fill="#7e6c3c" stroke="#4a5235" stroke-width="0.35"/>
<path d="M534.0,324.1 L534.7,326.2 L535.5,325.1 L536.3,325.9 L537.6,321.5 L538.5,323.2 L539.4,324.8 L539.8,329.1 L540.7,331.1 L540.7,336.2 L541.3,338.8 L541.9,341.4 L543.2,343.2 L542.8,347.4 L543.4,350.3 L543.5,353.5 L545.0,356.6 L544.5,359.8 L545.8,363.8 L546.2,367.7 L546.2,371.5 L544.4,372.7 L544.0,375.6 L542.5,376.1 L542.1,379.0 L541.0,379.9 L541.0,385.0 L540.0,386.8 L538.9,388.3 L537.6,387.9 L536.6,391.3 L535.3,392.3 L534.0,394.2 L532.7,392.5 L531.2,393.7 L530.3,388.6 L529.3,386.7 L528.8,382.8 L527.4,383.4 L526.9,380.4 L525.2,380.9 L524.5,378.4 L523.1,377.4 L523.4,373.0 L522.9,370.2 L522.8,366.8 L522.2,363.8 L523.0,360.0 L522.9,356.6 L523.8,353.3 L524.6,350.3 L525.9,348.1 L525.9,344.8 L526.1,341.4 L525.6,336.2 L526.6,334.0 L526.9,329.5 L528.1,329.0 L529.0,327.2 L530.1,327.9 L530.6,323.7 L531.5,323.4 L532.4,323.4 L533.2,325.2 Z" fill="#88974b" stroke="#4a5235" stroke-width="0.4"/>
<path d="M528.3,361.6 Q529.8,355.7 532.1,357.9 Q530.4,363.8 528.3,361.6 Z" transform="rotate(-21 530.2 360.0)" fill="#7e6c3c" stroke="#4a5235" stroke-width="0.25"/>
<path d="M533.8,359.9 Q535.3,354.7 537.5,356.6 Q535.9,361.9 533.8,359.9 Z" transform="rotate(-20 535.7 358.5)" fill="#7e6c3c" stroke="#4a5235" stroke-width="0.25"/>
<path d="M494.6,505.0 L498.6,505.0 L498.9,542.0 L494.3,542.0 Z" fill="#5b4329" stroke="#3a2a1a" stroke-width="0.35"/>
<path d="M497.6,408.5 L501.2,412.2 L504.7,413.8 L507.0,421.6 L511.0,419.7 L511.6,430.0 L515.5,429.8 L518.4,432.7 L524.4,431.3 L521.9,441.9 L525.7,444.2 L528.8,447.7 L536.3,449.1 L536.7,454.9 L545.1,458.3 L547.7,464.0 L548.6,469.9 L540.9,474.8 L540.0,479.3 L537.8,483.1 L540.3,488.6 L535.9,491.1 L540.9,499.3 L537.0,502.1 L533.4,504.9 L528.6,506.3 L530.8,517.2 L524.8,517.8 L521.8,524.4 L515.0,523.0 L510.1,527.6 L502.8,518.3 L497.6,513.9 L493.3,510.9 L487.0,519.2 L482.6,516.0 L475.9,519.0 L472.1,515.0 L463.9,518.1 L464.4,509.1 L458.9,507.9 L455.0,504.8 L448.6,503.2 L452.0,495.2 L451.8,490.0 L455.7,483.7 L457.4,478.8 L463.9,473.7 L458.8,469.9 L456.0,465.0 L451.3,458.6 L458.2,454.8 L455.7,447.3 L461.3,444.0 L464.7,439.7 L470.7,438.7 L470.5,430.7 L475.0,429.2 L478.3,426.3 L483.9,430.6 L486.0,426.2 L489.8,429.1 L491.6,422.0 L494.6,419.8 Z" fill="#7e6c3c" stroke="#4a5235" stroke-width="0.35"/>
<path d="M497.6,408.9 L500.7,410.9 L504.0,409.1 L506.6,413.8 L510.9,410.1 L512.7,416.5 L516.1,418.1 L518.9,421.4 L525.2,419.5 L528.3,423.9 L531.7,428.1 L532.3,434.8 L535.4,439.3 L531.6,447.0 L532.3,451.8 L533.5,456.4 L539.8,461.0 L539.8,466.1 L542.2,471.7 L540.8,476.6 L541.7,482.3 L538.4,486.0 L538.4,491.8 L536.8,496.7 L536.5,503.6 L528.2,501.4 L524.6,504.2 L518.8,503.1 L515.0,505.1 L510.1,504.0 L507.4,512.1 L502.8,514.9 L497.6,518.0 L492.7,513.8 L487.0,517.1 L482.6,513.1 L477.4,512.6 L474.0,507.9 L467.9,508.7 L466.5,502.1 L465.6,496.2 L466.4,489.5 L460.2,489.3 L459.5,484.4 L455.8,481.3 L452.6,477.3 L447.3,473.1 L452.7,466.4 L454.6,461.0 L458.1,455.9 L457.5,450.4 L462.6,446.5 L462.3,440.7 L465.8,436.8 L466.6,430.9 L473.1,431.2 L474.2,425.7 L476.1,420.9 L477.1,413.2 L480.7,410.9 L483.3,405.8 L487.1,405.3 L490.8,405.6 L494.7,411.5 Z" fill="#88974b" stroke="#4a5235" stroke-width="0.4"/>
<path d="M499.8,438.4 L502.7,439.1 L505.5,440.2 L507.7,443.3 L510.2,444.5 L511.7,447.7 L514.2,448.6 L515.9,450.7 L519.4,450.8 L520.2,454.1 L522.0,456.3 L522.1,459.6 L526.2,460.7 L526.4,464.0 L528.5,466.8 L528.5,470.1 L529.7,473.3 L526.3,476.3 L524.6,479.0 L522.8,481.3 L523.5,484.6 L521.7,486.7 L522.4,490.7 L521.0,493.3 L520.0,496.6 L516.6,496.8 L515.6,500.5 L513.3,502.3 L511.0,504.3 L507.9,503.9 L505.3,505.3 L502.4,503.4 L499.8,502.5 L497.6,499.3 L494.7,502.7 L492.1,502.5 L489.0,503.3 L486.7,501.5 L483.2,501.9 L481.9,498.4 L480.2,495.9 L479.2,492.7 L475.6,492.0 L475.4,488.3 L474.5,485.4 L475.8,481.7 L473.7,479.3 L476.1,476.0 L474.7,473.3 L472.9,470.3 L470.5,466.6 L472.6,463.8 L472.9,460.5 L474.6,457.8 L476.1,455.1 L480.0,454.6 L480.9,451.6 L482.9,449.7 L484.4,446.8 L487.9,447.7 L489.8,445.5 L492.5,445.6 L494.7,443.5 L497.3,443.3 Z" fill="none" stroke="#4a5235" stroke-width="0.35" opacity="0.8"/>
<path d="M503.2,489.0 Q513.4,480.1 528.6,483.3 Q517.2,492.2 503.2,489.0 Z" transform="rotate(-3 515.9 486.6)" fill="#7e6c3c" stroke="#4a5235" stroke-width="0.25"/>
<path d="M480.6,482.9 Q486.7,473.7 495.7,477.1 Q488.9,486.2 480.6,482.9 Z" transform="rotate(-29 488.2 480.4)" fill="#7e6c3c" stroke="#4a5235" stroke-width="0.25"/>
<path d="M506.2,477.0 Q514.6,465.5 527.2,469.7 Q517.7,481.2 506.2,477.0 Z" transform="rotate(-20 516.7 473.9)" fill="#7e6c3c" stroke="#4a5235" stroke-width="0.25"/>
<path d="M478.2,493.8 Q485.6,484.6 496.7,487.9 Q488.3,497.2 478.2,493.8 Z" transform="rotate(3 487.4 491.3)" fill="#7e6c3c" stroke="#4a5235" stroke-width="0.25"/>
<path d="M296.6,359.0 L299.1,358.9 L302.0,357.6 L303.6,363.7 L307.6,359.9 L310.4,361.9 L315.9,359.5 L317.5,365.1 L322.6,365.7 L323.8,371.2 L324.6,376.2 L321.6,382.5 L328.5,383.3 L331.6,386.3 L338.6,388.7 L340.9,392.3 L350.4,395.9 L349.1,399.8 L348.6,403.5 L346.4,406.5 L356.2,412.6 L350.2,414.6 L348.5,417.9 L340.7,418.2 L340.1,422.1 L327.9,418.3 L327.7,422.8 L324.0,425.0 L325.0,434.3 L317.7,434.4 L311.6,437.4 L303.9,436.2 L296.6,436.8 L290.5,430.1 L283.3,432.7 L276.9,431.9 L269.4,432.7 L269.4,424.8 L263.6,424.3 L260.5,421.8 L254.6,421.1 L254.0,417.4 L240.7,419.6 L238.7,416.1 L236.6,412.7 L245.7,406.7 L241.7,403.9 L249.8,399.4 L253.8,395.9 L256.9,392.7 L253.2,388.4 L259.1,385.5 L262.7,382.5 L268.3,380.7 L266.9,375.0 L271.0,372.7 L271.3,366.5 L274.2,362.8 L276.7,358.2 L283.0,362.4 L286.2,362.0 L290.1,366.1 L291.8,361.7 L294.4,363.7 Z" fill="#7e6c3c" stroke="#4a5235" stroke-width="0.35"/>
<path d="M296.6,348.5 L299.0,354.0 L301.8,352.2 L304.5,353.0 L307.9,352.2 L309.2,358.0 L312.5,358.7 L315.4,360.8 L319.6,361.8 L322.4,365.0 L329.0,365.4 L332.5,369.0 L336.0,372.8 L333.8,378.4 L337.0,381.8 L337.2,385.8 L339.7,389.4 L339.4,392.9 L346.6,397.3 L344.2,400.5 L343.8,404.0 L340.5,406.4 L345.2,412.2 L342.4,415.2 L341.4,419.4 L337.3,422.0 L333.9,425.5 L323.9,421.9 L318.5,422.7 L312.4,421.7 L308.4,426.0 L302.4,425.4 L296.6,429.3 L290.2,429.7 L283.3,430.6 L278.9,425.6 L272.1,426.6 L266.1,425.7 L260.5,424.3 L259.2,419.3 L254.1,417.9 L254.2,413.2 L253.0,409.9 L256.6,404.8 L251.2,403.4 L248.8,400.6 L245.9,397.4 L248.1,393.3 L246.6,389.4 L252.3,385.5 L255.2,381.7 L259.0,378.2 L258.2,373.2 L263.9,370.8 L267.9,368.1 L272.7,366.7 L274.8,363.1 L279.3,363.0 L280.8,358.9 L282.9,355.2 L284.3,348.7 L288.0,349.7 L290.8,347.8 L293.9,349.7 Z" fill="#88974b" stroke="#4a5235" stroke-width="0.4"/>
<path d="M298.9,377.2 L301.7,376.7 L305.1,374.3 L307.7,375.9 L311.1,375.4 L313.5,377.2 L315.9,378.5 L316.5,381.7 L319.5,382.3 L321.4,384.0 L322.9,385.9 L322.9,388.4 L325.0,390.0 L324.5,392.3 L326.5,394.1 L326.7,396.2 L330.5,398.4 L330.1,400.8 L330.6,403.3 L328.0,405.3 L326.8,407.4 L323.5,408.6 L321.9,410.4 L319.6,411.6 L319.6,414.5 L316.8,415.3 L314.6,416.7 L311.9,417.3 L310.5,420.2 L307.1,419.5 L305.0,422.0 L302.0,423.0 L298.9,424.4 L296.1,420.6 L293.4,420.0 L291.3,418.1 L288.5,418.0 L286.8,416.1 L282.8,417.2 L280.3,416.1 L277.7,414.9 L277.1,412.3 L274.1,411.4 L272.7,409.3 L270.6,407.5 L270.7,405.1 L267.7,403.2 L269.8,400.6 L271.0,398.4 L273.4,396.4 L271.7,394.2 L273.4,392.3 L271.9,389.6 L272.8,387.5 L271.9,384.3 L276.2,383.8 L278.0,382.0 L280.2,380.6 L281.4,377.9 L285.3,378.5 L287.7,377.2 L290.8,377.4 L293.4,376.6 L296.4,378.4 Z" fill="none" stroke="#4a5235" stroke-width="0.35" opacity="0.8"/>
<path d="M276.2,399.9 Q286.9,391.9 302.9,394.8 Q290.9,402.8 276.2,399.9 Z" transform="rotate(-22 289.6 397.7)" fill="#7e6c3c" stroke="#4a5235" stroke-width="0.25"/>
<path d="M295.9,393.9 Q302.6,387.2 312.6,389.6 Q305.1,396.3 295.9,393.9 Z" transform="rotate(1 304.3 392.1)" fill="#7e6c3c" stroke="#4a5235" stroke-width="0.25"/>
<path d="M285.3,411.6 Q293.6,406.6 306.2,408.5 Q296.8,413.4 285.3,411.6 Z" transform="rotate(4 295.7 410.3)" fill="#7e6c3c" stroke="#4a5235" stroke-width="0.25"/>
<path d="M261.5,412.9 Q269.4,404.8 281.3,407.7 Q272.4,415.8 261.5,412.9 Z" transform="rotate(4 271.4 410.7)" fill="#7e6c3c" stroke="#4a5235" stroke-width="0.25"/>
<path d="M281.0,470.0 L285.0,470.0 L285.3,492.0 L280.7,492.0 Z" fill="#5b4329" stroke="#3a2a1a" stroke-width="0.35"/>
<path d="M286.5,402.4 L289.9,405.8 L293.9,402.8 L296.1,409.7 L298.8,412.6 L298.9,420.4 L302.7,419.8 L306.0,420.8 L312.6,418.9 L314.4,422.8 L320.5,423.6 L321.2,428.3 L325.9,431.0 L324.0,436.0 L333.8,438.1 L333.5,442.5 L334.5,446.6 L329.5,450.2 L331.8,454.0 L323.8,455.7 L325.1,459.1 L325.5,462.6 L333.4,470.1 L328.8,472.2 L327.4,476.2 L321.8,477.3 L320.9,482.9 L311.7,479.4 L307.6,481.8 L303.3,484.5 L298.2,486.6 L291.4,480.8 L286.5,480.7 L282.0,478.0 L276.6,480.7 L272.2,479.0 L263.4,485.1 L256.6,485.6 L250.0,485.0 L251.2,477.3 L246.2,475.8 L247.6,470.1 L244.2,467.8 L247.7,462.5 L239.2,461.9 L242.4,457.3 L243.2,453.7 L250.1,449.7 L242.3,446.6 L243.9,442.9 L241.9,438.6 L243.3,434.4 L241.1,428.6 L251.7,428.3 L257.0,426.7 L262.0,425.8 L262.4,420.9 L266.7,420.3 L267.9,415.7 L271.0,413.8 L272.9,409.0 L278.0,414.2 L280.1,409.1 L283.3,408.4 Z" fill="#7e6c3c" stroke="#4a5235" stroke-width="0.35"/>
<path d="M286.5,400.7 L289.8,399.3 L293.5,397.9 L295.8,403.4 L300.0,401.7 L303.2,403.6 L306.8,405.2 L308.9,409.1 L313.8,409.7 L314.5,415.0 L315.1,419.5 L314.6,424.3 L320.0,425.8 L322.0,429.2 L326.0,432.3 L329.3,435.9 L334.9,440.0 L330.1,443.9 L330.5,447.9 L328.7,451.3 L331.4,456.1 L326.4,458.1 L326.1,462.1 L322.0,463.9 L320.0,467.2 L313.8,466.7 L311.8,470.0 L309.2,473.4 L307.4,479.2 L301.8,479.1 L297.7,483.2 L291.9,481.9 L286.5,481.5 L281.8,476.7 L276.8,477.4 L272.2,476.5 L267.4,475.9 L264.3,472.7 L258.4,473.3 L256.9,468.9 L253.9,466.4 L250.7,464.2 L242.5,464.5 L241.2,460.5 L240.2,456.6 L243.5,451.5 L241.7,448.0 L247.2,443.5 L248.4,440.0 L249.3,436.5 L246.7,432.2 L250.2,428.9 L250.5,424.7 L254.0,421.8 L254.7,417.3 L259.3,415.6 L259.0,409.5 L262.1,406.3 L265.2,403.4 L270.9,406.0 L274.3,405.3 L277.8,406.0 L280.7,405.0 L283.7,405.8 Z" fill="#88974b" stroke="#4a5235" stroke-width="0.4"/>
<path d="M288.7,422.9 L291.6,424.3 L294.3,425.1 L296.2,428.2 L298.9,428.2 L300.8,429.9 L303.0,430.9 L305.2,432.0 L308.2,432.6 L309.1,434.9 L310.5,436.7 L311.5,438.8 L315.6,439.7 L315.9,442.1 L317.3,444.3 L317.0,446.8 L317.9,449.1 L313.8,451.3 L313.1,453.3 L312.6,455.3 L313.5,457.9 L311.7,459.6 L312.2,462.5 L310.2,464.2 L308.9,466.3 L305.2,466.3 L304.7,469.6 L302.1,470.6 L299.9,472.2 L296.4,470.9 L294.1,472.3 L291.1,470.4 L288.7,470.4 L286.4,469.1 L283.3,472.0 L280.6,471.9 L277.4,472.3 L275.7,469.8 L272.5,469.7 L271.5,466.9 L269.4,465.6 L268.2,463.4 L264.8,462.7 L264.8,460.0 L264.4,457.7 L265.4,455.2 L263.2,453.4 L264.5,451.2 L262.0,449.1 L260.7,446.8 L258.8,444.1 L260.9,442.0 L261.8,439.7 L264.7,438.3 L265.6,436.0 L269.4,435.7 L269.6,433.0 L271.6,431.5 L273.6,430.0 L277.3,431.1 L278.7,428.7 L281.1,428.1 L283.2,425.6 L285.9,425.4 Z" fill="none" stroke="#4a5235" stroke-width="0.35" opacity="0.8"/>
<path d="M277.4,461.7 Q286.7,456.5 300.8,458.4 Q290.2,463.5 277.4,461.7 Z" transform="rotate(4 289.1 460.3)" fill="#7e6c3c" stroke="#4a5235" stroke-width="0.25"/>
<path d="M285.4,452.2 Q293.1,444.0 304.7,447.0 Q296.0,455.3 285.4,452.2 Z" transform="rotate(-20 295.1 450.0)" fill="#7e6c3c" stroke="#4a5235" stroke-width="0.25"/>
<path d="M285.1,447.4 Q293.2,440.1 305.5,442.7 Q296.3,450.1 285.1,447.4 Z" transform="rotate(-12 295.3 445.4)" fill="#7e6c3c" stroke="#4a5235" stroke-width="0.25"/>
<path d="M283.4,436.2 Q289.7,429.9 299.3,432.2 Q292.1,438.5 283.4,436.2 Z" transform="rotate(-18 291.3 434.5)" fill="#7e6c3c" stroke="#4a5235" stroke-width="0.25"/>
<path d="M285.2,497.5 L289.9,499.1 L295.0,497.4 L298.1,504.5 L303.7,503.0 L308.8,504.2 L314.4,505.4 L314.7,513.4 L321.1,514.2 L320.1,521.4 L321.6,525.8 L322.7,529.9 L334.8,530.0 L342.0,533.1 L350.3,536.8 L347.2,542.3 L355.9,546.9 L348.4,551.4 L348.6,555.7 L342.5,558.8 L351.9,565.3 L342.2,566.8 L341.4,571.0 L334.4,572.3 L334.5,577.4 L323.6,575.4 L326.2,583.9 L322.9,588.9 L321.6,598.8 L309.6,594.0 L302.2,596.8 L293.0,592.8 L285.2,592.2 L278.8,584.9 L270.6,589.5 L263.8,588.2 L256.4,587.9 L253.4,582.3 L245.0,583.1 L241.9,579.1 L231.7,580.0 L228.8,576.0 L215.4,576.8 L214.2,571.7 L219.5,565.1 L227.9,558.8 L225.9,555.1 L234.2,550.5 L231.2,546.9 L232.3,542.9 L225.4,537.6 L231.4,533.8 L234.2,529.5 L238.5,525.8 L236.1,518.4 L243.6,516.5 L245.0,510.3 L251.5,508.6 L256.3,505.7 L266.5,513.0 L270.5,512.0 L274.2,510.9 L276.6,503.5 L281.1,505.0 Z" fill="#7e6c3c" stroke="#4a5235" stroke-width="0.35"/>
<path d="M285.2,494.9 L289.2,497.2 L293.6,495.8 L297.9,496.6 L304.0,493.2 L306.4,499.6 L311.5,500.4 L315.4,503.5 L322.7,503.4 L326.2,507.6 L330.9,511.2 L333.5,515.9 L336.6,520.4 L331.2,527.1 L335.0,530.7 L335.8,534.9 L343.3,539.0 L341.0,543.4 L348.0,548.6 L346.2,553.0 L347.2,558.0 L339.8,560.2 L343.2,566.7 L338.1,569.6 L336.0,574.3 L328.0,574.8 L322.9,577.3 L315.1,576.6 L309.2,577.7 L302.9,577.7 L299.2,585.5 L292.3,586.8 L285.2,590.4 L278.0,587.2 L269.9,589.9 L264.7,583.8 L258.3,582.4 L253.3,579.1 L245.5,579.3 L243.3,574.1 L240.3,570.2 L238.5,566.0 L232.5,564.2 L234.1,558.9 L227.0,556.9 L221.4,553.6 L216.9,549.5 L223.5,543.8 L223.3,539.0 L228.7,534.5 L230.8,530.0 L238.3,526.8 L236.8,521.5 L239.9,517.4 L243.6,513.6 L250.5,512.5 L252.0,507.5 L256.0,504.6 L257.4,498.2 L262.5,496.8 L264.8,489.3 L271.0,491.4 L275.9,491.3 L281.2,496.9 Z" fill="#88974b" stroke="#4a5235" stroke-width="0.4"/>
<path d="M288.2,523.8 L291.7,524.3 L296.1,520.9 L299.0,524.0 L302.7,524.3 L305.8,525.9 L310.8,525.2 L312.2,528.5 L316.6,529.2 L317.7,532.2 L320.5,534.1 L318.1,538.2 L319.5,540.4 L320.0,542.8 L324.9,544.5 L324.4,547.2 L328.6,549.8 L328.2,552.7 L327.1,555.4 L323.2,557.5 L324.1,560.6 L322.3,563.1 L320.7,565.6 L316.1,566.4 L314.9,569.2 L309.9,569.0 L307.5,570.8 L303.9,571.1 L302.9,575.6 L299.4,576.6 L296.2,579.0 L292.0,578.3 L288.2,579.4 L284.5,577.1 L281.0,576.2 L277.9,574.4 L273.7,575.3 L271.0,573.2 L268.4,571.4 L266.1,569.4 L262.1,568.8 L261.0,566.0 L256.5,565.2 L253.0,563.5 L248.7,561.7 L250.0,558.2 L249.3,555.4 L251.9,552.4 L251.4,549.8 L254.5,547.4 L252.6,544.7 L253.6,542.2 L253.8,539.5 L256.8,537.6 L257.3,534.8 L259.1,532.5 L260.8,529.9 L264.0,528.4 L265.0,524.6 L269.2,523.9 L273.8,524.5 L278.3,526.1 L281.2,524.2 L284.9,525.4 Z" fill="none" stroke="#4a5235" stroke-width="0.35" opacity="0.8"/>
<path d="M233.6,533.7 Q246.7,526.7 266.4,529.3 Q251.6,536.3 233.6,533.7 Z" transform="rotate(-27 250.0 531.8)" fill="#7e6c3c" stroke="#4a5235" stroke-width="0.25"/>
<path d="M275.3,561.7 Q284.7,555.6 298.7,557.8 Q288.2,563.9 275.3,561.7 Z" transform="rotate(-24 287.0 560.0)" fill="#7e6c3c" stroke="#4a5235" stroke-width="0.25"/>
<path d="M273.6,562.4 Q281.4,553.0 293.1,556.4 Q284.3,565.9 273.6,562.4 Z" transform="rotate(-6 283.4 559.9)" fill="#7e6c3c" stroke="#4a5235" stroke-width="0.25"/>
<path d="M280.1,547.5 Q287.5,539.4 298.6,542.3 Q290.3,550.4 280.1,547.5 Z" transform="rotate(-16 289.3 545.3)" fill="#7e6c3c" stroke="#4a5235" stroke-width="0.25"/>
<ellipse cx="294.6" cy="237.2" rx="2.9" ry="6.5" fill="#8a4526" stroke="#3a1d10" stroke-width="0.3"/>
<rect x="292.2" y="240.4" width="1.3" height="3.6" fill="#5a2a15"/>
<rect x="295.8" y="240.4" width="1.3" height="3.6" fill="#5a2a15"/>
<rect x="292.0" y="227.8" width="5.2" height="5.0" rx="1.2" fill="#e03030" stroke="#333" stroke-width="0.25"/>
<rect x="292.3" y="232.5" width="4.6" height="2.5" fill="#2e4f8a"/>
<circle cx="294.6" cy="227.1" r="1.4" fill="#5a3a22"/>
<ellipse cx="302.0" cy="237.2" rx="2.9" ry="6.5" fill="#8a4526" stroke="#3a1d10" stroke-width="0.3"/>
<rect x="299.6" y="240.4" width="1.3" height="3.6" fill="#5a2a15"/>
<rect x="303.2" y="240.4" width="1.3" height="3.6" fill="#5a2a15"/>
<rect x="299.4" y="227.8" width="5.2" height="5.0" rx="1.2" fill="#f0d020" stroke="#333" stroke-width="0.25"/>
<rect x="299.7" y="232.5" width="4.6" height="2.5" fill="#2e4f8a"/>
<circle cx="302.0" cy="227.1" r="1.4" fill="#5a3a22"/>
<ellipse cx="307.7" cy="147.2" rx="1.6" ry="3.6" fill="#8a4526" stroke="#3a1d10" stroke-width="0.3"/>
<rect x="306.4" y="149.0" width="0.7" height="2.0" fill="#5a2a15"/>
<rect x="308.3" y="149.0" width="0.7" height="2.0" fill="#5a2a15"/>
<rect x="306.3" y="142.0" width="2.9" height="2.8" rx="0.6" fill="#e0d030" stroke="#333" stroke-width="0.25"/>
<rect x="306.4" y="144.6" width="2.6" height="1.4" fill="#2e4f8a"/>
<circle cx="307.7" cy="141.6" r="0.8" fill="#5a3a22"/>
<ellipse cx="253.3" cy="351.8" rx="4.8" ry="10.9" fill="#8a4526" stroke="#3a1d10" stroke-width="0.3"/>
<rect x="249.2" y="357.2" width="2.1" height="6.1" fill="#5a2a15"/>
<rect x="255.2" y="357.2" width="2.1" height="6.1" fill="#5a2a15"/>
<rect x="248.9" y="336.0" width="8.7" height="8.5" rx="1.9" fill="#d070c0" stroke="#333" stroke-width="0.25"/>
<rect x="249.4" y="343.9" width="7.8" height="4.2" fill="#2e4f8a"/>
<circle cx="253.3" cy="334.8" r="2.4" fill="#5a3a22"/>
<ellipse cx="214.8" cy="403.1" rx="4.6" ry="10.4" fill="#8a4526" stroke="#3a1d10" stroke-width="0.3"/>
<rect x="210.9" y="408.2" width="2.0" height="5.8" fill="#5a2a15"/>
<rect x="216.6" y="408.2" width="2.0" height="5.8" fill="#5a2a15"/>
<rect x="210.7" y="388.1" width="8.3" height="8.1" rx="1.8" fill="#e02828" stroke="#333" stroke-width="0.25"/>
<rect x="211.1" y="395.6" width="7.4" height="4.0" fill="#2e4f8a"/>
<circle cx="214.8" cy="386.9" r="2.3" fill="#5a3a22"/>
<ellipse cx="177.2" cy="561.2" rx="7.1" ry="15.9" fill="#8a4526" stroke="#3a1d10" stroke-width="0.3"/>
<rect x="171.3" y="569.2" width="3.1" height="8.8" fill="#5a2a15"/>
<rect x="180.0" y="569.2" width="3.1" height="8.8" fill="#5a2a15"/>
<rect x="170.8" y="538.2" width="12.7" height="12.4" rx="2.8" fill="#f0b020" stroke="#333" stroke-width="0.25"/>
<rect x="171.5" y="549.7" width="11.3" height="6.2" fill="#2e4f8a"/>
<circle cx="177.2" cy="536.5" r="3.5" fill="#5a3a22"/>
<ellipse cx="252.8" cy="175.6" rx="2.8" ry="4.3" transform="rotate(20 252.8 175.1)" fill="#c0392b" stroke="#5a1a10" stroke-width="0.35"/>
<circle cx="253.5" cy="172.8" r="1.2" fill="#e07050"/>
<circle cx="252.2" cy="176.1" r="1.2" fill="#4a3a2a"/>
<ellipse cx="220.3" cy="217.2" rx="3.8" ry="6.4" transform="rotate(20 220.3 216.5)" fill="#c0392b" stroke="#5a1a10" stroke-width="0.35"/>
<circle cx="221.2" cy="213.1" r="1.6" fill="#e07050"/>
<circle cx="219.4" cy="218.0" r="1.6" fill="#4a3a2a"/>
<ellipse cx="221.6" cy="275.7" rx="4.8" ry="8.3" transform="rotate(20 221.6 274.8)" fill="#c0392b" stroke="#5a1a10" stroke-width="0.35"/>
<circle cx="222.7" cy="270.4" r="2.0" fill="#e07050"/>
<circle cx="220.5" cy="276.7" r="2.0" fill="#4a3a2a"/>
<rect x="370.9" y="181.5" width="2.1" height="4.0" fill="#333"/>
<rect x="370.5" y="178.0" width="3.0" height="4.0" rx="0.6" fill="#333" stroke="#333" stroke-width="0.25"/>
<circle cx="372.0" cy="177.0" r="0.9" fill="#3a2a1a"/>
<rect x="376.0" y="234.3" width="1" height="7.7" fill="#222"/>
<rect x="375.0" y="235.7" width="2.9" height="5.6" fill="#2d3a5a"/>
<rect x="374.4" y="230.8" width="4.2" height="5.6" rx="0.8" fill="#e05a30" stroke="#333" stroke-width="0.25"/>
<circle cx="376.5" cy="229.4" r="1.3" fill="#3a2a1a"/>
<rect x="349.1" y="294.9" width="1.9" height="3.6" fill="#556"/>
<rect x="348.6" y="291.8" width="2.7" height="3.6" rx="0.5" fill="#667" stroke="#333" stroke-width="0.25"/>
<circle cx="350.0" cy="290.9" r="0.8" fill="#3a2a1a"/>
<rect x="351.5" y="314.3" width="1" height="7.7" fill="#222"/>
<rect x="350.5" y="315.7" width="2.9" height="5.6" fill="#333"/>
<rect x="349.9" y="310.8" width="4.2" height="5.6" rx="0.8" fill="#e090c0" stroke="#333" stroke-width="0.25"/>
<circle cx="352.0" cy="309.4" r="1.3" fill="#3a2a1a"/>
<rect x="349.3" y="336.1" width="2.3" height="4.4" fill="#ddd"/>
<rect x="348.9" y="332.2" width="3.3" height="4.4" rx="0.7" fill="#8090d0" stroke="#333" stroke-width="0.25"/>
<circle cx="350.5" cy="331.1" r="1.0" fill="#3a2a1a"/>
<rect x="347.6" y="354.1" width="2.7" height="5.2" fill="#333"/>
<rect x="347.1" y="349.6" width="3.9" height="5.2" rx="0.8" fill="#f4f4f4" stroke="#333" stroke-width="0.25"/>
<circle cx="349.0" cy="348.3" r="1.2" fill="#3a2a1a"/>
<rect x="343.3" y="356.9" width="1.5" height="2.8" fill="#223"/>
<rect x="342.9" y="354.4" width="2.1" height="2.8" rx="0.4" fill="#334" stroke="#333" stroke-width="0.25"/>
<circle cx="344.0" cy="353.7" r="0.6" fill="#3a2a1a"/>
<rect x="353.3" y="356.9" width="1.5" height="2.8" fill="#ddd"/>
<rect x="352.9" y="354.4" width="2.1" height="2.8" rx="0.4" fill="#ddd" stroke="#333" stroke-width="0.25"/>
<circle cx="354.0" cy="353.7" r="0.6" fill="#3a2a1a"/>
<rect x="377.5" y="359.9" width="1" height="12.1" fill="#222"/>
<rect x="375.7" y="362.1" width="4.6" height="8.8" fill="#335"/>
<rect x="374.7" y="354.4" width="6.6" height="8.8" rx="1.3" fill="#b0d040" stroke="#333" stroke-width="0.25"/>
<circle cx="378.0" cy="352.2" r="2.0" fill="#3a2a1a"/>
<rect x="357.0" y="392.4" width="4.0" height="7.6" fill="#556"/>
<rect x="356.1" y="385.8" width="5.7" height="7.6" rx="1.1" fill="#c03030" stroke="#333" stroke-width="0.25"/>
<circle cx="359.0" cy="383.9" r="1.7" fill="#3a2a1a"/>
<rect x="356.5" y="456.8" width="1" height="13.2" fill="#222"/>
<rect x="354.5" y="459.2" width="5.0" height="9.6" fill="#335"/>
<rect x="353.4" y="450.8" width="7.2" height="9.6" rx="1.4" fill="#b0d040" stroke="#333" stroke-width="0.25"/>
<circle cx="357.0" cy="448.4" r="2.2" fill="#3a2a1a"/>
<rect x="409.5" y="524.6" width="1" height="20.4" fill="#222"/>
<rect x="407.4" y="528.4" width="5.2" height="14.8" fill="#444"/>
<rect x="406.2" y="515.4" width="7.5" height="14.8" rx="1.5" fill="#f0a0d0" stroke="#333" stroke-width="0.25"/>
<circle cx="410.0" cy="511.7" r="2.2" fill="#3a2a1a"/>
<rect x="366.9" y="544.0" width="5.2" height="12.4" fill="#2a3a5a"/>
<rect x="365.8" y="533.2" width="7.5" height="12.4" rx="1.5" fill="#e0e0e0" stroke="#333" stroke-width="0.25"/>
<circle cx="369.5" cy="530.1" r="2.2" fill="#3a2a1a"/>
<rect x="485" y="268" width="13" height="8" rx="1.5" fill="#3aa040" stroke="#1a4a1a" stroke-width="0.4"/><circle cx="486" cy="277.5" r="2" fill="#333"/><circle cx="497" cy="277.5" r="2" fill="#333"/><rect x="483" y="263" width="4" height="6" fill="#3a5aa0"/><circle cx="485" cy="262.5" r="1.3" fill="#7a5a3a"/>
<rect x="89.5" y="91.8" width="178.2" height="82" fill="#ffffff" fill-opacity="0.40"/>
<g fill="#1e1e1e" stroke="#1e1e1e" stroke-width="0.25" font-weight="bold" font-size="8.9" font-family="Liberation Sans, sans-serif">
<text x="89.8" y="99.4" textLength="170.3" lengthAdjust="spacingAndGlyphs">A <tspan font-style="italic" text-decoration="underline">Non-Vehicular</tspan> Off-Street Corridor does</text>
<text x="89.8" y="110.4" textLength="162.7" lengthAdjust="spacingAndGlyphs">not accommodate transit, is oftentimes</text>
<text x="89.8" y="119.9" textLength="168.6" lengthAdjust="spacingAndGlyphs">found in more natural environments, and</text>
<text x="89.8" y="130.3" textLength="176.6" lengthAdjust="spacingAndGlyphs">can feature a multi-use path with a parallel</text>
<text x="89.8" y="140.8" textLength="171.2" lengthAdjust="spacingAndGlyphs">facility for other transportation modes or</text>
<text x="89.8" y="151.3" textLength="177.1" lengthAdjust="spacingAndGlyphs">recreation opportunities, e.g. horses, boats,</text>
<text x="89.8" y="161.5" textLength="154.2" lengthAdjust="spacingAndGlyphs">and other non-motorized modes, etc.</text>
</g>
<rect x="438.2" y="188.8" width="99" height="46.5" fill="#ffffff" fill-opacity="0.30"/>
<g fill="#2a2a2a" font-size="8.2" font-family="Liberation Sans, sans-serif">
<text x="438.5" y="196.8" textLength="63.8" lengthAdjust="spacingAndGlyphs">Multi-use path for</text>
<text x="438.5" y="207.2" textLength="95.4" lengthAdjust="spacingAndGlyphs">pedestrian and bicycle use;</text>
<text x="438.5" y="217.2" textLength="96.2" lengthAdjust="spacingAndGlyphs">provides regional and area-</text>
<text x="438.5" y="227.8" textLength="62.5" lengthAdjust="spacingAndGlyphs">wide connectivity</text>
</g>
<line x1="368.8" y1="212.5" x2="433.7" y2="212.5" stroke="#222" stroke-width="0.7"/><circle cx="368.8" cy="212" r="1.9" fill="#111"/>
<rect x="89.5" y="285" width="100.9" height="46.7" fill="#ffffff" fill-opacity="0.30"/>
<g fill="#2a2a2a" font-size="8.2" font-family="Liberation Sans, sans-serif">
<text x="91.8" y="293.5" textLength="91.5" lengthAdjust="spacingAndGlyphs">Parallel facilities for other</text>
<text x="91.8" y="303.5" textLength="92.2" lengthAdjust="spacingAndGlyphs">transportation modes e.g.</text>
<text x="91.8" y="314.2" textLength="89.4" lengthAdjust="spacingAndGlyphs">boats, horses, etc., where</text>
<text x="91.8" y="324.9" textLength="40.9" lengthAdjust="spacingAndGlyphs">appropriate</text>
</g>
<polyline points="202.1,318.5 174.5,318.5 226.4,381" fill="none" stroke="#222" stroke-width="0.7"/><circle cx="202.1" cy="318.4" r="1.9" fill="#111"/><circle cx="226.4" cy="381" r="1.9" fill="#111"/>
<rect x="437.5" y="424" width="78.9" height="23.3" fill="#ffffff" fill-opacity="0.30"/>
<g fill="#2a2a2a" font-size="8.2" font-family="Liberation Sans, sans-serif">
<text x="438.5" y="432.3" textLength="55.1" lengthAdjust="spacingAndGlyphs">Accommodates</text>
<text x="438.5" y="443" textLength="74.1" lengthAdjust="spacingAndGlyphs">underground utilities</text>
</g>
<line x1="368.7" y1="435.5" x2="433.7" y2="435.5" stroke="#222" stroke-width="0.7"/><circle cx="368.7" cy="435.2" r="1.9" fill="#111"/>
</g></g>
<!--ILLUS_END-->

<!-- MODAL GRID -->
<g id="grid">
<defs><linearGradient id="wg" x1="0" x2="1" y1="0" y2="0"><stop offset="0" stop-color="#111"/><stop offset="0.35" stop-color="#777"/><stop offset="1" stop-color="#aaa"/></linearGradient></defs>
<rect x="89.5" y="587.3" width="160" height="65.1" fill="#fff"/>
<path d="M90.8,608.6 L247.7,613.8 L90.8,618.6 Z" fill="url(#wg)"/>
<rect x="89.8" y="619" width="31.5" height="33" fill="#8dc63f"/>
<rect x="121.3" y="619" width="31.5" height="33" fill="#d8262f"/>
<rect x="152.8" y="618.8" width="33" height="33.2" fill="#7d5a46"/>
<rect x="185.8" y="619.2" width="32.4" height="32" fill="#7f56a8"/>
<g fill="none" stroke="#8a8a8a" stroke-width="0.9">
<rect x="89.5" y="587.3" width="160" height="65.1"/>
<line x1="89.5" y1="607" x2="249.5" y2="607"/>
<line x1="89.5" y1="619.6" x2="249.5" y2="619.6"/>
<line x1="121.3" y1="587.3" x2="121.3" y2="619"/>
<line x1="152.7" y1="587.3" x2="152.7" y2="619"/>
<line x1="185.7" y1="587.3" x2="185.7" y2="619"/>
<line x1="218.2" y1="587.3" x2="218.2" y2="652.4"/>
</g>
<g font-size="13.2" fill="#1a1a1a" text-anchor="middle">
<text x="105.6" y="602.4">1</text><text x="137.2" y="602.4">2</text><text x="169.3" y="602.4">3</text><text x="202" y="602.4">4</text><text x="233.8" y="602.4">5</text>
</g>
<!-- walker -->
<g fill="#fff" stroke="#fff" stroke-linecap="round" stroke-linejoin="round">
<circle cx="107.1" cy="622.5" r="2.9" stroke="none"/>
<path d="M103.6,626 L109.6,626 L108.6,637.5 L104.2,637.5 Z" stroke-width="0.6"/>
<path d="M104.6,628 L99.2,633.8 L97.2,637.2" stroke-width="2" fill="none"/>
<path d="M108.8,628.5 L111.5,633 L114.6,634.2" stroke-width="1.6" fill="none"/>
<path d="M105,637 L100.2,650.6" stroke-width="2.8" fill="none"/>
<path d="M107.6,637 L110.6,650.6" stroke-width="2.8" fill="none"/>
</g>
<!-- cyclist -->
<g fill="none" stroke="#fff" stroke-linecap="round" stroke-linejoin="round">
<circle cx="139.6" cy="622.2" r="2.8" fill="#fff" stroke="none"/>
<path d="M136.2,626.2 L131.6,632.6" stroke-width="3.6"/>
<path d="M137,627.6 L140.8,631.4 L143.8,631.2" stroke-width="1.6"/>
<path d="M131.8,633 L136.4,636.2 L137.2,645" stroke-width="2.4"/>
<circle cx="128.3" cy="642.8" r="5.9" stroke-width="1"/>
<circle cx="145.7" cy="642.8" r="5.9" stroke-width="1"/>
</g>
<!-- horse -->
<g fill="#fff" stroke="none">
<circle cx="166.5" cy="620.6" r="1.8"/>
<path d="M165.2,623 L167.6,623 L168,628.4 L170.8,630 L170.4,631.2 L167.6,630.4 L167.6,632.4 L165.2,632.4 Z"/>
<path d="M156,633.2 Q157,630.4 162,630.8 L167,631.6 L172,629.6 L177.6,626.2 L179.8,625.4 L183,631.2 L182,632.6 L179,630.8 L176,634.2 L175,641 L176,649.7 L174.5,649.7 L172.5,642.4 L170.6,649.7 L169,649.7 L169,641 L162.2,640.6 L161.2,649.7 L159.6,649.7 L158.6,642.4 L157.6,649.2 L156.2,649.2 L156.3,640.4 Q155,637 156,633.2 Z"/>
</g>
<!-- picnic -->
<g fill="#fff" stroke="#fff" stroke-linecap="round">
<path d="M203,622.6 L215.8,629.2 L215.8,630.4 L190.5,630.4 L190.5,629.2 Z" stroke="none"/>
<line x1="203" y1="630" x2="203" y2="646" stroke-width="1.3"/>
<line x1="195.8" y1="638.2" x2="210.8" y2="638.2" stroke-width="1.1"/>
<line x1="200.6" y1="646" x2="205.4" y2="646" stroke-width="1.1"/>
<path d="M190.2,636 L191.4,645.6 M191.2,641.2 L195.8,641.2 L195.8,645.6" stroke-width="1.2" fill="none"/>
<path d="M215.6,636 L214.4,645.6 M214.6,641.2 L210.2,641.2 L210.2,645.6" stroke-width="1.2" fill="none"/>
</g>
</g>

<!-- LEFT PARAGRAPH -->
<g class="rg" font-size="8.6">
<text x="283.5" y="594.1" textLength="253.3" lengthAdjust="spacingAndGlyphs">An Off-Street Corridor is a transportation route that is not associated</text>
<text x="270.2" y="604.4" textLength="266.6" lengthAdjust="spacingAndGlyphs">with an active street right-of-way.  It may be along an active or former (but</text>
<text x="271" y="615" textLength="265.8" lengthAdjust="spacingAndGlyphs">not abandoned) rail or utility line, platted but not utilized street, waterway,</text>
<text x="281.8" y="625.6" textLength="255" lengthAdjust="spacingAndGlyphs">or other natural feature to provide regional and area-wide connectivity.</text>
<text x="290.6" y="636" textLength="246.2" lengthAdjust="spacingAndGlyphs">The corridor is not accessible to automobiles except emergency and</text>
<text x="285.6" y="646.6" textLength="251.2" lengthAdjust="spacingAndGlyphs">maintenance vehicles.  It may also accommodate underground utilities.</text>
</g>
<text class="hv" x="495.6" y="664.9" font-size="11.3" textLength="41.2" lengthAdjust="spacingAndGlyphs">T.10a</text>
<text class="hv" x="338" y="680.6" font-size="13" textLength="199.4" lengthAdjust="spacingAndGlyphs" style="stroke-width:1.1">MM OFF-STREETCORRIDOR</text>

<!-- LEFT FOOTER -->
<text x="89.4" y="673.1" font-size="8.3" fill="#444" textLength="168.4" lengthAdjust="spacingAndGlyphs">NON-VEHICULAR OFF-STREET CORRIDOR</text>
<text x="89.4" y="683.7" font-size="8.3" fill="#444" textLength="80.3" lengthAdjust="spacingAndGlyphs">MODAL HIERARCHY</text>
<rect x="87.7" y="686.8" width="449.8" height="1.1" fill="#222"/>
<text x="88" y="693" font-size="6.8" fill="#333" textLength="41" lengthAdjust="spacingAndGlyphs">SECTION II.</text>
<text x="461.2" y="694" font-size="7.3" fill="#333" textLength="76.5" lengthAdjust="spacingAndGlyphs">MM OFF-STREET - 113</text>

<!-- RIGHT FOOTER -->
<rect x="601" y="686.8" width="450" height="1.1" fill="#222"/>
<text x="605.3" y="694.4" font-size="7.3" fill="#333" textLength="76.7" lengthAdjust="spacingAndGlyphs">MM OFF-STREET - 114</text>
<text x="1010.6" y="692.9" font-size="6.5" fill="#333" textLength="41" lengthAdjust="spacingAndGlyphs">SECTION II.</text>

<!-- CAPTION -->
<text x="601" y="329.4" font-size="7.6" font-style="italic" fill="#333" textLength="390.7" lengthAdjust="spacingAndGlyphs">Figure 114.1 Cross Section of Multi-Modal Off-Street Corridor.  Includes recommended widths of component zones.</text>

<!-- RIGHT BODY -->
<g class="rg" font-size="8.4">
<text x="601" y="371.8">7.2</text>
<text x="633.3" y="371.8" textLength="187" lengthAdjust="spacing">As many and as large a tree corridor as can be</text>
<text x="633.3" y="382.6" textLength="187" lengthAdjust="spacing">accommodated is suggested to furnish critical</text>
<text x="633.3" y="393.2" textLength="187" lengthAdjust="spacing">green infrastructure for the area, provided they do</text>
<text x="633.3" y="403.8" textLength="127.9" lengthAdjust="spacing">not inhibit visibility of the corridor.</text>
<text x="601" y="420.2">8.0</text>
<text class="bd" x="633.3" y="420.2" textLength="152.5" lengthAdjust="spacingAndGlyphs">TRADITIONAL THOROUGHFARE</text>
<text class="bd" x="633.3" y="431.3" textLength="80.3" lengthAdjust="spacingAndGlyphs">CLASSIFICATION</text>
<text x="601" y="445.8">8.1</text>
<text x="633.3" y="445.8">Not applicable</text>
<text class="bd" x="601" y="462.9">9.0</text>
<text class="bd" x="633.3" y="462.9" textLength="140.1" lengthAdjust="spacingAndGlyphs">SPECIAL DESIGN GUIDELINES</text>
<text x="633.3" y="480" textLength="174.9" lengthAdjust="spacing">Follow the general design guidelines on page 61.</text>
</g>

<!-- DIAGRAM -->

<g id="diagram" fill="none" stroke="#2b2b2b" stroke-linecap="butt">
  <!-- corridor R/W verticals -->
  <line x1="700.5" y1="99" x2="700.5" y2="249" stroke-width="1.1" stroke-dasharray="11 1.6 1.6 1.6"/>
  <line x1="941.2" y1="99" x2="941.2" y2="249" stroke-width="1.1" stroke-dasharray="11 1.6 1.6 1.6"/>
  <line x1="700.5" y1="254.9" x2="700.5" y2="273.6" stroke-width="1.2"/>
  <line x1="700.5" y1="276.3" x2="700.5" y2="299.4" stroke-width="1.2"/>
  <line x1="941.2" y1="253.9" x2="941.2" y2="273.6" stroke-width="1.2"/>
  <line x1="941.2" y1="276.3" x2="941.2" y2="298.4" stroke-width="1.2"/>
  <!-- dimension lines -->
  <line x1="700" y1="271.1" x2="941.5" y2="271.1" stroke-width="1.2" stroke="#444"/>
  <line x1="700" y1="296.6" x2="941.5" y2="296.6" stroke-width="1.2" stroke="#444"/>
  <line x1="726.7" y1="262.9" x2="726.7" y2="273.6" stroke-width="1.4"/>
  <line x1="780.8" y1="262.9" x2="780.8" y2="273.6" stroke-width="1.4"/>
  <line x1="856.5" y1="250" x2="856.5" y2="273" stroke-width="1.2"/>
  <line x1="916.5" y1="253" x2="916.5" y2="273" stroke-width="1.2"/>
  <!-- dashed verticals near transit -->
  <line x1="856.4" y1="191" x2="856.4" y2="237.6" stroke-width="1.3" stroke-dasharray="2.6 1.3"/>
  <line x1="916.6" y1="194.5" x2="916.6" y2="237.6" stroke-width="1.3" stroke-dasharray="2.6 1.3"/>
  <!-- ground -->
  <path d="M696,249.2 L722,246.5 C740,246 770,246 784,244 C792,243.2 800,246.5 808,251.5 C814,253 826,252.5 836,250.5 C845,248.5 850,243 860,239.6 C870,238.3 892,238 902,239.5 C910,241.5 918,248 928.6,249.2 L941,249.2" stroke-width="1.3"/>
  <!-- path slab -->
  <path d="M720,246.8 C724,245.2 728,245.6 732,245.6 L776,245.6 C780,245.6 784,246.5 787,248.5" stroke-width="2.2"/>
  <rect x="727.3" y="246.5" width="6.8" height="7.3" stroke-width="1.1"/>
  <rect x="774.4" y="246.5" width="6.8" height="7.3" stroke-width="1.1"/>
  <!-- dashed clearance rect -->
  <path d="M727.1,239.5 L727.1,211.4 L781.4,211.4 L781.4,240.9" stroke-width="1.3" stroke-dasharray="2.6 1.5"/>
  <line x1="753.5" y1="218.7" x2="753.5" y2="255" stroke-width="0.9" stroke="#777" stroke-dasharray="5 1.2 1.2 1.2"/>
  <!-- SH leaders -->
  <path d="M719.4,261.4 L728.7,261.4 L730.6,254" stroke-width="0.8"/>
  <path d="M788.7,261.4 L779.5,261.4 L777.5,254" stroke-width="0.8"/>
  <!-- utility box -->
  <rect x="743.5" y="256" width="21" height="6" rx="1.2" stroke-width="1.5" stroke="#111"/>
  <!-- tree trunk & sign -->
  <line x1="714.5" y1="200" x2="714.5" y2="247" stroke="#555" stroke-width="1.8"/>
  <path d="M715.4,220.4 L720.6,225.6 L715.4,230.8 L710.2,225.6 Z" fill="#fff" stroke="#222" stroke-width="1.4"/><rect x="713.6" y="223.8" width="3.6" height="3.6" rx="1" fill="none" stroke="#222" stroke-width="0.6"/>
  <!-- right sign & pole -->
  <line x1="793.5" y1="226.5" x2="793.5" y2="244.5" stroke="#666" stroke-width="2.3"/>
  <path d="M791.3,217.4 L795.7,217.4 L798.6,220.4 L798.6,223.6 L795.7,226.6 L791.3,226.6 L788.4,223.6 L788.4,220.4 Z" fill="#fff" stroke="#222" stroke-width="1.3"/>
  <line x1="802" y1="218" x2="802" y2="247.5" stroke="#333" stroke-width="1.7"/>

  <!-- tree canopy -->
<!--DTREE_START-->
<g stroke="#676767" stroke-linecap="round" fill="none">
<line x1="714.5" y1="247.0" x2="714.0" y2="200.0" stroke-width="1.98"/>
<line x1="714.0" y1="200.0" x2="713.6" y2="170.0" stroke-width="1.32"/>
<line x1="714.0" y1="212.0" x2="708.7" y2="205.9" stroke-width="0.99"/>
<line x1="708.7" y1="205.9" x2="706.5" y2="201.8" stroke-width="0.69"/>
<line x1="706.5" y1="201.8" x2="705.2" y2="199.1" stroke-width="0.55"/>
<line x1="705.2" y1="199.1" x2="703.4" y2="198.2" stroke-width="0.55"/>
<line x1="705.2" y1="199.1" x2="703.7" y2="198.1" stroke-width="0.55"/>
<line x1="706.5" y1="201.8" x2="706.5" y2="198.9" stroke-width="0.55"/>
<line x1="706.5" y1="198.9" x2="705.7" y2="197.5" stroke-width="0.55"/>
<line x1="706.5" y1="198.9" x2="706.6" y2="197.3" stroke-width="0.55"/>
<line x1="708.7" y1="205.9" x2="705.1" y2="202.2" stroke-width="0.69"/>
<line x1="705.1" y1="202.2" x2="703.8" y2="198.8" stroke-width="0.55"/>
<line x1="703.8" y1="198.8" x2="702.1" y2="196.9" stroke-width="0.55"/>
<line x1="703.8" y1="198.8" x2="702.6" y2="196.4" stroke-width="0.55"/>
<line x1="705.1" y1="202.2" x2="704.3" y2="199.1" stroke-width="0.55"/>
<line x1="704.3" y1="199.1" x2="704.4" y2="196.9" stroke-width="0.55"/>
<line x1="704.3" y1="199.1" x2="702.6" y2="197.6" stroke-width="0.55"/>
<line x1="714.0" y1="212.0" x2="719.1" y2="203.9" stroke-width="0.99"/>
<line x1="719.1" y1="203.9" x2="719.6" y2="198.4" stroke-width="0.69"/>
<line x1="719.6" y1="198.4" x2="717.6" y2="194.8" stroke-width="0.55"/>
<line x1="717.6" y1="194.8" x2="715.4" y2="193.5" stroke-width="0.55"/>
<line x1="717.6" y1="194.8" x2="717.4" y2="191.6" stroke-width="0.55"/>
<line x1="719.6" y1="198.4" x2="718.5" y2="195.2" stroke-width="0.55"/>
<line x1="718.5" y1="195.2" x2="716.9" y2="193.5" stroke-width="0.55"/>
<line x1="718.5" y1="195.2" x2="719.1" y2="192.8" stroke-width="0.55"/>
<line x1="719.1" y1="203.9" x2="725.5" y2="200.5" stroke-width="0.69"/>
<line x1="725.5" y1="200.5" x2="729.2" y2="197.8" stroke-width="0.55"/>
<line x1="729.2" y1="197.8" x2="730.4" y2="194.7" stroke-width="0.55"/>
<line x1="729.2" y1="197.8" x2="729.9" y2="195.1" stroke-width="0.55"/>
<line x1="725.5" y1="200.5" x2="728.5" y2="197.1" stroke-width="0.55"/>
<line x1="728.5" y1="197.1" x2="729.9" y2="194.9" stroke-width="0.55"/>
<line x1="728.5" y1="197.1" x2="729.9" y2="194.7" stroke-width="0.55"/>
<line x1="714.0" y1="207.0" x2="708.5" y2="201.9" stroke-width="0.99"/>
<line x1="708.5" y1="201.9" x2="704.3" y2="197.6" stroke-width="0.69"/>
<line x1="704.3" y1="197.6" x2="703.1" y2="193.4" stroke-width="0.55"/>
<line x1="703.1" y1="193.4" x2="701.5" y2="191.2" stroke-width="0.55"/>
<line x1="703.1" y1="193.4" x2="703.6" y2="190.0" stroke-width="0.55"/>
<line x1="704.3" y1="197.6" x2="701.5" y2="195.8" stroke-width="0.55"/>
<line x1="701.5" y1="195.8" x2="699.4" y2="195.9" stroke-width="0.55"/>
<line x1="701.5" y1="195.8" x2="700.7" y2="193.8" stroke-width="0.55"/>
<line x1="708.5" y1="201.9" x2="706.8" y2="197.1" stroke-width="0.69"/>
<line x1="706.8" y1="197.1" x2="706.3" y2="193.4" stroke-width="0.55"/>
<line x1="706.3" y1="193.4" x2="704.5" y2="191.3" stroke-width="0.55"/>
<line x1="706.3" y1="193.4" x2="705.3" y2="190.7" stroke-width="0.55"/>
<line x1="706.8" y1="197.1" x2="704.5" y2="195.2" stroke-width="0.55"/>
<line x1="704.5" y1="195.2" x2="703.8" y2="193.1" stroke-width="0.55"/>
<line x1="704.5" y1="195.2" x2="702.9" y2="194.9" stroke-width="0.55"/>
<line x1="714.0" y1="207.0" x2="720.9" y2="202.2" stroke-width="0.99"/>
<line x1="720.9" y1="202.2" x2="723.9" y2="197.9" stroke-width="0.69"/>
<line x1="723.9" y1="197.9" x2="724.8" y2="194.4" stroke-width="0.55"/>
<line x1="724.8" y1="194.4" x2="724.6" y2="192.0" stroke-width="0.55"/>
<line x1="724.8" y1="194.4" x2="725.2" y2="191.6" stroke-width="0.55"/>
<line x1="723.9" y1="197.9" x2="723.6" y2="194.0" stroke-width="0.55"/>
<line x1="723.6" y1="194.0" x2="722.3" y2="191.8" stroke-width="0.55"/>
<line x1="723.6" y1="194.0" x2="722.0" y2="191.8" stroke-width="0.55"/>
<line x1="720.9" y1="202.2" x2="726.5" y2="202.0" stroke-width="0.69"/>
<line x1="726.5" y1="202.0" x2="730.2" y2="202.5" stroke-width="0.55"/>
<line x1="730.2" y1="202.5" x2="732.9" y2="202.9" stroke-width="0.55"/>
<line x1="730.2" y1="202.5" x2="731.9" y2="204.1" stroke-width="0.55"/>
<line x1="726.5" y1="202.0" x2="729.2" y2="200.0" stroke-width="0.55"/>
<line x1="729.2" y1="200.0" x2="730.0" y2="197.7" stroke-width="0.55"/>
<line x1="729.2" y1="200.0" x2="731.9" y2="199.8" stroke-width="0.55"/>
<line x1="714.0" y1="202.0" x2="708.4" y2="194.4" stroke-width="0.99"/>
<line x1="708.4" y1="194.4" x2="705.0" y2="189.5" stroke-width="0.69"/>
<line x1="705.0" y1="189.5" x2="701.8" y2="187.5" stroke-width="0.55"/>
<line x1="701.8" y1="187.5" x2="700.4" y2="186.0" stroke-width="0.55"/>
<line x1="701.8" y1="187.5" x2="698.8" y2="187.7" stroke-width="0.55"/>
<line x1="705.0" y1="189.5" x2="702.2" y2="187.4" stroke-width="0.55"/>
<line x1="702.2" y1="187.4" x2="699.9" y2="186.0" stroke-width="0.55"/>
<line x1="702.2" y1="187.4" x2="700.2" y2="187.2" stroke-width="0.55"/>
<line x1="708.4" y1="194.4" x2="701.7" y2="191.8" stroke-width="0.69"/>
<line x1="701.7" y1="191.8" x2="696.3" y2="193.2" stroke-width="0.55"/>
<line x1="696.3" y1="193.2" x2="693.0" y2="194.3" stroke-width="0.55"/>
<line x1="696.3" y1="193.2" x2="694.0" y2="195.5" stroke-width="0.55"/>
<line x1="701.7" y1="191.8" x2="697.6" y2="190.3" stroke-width="0.55"/>
<line x1="697.6" y1="190.3" x2="695.3" y2="190.0" stroke-width="0.55"/>
<line x1="697.6" y1="190.3" x2="696.2" y2="188.3" stroke-width="0.55"/>
<line x1="714.0" y1="202.0" x2="723.4" y2="194.5" stroke-width="0.99"/>
<line x1="723.4" y1="194.5" x2="729.1" y2="187.3" stroke-width="0.69"/>
<line x1="729.1" y1="187.3" x2="734.4" y2="183.6" stroke-width="0.55"/>
<line x1="734.4" y1="183.6" x2="734.8" y2="183.3" stroke-width="0.55"/>
<line x1="734.4" y1="183.6" x2="734.6" y2="183.1" stroke-width="0.55"/>
<line x1="729.1" y1="187.3" x2="730.3" y2="181.4" stroke-width="0.55"/>
<line x1="730.3" y1="181.4" x2="729.6" y2="176.7" stroke-width="0.55"/>
<line x1="730.3" y1="181.4" x2="728.4" y2="178.0" stroke-width="0.55"/>
<line x1="723.4" y1="194.5" x2="725.8" y2="187.0" stroke-width="0.69"/>
<line x1="725.8" y1="187.0" x2="724.5" y2="182.9" stroke-width="0.55"/>
<line x1="724.5" y1="182.9" x2="723.0" y2="180.7" stroke-width="0.55"/>
<line x1="724.5" y1="182.9" x2="723.2" y2="180.5" stroke-width="0.55"/>
<line x1="725.8" y1="187.0" x2="730.1" y2="183.4" stroke-width="0.55"/>
<line x1="730.1" y1="183.4" x2="733.9" y2="181.9" stroke-width="0.55"/>
<line x1="730.1" y1="183.4" x2="733.6" y2="181.1" stroke-width="0.55"/>
<line x1="714.0" y1="197.0" x2="707.6" y2="187.6" stroke-width="0.99"/>
<line x1="707.6" y1="187.6" x2="703.6" y2="180.7" stroke-width="0.69"/>
<line x1="703.6" y1="180.7" x2="701.6" y2="175.2" stroke-width="0.55"/>
<line x1="701.6" y1="175.2" x2="700.5" y2="172.3" stroke-width="0.55"/>
<line x1="701.6" y1="175.2" x2="701.6" y2="171.7" stroke-width="0.55"/>
<line x1="703.6" y1="180.7" x2="701.0" y2="176.2" stroke-width="0.55"/>
<line x1="701.0" y1="176.2" x2="699.0" y2="173.0" stroke-width="0.55"/>
<line x1="701.0" y1="176.2" x2="700.4" y2="173.0" stroke-width="0.55"/>
<line x1="707.6" y1="187.6" x2="705.1" y2="181.0" stroke-width="0.69"/>
<line x1="705.1" y1="181.0" x2="703.6" y2="176.6" stroke-width="0.55"/>
<line x1="703.6" y1="176.6" x2="702.5" y2="174.0" stroke-width="0.55"/>
<line x1="703.6" y1="176.6" x2="704.0" y2="172.9" stroke-width="0.55"/>
<line x1="705.1" y1="181.0" x2="701.5" y2="177.9" stroke-width="0.55"/>
<line x1="701.5" y1="177.9" x2="700.8" y2="175.1" stroke-width="0.55"/>
<line x1="701.5" y1="177.9" x2="699.4" y2="176.2" stroke-width="0.55"/>
<line x1="714.0" y1="197.0" x2="721.4" y2="188.4" stroke-width="0.99"/>
<line x1="721.4" y1="188.4" x2="721.5" y2="180.0" stroke-width="0.69"/>
<line x1="721.5" y1="180.0" x2="723.8" y2="175.7" stroke-width="0.55"/>
<line x1="723.8" y1="175.7" x2="726.9" y2="174.0" stroke-width="0.55"/>
<line x1="723.8" y1="175.7" x2="724.7" y2="172.6" stroke-width="0.55"/>
<line x1="721.5" y1="180.0" x2="719.8" y2="175.1" stroke-width="0.55"/>
<line x1="719.8" y1="175.1" x2="718.8" y2="172.2" stroke-width="0.55"/>
<line x1="719.8" y1="175.1" x2="720.7" y2="171.7" stroke-width="0.55"/>
<line x1="721.4" y1="188.4" x2="723.9" y2="182.5" stroke-width="0.69"/>
<line x1="723.9" y1="182.5" x2="727.1" y2="180.5" stroke-width="0.55"/>
<line x1="727.1" y1="180.5" x2="729.0" y2="179.2" stroke-width="0.55"/>
<line x1="727.1" y1="180.5" x2="729.2" y2="179.4" stroke-width="0.55"/>
<line x1="723.9" y1="182.5" x2="728.2" y2="179.6" stroke-width="0.55"/>
<line x1="728.2" y1="179.6" x2="730.5" y2="177.8" stroke-width="0.55"/>
<line x1="728.2" y1="179.6" x2="731.6" y2="177.8" stroke-width="0.55"/>
<line x1="714.0" y1="192.0" x2="709.2" y2="184.7" stroke-width="0.99"/>
<line x1="709.2" y1="184.7" x2="709.6" y2="179.7" stroke-width="0.69"/>
<line x1="709.6" y1="179.7" x2="709.9" y2="176.1" stroke-width="0.55"/>
<line x1="709.9" y1="176.1" x2="711.1" y2="174.3" stroke-width="0.55"/>
<line x1="709.9" y1="176.1" x2="711.0" y2="174.4" stroke-width="0.55"/>
<line x1="709.6" y1="179.7" x2="709.3" y2="175.7" stroke-width="0.55"/>
<line x1="709.3" y1="175.7" x2="710.4" y2="172.9" stroke-width="0.55"/>
<line x1="709.3" y1="175.7" x2="710.8" y2="173.2" stroke-width="0.55"/>
<line x1="709.2" y1="184.7" x2="703.7" y2="180.8" stroke-width="0.69"/>
<line x1="703.7" y1="180.8" x2="700.8" y2="177.7" stroke-width="0.55"/>
<line x1="700.8" y1="177.7" x2="698.3" y2="176.9" stroke-width="0.55"/>
<line x1="700.8" y1="177.7" x2="698.7" y2="176.1" stroke-width="0.55"/>
<line x1="703.7" y1="180.8" x2="701.8" y2="176.6" stroke-width="0.55"/>
<line x1="701.8" y1="176.6" x2="699.8" y2="174.7" stroke-width="0.55"/>
<line x1="701.8" y1="176.6" x2="700.4" y2="174.2" stroke-width="0.55"/>
<line x1="714.0" y1="192.0" x2="720.5" y2="186.8" stroke-width="0.99"/>
<line x1="720.5" y1="186.8" x2="726.4" y2="185.2" stroke-width="0.69"/>
<line x1="726.4" y1="185.2" x2="730.0" y2="184.2" stroke-width="0.55"/>
<line x1="730.0" y1="184.2" x2="732.1" y2="185.1" stroke-width="0.55"/>
<line x1="730.0" y1="184.2" x2="732.1" y2="183.6" stroke-width="0.55"/>
<line x1="726.4" y1="185.2" x2="730.2" y2="182.2" stroke-width="0.55"/>
<line x1="730.2" y1="182.2" x2="731.3" y2="179.6" stroke-width="0.55"/>
<line x1="730.2" y1="182.2" x2="733.3" y2="182.0" stroke-width="0.55"/>
<line x1="720.5" y1="186.8" x2="724.0" y2="182.8" stroke-width="0.69"/>
<line x1="724.0" y1="182.8" x2="724.7" y2="179.9" stroke-width="0.55"/>
<line x1="724.7" y1="179.9" x2="724.6" y2="178.1" stroke-width="0.55"/>
<line x1="724.7" y1="179.9" x2="725.9" y2="178.5" stroke-width="0.55"/>
<line x1="724.0" y1="182.8" x2="726.8" y2="181.9" stroke-width="0.55"/>
<line x1="726.8" y1="181.9" x2="728.8" y2="181.0" stroke-width="0.55"/>
<line x1="726.8" y1="181.9" x2="729.0" y2="182.0" stroke-width="0.55"/>
<line x1="714.0" y1="187.0" x2="708.3" y2="180.4" stroke-width="0.99"/>
<line x1="708.3" y1="180.4" x2="702.0" y2="179.3" stroke-width="0.69"/>
<line x1="702.0" y1="179.3" x2="698.7" y2="176.2" stroke-width="0.55"/>
<line x1="698.7" y1="176.2" x2="698.2" y2="173.7" stroke-width="0.55"/>
<line x1="698.7" y1="176.2" x2="696.9" y2="174.9" stroke-width="0.55"/>
<line x1="702.0" y1="179.3" x2="698.1" y2="178.0" stroke-width="0.55"/>
<line x1="698.1" y1="178.0" x2="695.5" y2="177.9" stroke-width="0.55"/>
<line x1="698.1" y1="178.0" x2="695.5" y2="179.0" stroke-width="0.55"/>
<line x1="708.3" y1="180.4" x2="702.7" y2="178.7" stroke-width="0.69"/>
<line x1="702.7" y1="178.7" x2="699.5" y2="176.5" stroke-width="0.55"/>
<line x1="699.5" y1="176.5" x2="697.0" y2="175.9" stroke-width="0.55"/>
<line x1="699.5" y1="176.5" x2="698.3" y2="174.4" stroke-width="0.55"/>
<line x1="702.7" y1="178.7" x2="698.3" y2="179.5" stroke-width="0.55"/>
<line x1="698.3" y1="179.5" x2="695.4" y2="179.7" stroke-width="0.55"/>
<line x1="698.3" y1="179.5" x2="696.0" y2="178.3" stroke-width="0.55"/>
<line x1="714.0" y1="187.0" x2="718.8" y2="180.2" stroke-width="0.99"/>
<line x1="718.8" y1="180.2" x2="724.3" y2="178.5" stroke-width="0.69"/>
<line x1="724.3" y1="178.5" x2="727.8" y2="179.6" stroke-width="0.55"/>
<line x1="727.8" y1="179.6" x2="729.5" y2="181.4" stroke-width="0.55"/>
<line x1="727.8" y1="179.6" x2="730.2" y2="179.4" stroke-width="0.55"/>
<line x1="724.3" y1="178.5" x2="726.3" y2="175.4" stroke-width="0.55"/>
<line x1="726.3" y1="175.4" x2="727.9" y2="174.0" stroke-width="0.55"/>
<line x1="726.3" y1="175.4" x2="727.4" y2="173.2" stroke-width="0.55"/>
<line x1="718.8" y1="180.2" x2="720.9" y2="174.0" stroke-width="0.69"/>
<line x1="720.9" y1="174.0" x2="721.3" y2="169.5" stroke-width="0.55"/>
<line x1="721.3" y1="169.5" x2="720.9" y2="166.6" stroke-width="0.55"/>
<line x1="721.3" y1="169.5" x2="719.3" y2="166.6" stroke-width="0.55"/>
<line x1="720.9" y1="174.0" x2="719.4" y2="169.8" stroke-width="0.55"/>
<line x1="719.4" y1="169.8" x2="718.9" y2="166.3" stroke-width="0.55"/>
<line x1="719.4" y1="169.8" x2="718.4" y2="166.4" stroke-width="0.55"/>
<line x1="714.0" y1="182.0" x2="703.8" y2="175.7" stroke-width="0.99"/>
<line x1="703.8" y1="175.7" x2="697.9" y2="172.3" stroke-width="0.69"/>
<line x1="697.9" y1="172.3" x2="697.7" y2="171.9" stroke-width="0.55"/>
<line x1="697.9" y1="172.3" x2="697.6" y2="172.0" stroke-width="0.55"/>
<line x1="703.8" y1="175.7" x2="698.4" y2="174.9" stroke-width="0.69"/>
<line x1="698.4" y1="174.9" x2="696.7" y2="174.6" stroke-width="0.55"/>
<line x1="696.7" y1="174.6" x2="696.5" y2="174.5" stroke-width="0.55"/>
<line x1="698.4" y1="174.9" x2="696.6" y2="174.4" stroke-width="0.55"/>
<line x1="696.6" y1="174.4" x2="696.4" y2="174.3" stroke-width="0.55"/>
<line x1="714.0" y1="182.0" x2="720.1" y2="176.0" stroke-width="0.99"/>
<line x1="720.1" y1="176.0" x2="725.9" y2="173.5" stroke-width="0.69"/>
<line x1="725.9" y1="173.5" x2="728.3" y2="172.3" stroke-width="0.55"/>
<line x1="728.3" y1="172.3" x2="728.9" y2="172.0" stroke-width="0.55"/>
<line x1="728.3" y1="172.3" x2="729.0" y2="172.1" stroke-width="0.55"/>
<line x1="725.9" y1="173.5" x2="729.5" y2="174.3" stroke-width="0.55"/>
<line x1="729.5" y1="174.3" x2="731.1" y2="175.7" stroke-width="0.55"/>
<line x1="729.5" y1="174.3" x2="731.0" y2="175.9" stroke-width="0.55"/>
<line x1="720.1" y1="176.0" x2="725.2" y2="174.9" stroke-width="0.69"/>
<line x1="725.2" y1="174.9" x2="728.2" y2="175.6" stroke-width="0.55"/>
<line x1="728.2" y1="175.6" x2="730.6" y2="176.1" stroke-width="0.55"/>
<line x1="728.2" y1="175.6" x2="730.6" y2="174.9" stroke-width="0.55"/>
<line x1="725.2" y1="174.9" x2="728.6" y2="174.8" stroke-width="0.55"/>
<line x1="728.6" y1="174.8" x2="730.6" y2="175.9" stroke-width="0.55"/>
<line x1="728.6" y1="174.8" x2="730.5" y2="175.6" stroke-width="0.55"/>
<line x1="714.0" y1="177.0" x2="709.7" y2="173.8" stroke-width="0.99"/>
<line x1="709.7" y1="173.8" x2="708.2" y2="170.8" stroke-width="0.69"/>
<line x1="708.2" y1="170.8" x2="707.5" y2="168.3" stroke-width="0.55"/>
<line x1="707.5" y1="168.3" x2="707.2" y2="166.5" stroke-width="0.55"/>
<line x1="707.5" y1="168.3" x2="707.0" y2="166.4" stroke-width="0.55"/>
<line x1="708.2" y1="170.8" x2="706.5" y2="169.8" stroke-width="0.55"/>
<line x1="706.5" y1="169.8" x2="705.0" y2="169.5" stroke-width="0.55"/>
<line x1="706.5" y1="169.8" x2="705.2" y2="169.5" stroke-width="0.55"/>
<line x1="709.7" y1="173.8" x2="705.9" y2="173.9" stroke-width="0.69"/>
<line x1="705.9" y1="173.9" x2="703.5" y2="173.8" stroke-width="0.55"/>
<line x1="703.5" y1="173.8" x2="702.0" y2="173.4" stroke-width="0.55"/>
<line x1="703.5" y1="173.8" x2="702.0" y2="173.9" stroke-width="0.55"/>
<line x1="705.9" y1="173.9" x2="703.5" y2="175.1" stroke-width="0.55"/>
<line x1="703.5" y1="175.1" x2="701.8" y2="175.9" stroke-width="0.55"/>
<line x1="703.5" y1="175.1" x2="701.6" y2="175.2" stroke-width="0.55"/>
<line x1="714.0" y1="177.0" x2="717.4" y2="172.6" stroke-width="0.99"/>
<line x1="717.4" y1="172.6" x2="718.3" y2="169.7" stroke-width="0.69"/>
<line x1="718.3" y1="169.7" x2="718.4" y2="167.4" stroke-width="0.55"/>
<line x1="718.4" y1="167.4" x2="719.0" y2="165.7" stroke-width="0.55"/>
<line x1="718.4" y1="167.4" x2="718.0" y2="165.8" stroke-width="0.55"/>
<line x1="718.3" y1="169.7" x2="719.7" y2="167.7" stroke-width="0.55"/>
<line x1="719.7" y1="167.7" x2="721.0" y2="166.8" stroke-width="0.55"/>
<line x1="719.7" y1="167.7" x2="721.2" y2="166.4" stroke-width="0.55"/>
<line x1="717.4" y1="172.6" x2="719.8" y2="170.1" stroke-width="0.69"/>
<line x1="719.8" y1="170.1" x2="720.7" y2="167.8" stroke-width="0.55"/>
<line x1="720.7" y1="167.8" x2="720.2" y2="166.0" stroke-width="0.55"/>
<line x1="720.7" y1="167.8" x2="720.3" y2="166.5" stroke-width="0.55"/>
<line x1="719.8" y1="170.1" x2="721.2" y2="167.9" stroke-width="0.55"/>
<line x1="721.2" y1="167.9" x2="722.9" y2="166.9" stroke-width="0.55"/>
<line x1="721.2" y1="167.9" x2="721.3" y2="166.5" stroke-width="0.55"/>
<line x1="714.0" y1="172.0" x2="710.9" y2="167.5" stroke-width="0.99"/>
<line x1="710.9" y1="167.5" x2="710.1" y2="164.2" stroke-width="0.69"/>
<line x1="710.1" y1="164.2" x2="709.1" y2="162.3" stroke-width="0.55"/>
<line x1="709.1" y1="162.3" x2="708.9" y2="162.3" stroke-width="0.55"/>
<line x1="709.1" y1="162.3" x2="709.1" y2="162.1" stroke-width="0.55"/>
<line x1="710.1" y1="164.2" x2="709.7" y2="162.3" stroke-width="0.55"/>
<line x1="710.9" y1="167.5" x2="707.7" y2="166.6" stroke-width="0.69"/>
<line x1="707.7" y1="166.6" x2="705.6" y2="165.0" stroke-width="0.55"/>
<line x1="705.6" y1="165.0" x2="704.4" y2="165.1" stroke-width="0.55"/>
<line x1="705.6" y1="165.0" x2="704.9" y2="164.8" stroke-width="0.55"/>
<line x1="707.7" y1="166.6" x2="705.4" y2="167.3" stroke-width="0.55"/>
<line x1="705.4" y1="167.3" x2="703.5" y2="167.4" stroke-width="0.55"/>
<line x1="705.4" y1="167.3" x2="704.0" y2="167.0" stroke-width="0.55"/>
<line x1="714.0" y1="172.0" x2="718.1" y2="166.7" stroke-width="0.99"/>
<line x1="718.1" y1="166.7" x2="720.4" y2="164.1" stroke-width="0.69"/>
<line x1="720.4" y1="164.1" x2="720.9" y2="163.8" stroke-width="0.55"/>
<line x1="720.4" y1="164.1" x2="720.9" y2="163.7" stroke-width="0.55"/>
<line x1="718.1" y1="166.7" x2="718.6" y2="163.6" stroke-width="0.69"/>
<line x1="718.6" y1="163.6" x2="719.2" y2="162.9" stroke-width="0.55"/>
<line x1="718.6" y1="163.6" x2="718.2" y2="162.4" stroke-width="0.55"/>
<line x1="714.0" y1="212.0" x2="707.2" y2="214.5" stroke-width="0.88"/>
<line x1="707.2" y1="214.5" x2="706.8" y2="214.9" stroke-width="0.62"/>
<line x1="707.2" y1="214.5" x2="706.6" y2="214.8" stroke-width="0.62"/>
<line x1="714.0" y1="209.0" x2="705.0" y2="213.9" stroke-width="0.88"/>
<line x1="705.0" y1="213.9" x2="704.6" y2="214.6" stroke-width="0.62"/>
<line x1="705.0" y1="213.9" x2="704.2" y2="214.1" stroke-width="0.62"/>
<line x1="714.0" y1="206.0" x2="705.8" y2="212.2" stroke-width="0.88"/>
<line x1="705.8" y1="212.2" x2="703.2" y2="213.1" stroke-width="0.62"/>
<line x1="703.2" y1="213.1" x2="702.6" y2="213.3" stroke-width="0.55"/>
<line x1="703.2" y1="213.1" x2="702.2" y2="213.1" stroke-width="0.55"/>
<line x1="705.8" y1="212.2" x2="704.5" y2="213.5" stroke-width="0.62"/>
<line x1="704.5" y1="213.5" x2="703.9" y2="213.8" stroke-width="0.55"/>
<line x1="714.0" y1="212.0" x2="720.8" y2="214.5" stroke-width="0.88"/>
<line x1="720.8" y1="214.5" x2="721.2" y2="214.8" stroke-width="0.62"/>
<line x1="720.8" y1="214.5" x2="722.0" y2="214.3" stroke-width="0.62"/>
<line x1="714.0" y1="209.0" x2="723.0" y2="213.9" stroke-width="0.88"/>
<line x1="723.0" y1="213.9" x2="723.6" y2="214.5" stroke-width="0.62"/>
<line x1="723.0" y1="213.9" x2="723.3" y2="214.6" stroke-width="0.62"/>
<line x1="714.0" y1="206.0" x2="722.2" y2="212.2" stroke-width="0.88"/>
<line x1="722.2" y1="212.2" x2="724.0" y2="213.1" stroke-width="0.62"/>
<line x1="724.0" y1="213.1" x2="724.6" y2="213.2" stroke-width="0.55"/>
<line x1="724.0" y1="213.1" x2="724.7" y2="213.1" stroke-width="0.55"/>
<line x1="722.2" y1="212.2" x2="724.8" y2="212.6" stroke-width="0.62"/>
<line x1="724.8" y1="212.6" x2="725.2" y2="212.8" stroke-width="0.55"/>
<line x1="724.8" y1="212.6" x2="725.2" y2="212.8" stroke-width="0.55"/>
<path d="M734.8,188.8 L736.5,190.7 L734.3,192.3 L736.5,194.6 L734.2,195.8 L735.9,198.3 L732.9,198.7 L735.9,202.4 L732.3,202.1 L733.7,205.2 L730.8,204.9 L732.1,208.6 L729.0,207.7 L729.8,211.5 L726.9,210.3 L726.6,213.3 L724.3,212.6 L723.8,216.0 L720.6,212.2 L720.2,217.2 L717.8,214.8 L716.4,217.8 L714.3,213.6 L712.5,218.1 L710.9,214.5 L709.0,215.9 L707.9,212.6 L704.9,216.9 L704.4,212.8 L702.1,214.0 L702.0,210.2 L699.2,211.8 L699.4,208.5 L695.7,210.5 L697.1,206.3 L694.4,206.7 L694.5,204.3 L691.7,204.2 L694.3,200.4 L690.2,200.7 L692.7,197.6 L689.7,196.8 L692.2,194.2 L689.3,192.9 L692.1,190.6 L689.7,188.8 L693.6,187.0 L690.8,184.7 L693.9,183.4 L691.9,180.7 L695.2,180.0 L693.2,176.8 L696.6,176.7 L695.9,173.9 L698.7,174.0 L698.1,170.9 L700.3,171.0 L700.4,168.2 L702.4,168.6 L702.6,165.7 L704.6,166.6 L704.9,163.0 L706.9,164.9 L707.3,160.8 L709.5,164.9 L710.1,159.8 L711.7,163.3 L712.8,160.0 L714.1,162.8 L715.6,159.6 L716.5,163.8 L718.2,161.2 L719.1,163.4 L720.6,163.1 L721.3,165.5 L723.5,163.7 L723.1,168.4 L726.0,166.0 L725.8,169.4 L728.7,168.2 L727.5,172.5 L731.0,171.3 L729.5,175.2 L732.3,175.3 L731.7,178.0 L733.3,179.3 L732.9,181.6 L735.6,182.7 L733.3,185.2 L737.0,186.7 Z" stroke="#7a7a7a" stroke-width="0.6" stroke-dasharray="2.5 0.8"/>
<path d="M699.3,187.5 l-2.3,-0.9 M729.5,180.3 l2.1,-0.7 M713.8,214.7 l-0.5,2.8 M720.1,205.1 l2.5,1.2 M732.4,193.0 l1.6,-1.2 M734.2,196.2 l2.7,0.7 M733.6,196.4 l2.5,0.6 M722.4,176.2 l1.4,-1.8 M726.4,170.6 l0.2,-1.6 M727.0,211.7 l1.0,1.9 M729.3,205.2 l1.5,1.2 M720.4,212.7 l1.9,1.5 M728.7,194.6 l2.0,1.1 M718.0,212.9 l-0.8,2.2 M709.2,170.7 l-0.0,-1.9 M724.2,177.7 l1.4,-1.2 M724.0,208.7 l0.6,1.5 M711.6,212.6 l0.6,3.1 M704.2,202.3 l-1.4,2.6 M712.8,168.5 l-0.5,-2.4 M696.1,205.8 l-1.9,1.7 M707.9,205.2 l-2.4,1.5 M723.5,207.3 l1.9,1.6 M710.0,210.4 l-0.2,2.7 M718.5,210.8 l-0.1,2.0 M728.8,209.3 l1.3,1.5 M730.7,206.3 l2.1,2.2 M706.0,169.8 l-0.6,-2.8 M698.8,203.4 l-1.9,0.0 M701.5,203.4 l-2.2,0.6 M726.8,177.3 l2.1,-2.2 M732.4,191.9 l2.5,-0.4 M698.3,175.2 l-2.3,-1.4 M694.2,197.5 l-1.7,-0.4 M714.5,166.5 l-1.6,-2.8 M731.4,190.1 l1.9,-0.3 M727.2,187.0 l2.8,0.1 M698.8,174.6 l-1.4,-0.7 M716.3,209.5 l0.7,3.0 M720.4,213.8 l0.3,2.1 M701.5,183.3 l-1.0,-2.9 M727.5,201.3 l2.6,1.8 M694.2,181.9 l-1.6,-0.5 M700.7,172.7 l-0.5,-1.4 M724.1,175.4 l-0.2,-3.1 M695.8,188.1 l-3.1,0.4 M730.3,197.2 l2.1,0.2 M729.3,189.6 l1.7,-0.3 M696.6,179.2 l-0.8,-1.9 M697.2,190.3 l-3.0,-0.1 M721.7,176.2 l0.8,-1.8 M701.6,175.7 l-2.1,-2.4 M693.8,180.1 l-0.7,-1.4 M724.6,180.3 l1.4,-0.5 M728.5,182.7 l0.7,-1.3 M729.8,192.1 l1.9,-1.1 M717.0,172.5 l-0.6,-2.7 M723.9,175.4 l-0.0,-1.6 M702.4,175.9 l-1.0,-2.5 M728.8,194.9 l1.5,-0.5 M724.4,168.3 l1.4,-1.5 M713.2,166.3 l1.1,-2.0 M731.7,178.9 l1.3,-2.6 M707.0,173.8 l-1.1,-2.3 M694.9,201.6 l-3.0,-0.1 M704.7,201.4 l-2.0,2.0 M715.3,166.5 l1.1,-1.5 M701.3,206.8 l-0.4,1.6 M723.2,175.4 l-0.3,-2.5 M723.4,170.7 l2.0,-1.8 M702.7,171.7 l-0.9,-1.5 M718.0,209.0 l1.6,1.8 M725.6,173.8 l2.5,-1.9 M730.1,192.0 l3.0,-0.9 M727.1,182.6 l1.0,-1.8 M710.3,215.1 l-1.5,2.6 M728.9,208.3 l2.3,0.4 M715.0,169.0 l-0.1,-2.4 M734.9,197.5 l2.6,1.4 M715.6,212.2 l-0.1,1.9 M694.9,195.5 l-2.1,-1.2 M703.1,177.8 l-2.1,-1.2 M730.1,196.3 l2.6,0.5 M698.9,201.4 l-2.2,1.1 M704.2,177.7 l-1.8,-1.6 M731.2,177.5 l1.8,-1.5 M703.5,204.5 l-0.6,1.5 M731.7,187.7 l1.4,-1.7 M696.6,182.5 l-2.4,-1.1 M719.2,208.4 l0.0,2.4 M725.2,203.0 l1.4,1.8 M727.5,201.3 l1.0,1.4 M726.5,195.1 l3.1,0.1 M727.4,209.6 l1.3,1.7 M724.4,180.3 l1.2,-2.1 M727.6,208.4 l1.6,1.6 M698.0,180.9 l-2.4,-0.7 M717.5,169.9 l1.3,-1.6 M730.3,207.8 l0.7,1.7 M709.9,211.5 l0.6,1.5 M715.4,215.9 l0.2,2.4 M706.2,213.4 l-1.3,2.0 M693.8,184.4 l-2.3,-0.9 M717.1,209.9 l-0.7,2.2 M715.0,206.7 l1.0,1.8 M714.1,171.1 l1.3,-2.3 M732.5,186.8 l1.4,-1.4 M698.2,174.7 l-1.2,-2.2 M720.2,167.6 l0.4,-2.8 M730.3,195.1 l1.8,0.4 M702.0,198.2 l-3.1,0.8 M726.2,170.9 l0.0,-1.8 M714.6,207.1 l-0.1,2.9 M726.8,181.8 l1.8,-1.0 M697.3,179.0 l-2.9,-0.9 M717.6,214.0 l0.7,2.5 M704.4,210.9 l-1.6,1.3 M718.5,214.0 l0.8,3.0 M700.9,185.2 l-1.1,-1.5 M704.1,209.7 l-1.5,2.4 M700.9,174.3 l-1.2,-1.4 M716.5,171.3 l0.4,-2.1 M708.8,168.8 l-1.7,-2.3 M698.4,179.8 l-1.4,-0.7 M696.6,201.1 l-1.3,1.5 M710.7,207.7 l-1.0,1.5 M707.5,213.9 l0.1,3.1 M711.2,172.1 l0.3,-1.9 M733.1,195.2 l1.9,-0.3 M702.3,204.5 l-1.7,2.0 M708.1,169.8 l-1.7,-2.4 M694.3,193.9 l-2.3,0.3 M703.6,168.8 l-1.1,-1.6 M695.2,201.7 l-1.8,1.3 M695.5,179.5 l-2.6,-0.4 M723.3,178.0 l1.7,-1.2 M719.8,174.7 l-0.5,-3.0 M725.0,201.5 l1.6,-0.0 M696.9,175.5 l-1.7,-1.3 M720.3,174.6 l1.6,-1.8 M724.1,178.4 l1.3,-2.3 M706.1,165.5 l0.4,-2.8 M703.0,167.7 l0.1,-2.5 M694.4,205.5 l-2.0,2.3 M725.7,169.8 l1.4,-1.7 M725.6,207.4 l1.4,0.9 M734.6,200.4 l2.5,1.5 M723.4,206.2 l2.0,1.3 M704.2,172.4 l-0.4,-2.6 M700.7,177.7 l-1.3,-1.8 M703.7,210.2 l-0.3,2.4 M705.3,206.7 l-1.7,2.2 M697.3,199.2 l-2.3,0.3 M726.5,207.5 l1.9,0.6 M698.7,200.9 l-1.5,0.7 M706.8,174.0 l-1.1,-1.0 M693.1,201.7 l-2.4,-0.6 M694.3,190.2 l-1.8,-0.3 M715.6,165.9 l1.4,-2.2 M719.8,212.7 l0.3,1.9 M701.1,172.5 l-2.5,-1.3 M730.1,180.5 l1.2,-2.3 M697.3,205.1 l-2.7,0.5 M705.0,174.8 l-0.0,-2.0 M707.1,207.5 l-0.2,1.6 M729.2,201.1 l2.0,2.4 M696.7,180.6 l-1.1,-1.2 M722.7,173.8 l1.1,-3.0 M730.2,208.7 l1.1,1.9 M721.6,207.2 l0.2,1.8" stroke="#7d7d7d" stroke-width="0.55"/>
</g>
<!--DTREE_END-->
  <!-- train -->
  <g stroke="#222" stroke-width="0.9" fill="#fff">
    <path d="M866.5,142.8 Q886.5,138.6 906.5,142.8 Q911.6,144.2 911.7,152 L910.6,171 Q910,176.6 906,176.6 L867.2,176.6 Q863.4,176.6 862.9,171 L861.2,152 Q861.4,144.2 866.5,142.8 Z"/>
    <path d="M867.5,148.6 Q886.5,146.2 906,148.6 L903.4,169.4 L870.5,169.4 Z"/>
    <path d="M864.6,176.6 L864.6,189 L875,189 L875,185.6 L868.7,185.6 L868.7,182.8 L904.5,182.8 L904.5,185.6 L898.2,185.6 L898.2,189 L908.6,189 L908.6,176.6"/>
    <path d="M877,182.8 L896.2,182.8 L892.3,204.3 L881,204.3 Z"/>
    <path d="M875,189 L867,200 M898.2,189 L906,200"/>
    <path d="M864.6,209 L866.5,200.5 L870,199.6 L873.5,201 L878.4,200.4 L881,204.3 L892.3,204.3 L894.8,200.4 L899.8,201 L903.4,199.6 L906.9,200.5 L909.2,209"/>
    <path d="M874.5,201 L876.4,208.8 M899,201 L897,208.8"/>
    <path d="M864.6,209.2 L909.6,209.2 L891.6,221.6 L891.6,239 L882.6,239 L882.6,221.6 Z" fill="#7b7b7b"/>
    <path d="M866,210.5 L908,210.5" stroke="#aaa" stroke-width="0.6"/>
    <path d="M905,211 L884,223 L889,238" stroke="#aaa" stroke-width="0.5" fill="none"/>
  </g>
  <!-- people on path -->
  <g fill="#2d2d2d" stroke="none">
    <circle cx="739.9" cy="228.6" r="1.9"/>
    <path d="M737.6,231 Q739.9,229.6 742.2,231 L742.6,240.5 L741.2,240.5 L741.2,246 L738.6,246 L738.6,240.5 L737.2,240.5 Z"/>
    <circle cx="761.5" cy="227.8" r="2"/>
    <path d="M758.2,230.6 Q761.5,229.3 764.8,230.6 L765.4,238 L764,238 L763.6,246 L759.4,246 L759,238 L757.6,238 Z"/>
    <circle cx="768.2" cy="228.2" r="1.9"/>
    <path d="M765.6,230.8 Q768.2,229.6 770.8,230.8 L771.6,239 L770.3,239 L770,246 L766.4,246 L766.1,239 L764.8,239 Z"/>
  </g>
  <g fill="#fff" stroke="none">
    <rect x="759.6" y="231.2" width="3.6" height="4.6"/>
    <rect x="738.6" y="233.5" width="2.4" height="1"/>
    <rect x="738.6" y="236.5" width="2.4" height="1"/>
    <rect x="767" y="236.2" width="2.4" height="1"/>
  </g>
  <!-- shrubs -->
  <g stroke="#333" stroke-width="0.8" fill="none">
    <path d="M783,242 L785,240 L786,242.5 L788,240.6 L789.5,243 L791,241 L792,243.5 M796,243 L797.5,241.5 L799,244 L800,242 L801,245 M783,244.5 L786,246 L789,244.5 M797,247 L799,245.5 L801,248"/>
    <path d="M809,251 L809.5,243 L810.5,249 L811.5,241 L812.5,249 L813.5,240.5 L814.5,248.5 L815.5,241 L816.5,249.5 L817.5,242 L818.5,250 L819.5,241.5 L820.5,250 L821.5,243 L822.5,250.5 L823.5,244 L824.5,251" stroke-width="1.1" stroke="#222"/>
    <path d="M826,250 L827,248 L828,250 L830,247.5 L831,249.5 L833,248 L834,249 L836,246 L837,248.5 L839,247 L840,248.5 L842,247 L843.5,248"/>
  </g>
  <!-- labels -->
  <g fill="#333" stroke="none" font-size="5.3">
    <text x="711" y="269" textLength="6.2" lengthAdjust="spacingAndGlyphs">SZ</text>
    <text x="746.1" y="269" textLength="13.4" lengthAdjust="spacingAndGlyphs" fill="#777">MUW</text>
    <text x="728.7" y="276.7" textLength="48.1" lengthAdjust="spacingAndGlyphs">12' Min (14' Desirable)</text>
    <text x="720.7" y="259.8" textLength="6.3" lengthAdjust="spacingAndGlyphs">SH</text>
    <text x="780.8" y="259.8" textLength="6.2" lengthAdjust="spacingAndGlyphs">SH</text>
    <text x="815.6" y="268.7" textLength="6.2" lengthAdjust="spacingAndGlyphs">SZ</text>
    <text x="810.8" y="275.6" textLength="15.1" lengthAdjust="spacingAndGlyphs">25' Min</text>
    <text x="879.1" y="269.3" textLength="14.5" lengthAdjust="spacingAndGlyphs">15' Min</text>
    <text x="925.2" y="268" textLength="6.2" lengthAdjust="spacingAndGlyphs">SZ</text>
    <text x="923.2" y="275.9" textLength="11" lengthAdjust="spacingAndGlyphs">5' Min</text>
    <text x="795.8" y="294.7" textLength="50.3" lengthAdjust="spacingAndGlyphs">Corridor Width Varies</text>
    <text x="810.8" y="302.6" textLength="18.6" lengthAdjust="spacingAndGlyphs">100' Plus</text>
    <text transform="translate(696.8,236.6) rotate(-90)" x="0" y="0" textLength="31" lengthAdjust="spacingAndGlyphs">Corridor R/W</text>
    <text transform="translate(939.2,237.4) rotate(-90)" x="0" y="0" textLength="31.4" lengthAdjust="spacingAndGlyphs">Corridor R/W</text>
  </g>
  <g fill="#999" stroke="none" font-size="3.9">
    <text x="857.1" y="277.4" textLength="57.5" lengthAdjust="spacingAndGlyphs">Transit Way - specific transit type to</text>
    <text x="857.1" y="281.4" textLength="39" lengthAdjust="spacingAndGlyphs">be determined - automated</text>
    <text x="857.1" y="285.7" textLength="53" lengthAdjust="spacingAndGlyphs">guideway depicted for illustrative</text>
    <text x="857.1" y="290.3" textLength="15" lengthAdjust="spacingAndGlyphs">purposes</text>
  </g>
  <!-- utility box interior marks -->
  <g fill="#111"><rect x="745.5" y="257.6" width="2" height="2.8"/><rect x="749" y="257.6" width="3.5" height="2.8"/><rect x="754" y="257.6" width="2" height="2.8"/><rect x="757.5" y="257.6" width="5" height="2.8"/></g>
</g>


</svg>
</body></html>
